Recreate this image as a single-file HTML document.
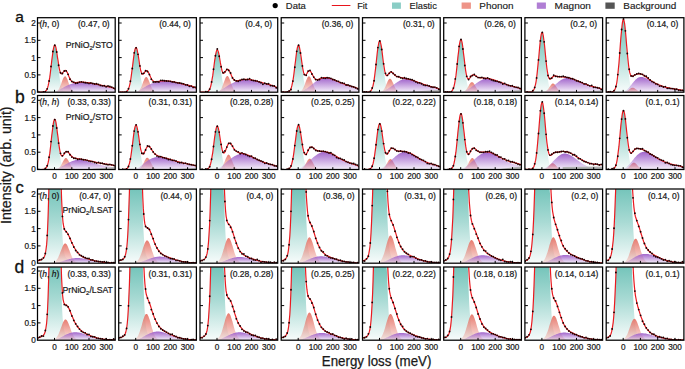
<!DOCTYPE html><html><head><meta charset="utf-8"><style>html,body{margin:0;padding:0;background:#fff;}svg{display:block;}</style></head><body>
<svg width="685" height="369" viewBox="0 0 685 369" font-family='"Liberation Sans", sans-serif'>
<defs>
<linearGradient id="gE" x1="0" y1="0" x2="0" y2="1"><stop offset="0" stop-color="#74c4ba"/><stop offset="0.45" stop-color="#74c4ba" stop-opacity="0.62"/><stop offset="1" stop-color="#74c4ba" stop-opacity="0.05"/></linearGradient>
<linearGradient id="gP" x1="0" y1="0" x2="0" y2="1"><stop offset="0" stop-color="#e77c70"/><stop offset="1" stop-color="#e77c70" stop-opacity="0.18"/></linearGradient>
<linearGradient id="gM" x1="0" y1="0" x2="0" y2="1"><stop offset="0" stop-color="#a266cc"/><stop offset="1" stop-color="#a266cc" stop-opacity="0.1"/></linearGradient>
<linearGradient id="gB" x1="0" y1="0" x2="0" y2="1"><stop offset="0" stop-color="#777"/><stop offset="1" stop-color="#777" stop-opacity="0.2"/></linearGradient>

<clipPath id="c00"><rect x="37.5" y="17.7" width="77.7" height="74.5"/></clipPath>
<clipPath id="c01"><rect x="118.7" y="17.7" width="77.7" height="74.5"/></clipPath>
<clipPath id="c02"><rect x="200" y="17.7" width="77.7" height="74.5"/></clipPath>
<clipPath id="c03"><rect x="281.2" y="17.7" width="77.7" height="74.5"/></clipPath>
<clipPath id="c04"><rect x="362.5" y="17.7" width="77.7" height="74.5"/></clipPath>
<clipPath id="c05"><rect x="443.7" y="17.7" width="77.7" height="74.5"/></clipPath>
<clipPath id="c06"><rect x="524.9" y="17.7" width="77.7" height="74.5"/></clipPath>
<clipPath id="c07"><rect x="606.2" y="17.7" width="77.7" height="74.5"/></clipPath>
<clipPath id="c10"><rect x="37.5" y="95.5" width="77.7" height="74"/></clipPath>
<clipPath id="c11"><rect x="118.7" y="95.5" width="77.7" height="74"/></clipPath>
<clipPath id="c12"><rect x="200" y="95.5" width="77.7" height="74"/></clipPath>
<clipPath id="c13"><rect x="281.2" y="95.5" width="77.7" height="74"/></clipPath>
<clipPath id="c14"><rect x="362.5" y="95.5" width="77.7" height="74"/></clipPath>
<clipPath id="c15"><rect x="443.7" y="95.5" width="77.7" height="74"/></clipPath>
<clipPath id="c16"><rect x="524.9" y="95.5" width="77.7" height="74"/></clipPath>
<clipPath id="c17"><rect x="606.2" y="95.5" width="77.7" height="74"/></clipPath>
<clipPath id="c20"><rect x="37.5" y="189" width="77.7" height="74.2"/></clipPath>
<clipPath id="c21"><rect x="118.7" y="189" width="77.7" height="74.2"/></clipPath>
<clipPath id="c22"><rect x="200" y="189" width="77.7" height="74.2"/></clipPath>
<clipPath id="c23"><rect x="281.2" y="189" width="77.7" height="74.2"/></clipPath>
<clipPath id="c24"><rect x="362.5" y="189" width="77.7" height="74.2"/></clipPath>
<clipPath id="c25"><rect x="443.7" y="189" width="77.7" height="74.2"/></clipPath>
<clipPath id="c26"><rect x="524.9" y="189" width="77.7" height="74.2"/></clipPath>
<clipPath id="c27"><rect x="606.2" y="189" width="77.7" height="74.2"/></clipPath>
<clipPath id="c30"><rect x="37.5" y="267" width="77.7" height="73.2"/></clipPath>
<clipPath id="c31"><rect x="118.7" y="267" width="77.7" height="73.2"/></clipPath>
<clipPath id="c32"><rect x="200" y="267" width="77.7" height="73.2"/></clipPath>
<clipPath id="c33"><rect x="281.2" y="267" width="77.7" height="73.2"/></clipPath>
<clipPath id="c34"><rect x="362.5" y="267" width="77.7" height="73.2"/></clipPath>
<clipPath id="c35"><rect x="443.7" y="267" width="77.7" height="73.2"/></clipPath>
<clipPath id="c36"><rect x="524.9" y="267" width="77.7" height="73.2"/></clipPath>
<clipPath id="c37"><rect x="606.2" y="267" width="77.7" height="73.2"/></clipPath>
</defs>
<style>.t{fill:#1a1a1a;stroke:#1a1a1a;stroke-width:0.22px;}</style>
<rect width="685" height="369" fill="#fff"/>
<circle cx="275.2" cy="5.6" r="2.6" fill="#000"/>
<text x="285.8" y="9.2" font-size="9.6" fill="#1a1a1a" stroke="#1a1a1a" stroke-width="0.15" textLength="20" lengthAdjust="spacingAndGlyphs">Data</text>
<line x1="331.8" y1="5.5" x2="350.4" y2="5.5" stroke="#e8141c" stroke-width="1"/>
<text x="357.2" y="9.2" font-size="9.6" fill="#1a1a1a" stroke="#1a1a1a" stroke-width="0.15" textLength="10.2" lengthAdjust="spacingAndGlyphs">Fit</text>
<rect x="392" y="2.5" width="8.9" height="6.3" fill="#8acdc5"/>
<text x="409.5" y="9.2" font-size="9.6" fill="#1a1a1a" stroke="#1a1a1a" stroke-width="0.15" textLength="27.3" lengthAdjust="spacingAndGlyphs">Elastic</text>
<rect x="461.6" y="2.5" width="9.3" height="6.3" fill="#ee9488"/>
<text x="479.3" y="9.2" font-size="9.6" fill="#1a1a1a" stroke="#1a1a1a" stroke-width="0.15" textLength="34.1" lengthAdjust="spacingAndGlyphs">Phonon</text>
<rect x="536.8" y="2.5" width="9.1" height="6.3" fill="#b07ed4"/>
<text x="554.6" y="9.2" font-size="9.6" fill="#1a1a1a" stroke="#1a1a1a" stroke-width="0.15" textLength="36.3" lengthAdjust="spacingAndGlyphs">Magnon</text>
<rect x="605.4" y="2.5" width="9.3" height="6.3" fill="#555"/>
<text x="623.3" y="9.2" font-size="9.6" fill="#1a1a1a" stroke="#1a1a1a" stroke-width="0.15" textLength="52.9" lengthAdjust="spacingAndGlyphs">Background</text>
<text x="15.3" y="21.5" font-size="15.5" fill="#111" stroke="#111" stroke-width="0.3">a</text>
<text x="15.0" y="102.9" font-size="17.5" fill="#111" stroke="#111" stroke-width="0.3">b</text>
<text x="15.6" y="192.9" font-size="16.5" fill="#111" stroke="#111" stroke-width="0.3">c</text>
<text x="14.6" y="272.9" font-size="17.5" fill="#111" stroke="#111" stroke-width="0.3">d</text>
<text x="321.8" y="365.6" font-size="13.8" fill="#1a1a1a" stroke="#1a1a1a" stroke-width="0.25" textLength="109.6" lengthAdjust="spacingAndGlyphs">Energy loss (meV)</text>
<text transform="translate(10.8,224) rotate(-90)" x="0" y="0" font-size="13.8" fill="#1a1a1a" stroke="#1a1a1a" stroke-width="0.25" textLength="117.6" lengthAdjust="spacingAndGlyphs">Intensity (arb. unit)</text>
<g clip-path="url(#c00)"><path d="M44,92.2L44,92L44.5,91.8L45,91.6L45.5,91.3L46,90.7L46.6,90L47.1,89L47.6,87.7L48.1,85.9L48.6,83.7L49.1,81L49.7,77.7L50.2,74L50.7,69.9L51.2,65.6L51.7,61.1L52.3,56.9L52.8,53L53.3,49.8L53.8,47.4L54.3,46.1L54.8,45.9L55.4,46.9L55.9,48.9L56.4,51.8L56.9,55.5L57.4,59.7L58,64.1L58.5,68.5L59,72.7L59.5,76.5L60,80L60.5,82.8L61.1,85.2L61.6,87.1L62.1,88.6L62.6,89.7L63.1,90.5L63.7,91.1L64.2,91.5L64.7,91.8L65.2,91.9L65.7,92L65.7,92.2Z" fill="url(#gE)"/><path d="M54.8,92.2L54.8,92L55.4,91.9L55.9,91.7L56.4,91.5L56.9,91.2L57.4,90.8L58,90.3L58.5,89.6L59,88.8L59.5,87.8L60,86.6L60.5,85.4L61.1,84L61.6,82.5L62.1,81.1L62.6,79.7L63.1,78.5L63.7,77.5L64.2,76.8L64.7,76.4L65.2,76.3L65.7,76.6L66.2,77.2L66.8,78.2L67.3,79.3L67.8,80.6L68.3,82.1L68.8,83.5L69.4,84.9L69.9,86.2L70.4,87.4L70.9,88.4L71.4,89.3L71.9,90L72.5,90.6L73,91.1L73.5,91.4L74,91.7L74.5,91.8L75.1,92L75.6,92L75.6,92.2Z" fill="url(#gP)"/><path d="M52.3,92.2L52.3,92L52.8,92L53.3,91.9L53.8,91.8L54.3,91.7L54.8,91.6L55.4,91.5L55.9,91.3L56.4,91.2L56.9,91L57.4,90.8L58,90.5L58.5,90.3L59,90L59.5,89.7L60,89.4L60.5,89.1L61.1,88.8L61.6,88.5L62.1,88.2L62.6,87.9L63.1,87.6L63.7,87.4L64.2,87.1L64.7,86.8L65.2,86.5L65.7,86.3L66.2,86L66.8,85.8L67.3,85.5L67.8,85.3L68.3,85.1L68.8,84.9L69.4,84.6L69.9,84.4L70.4,84.2L70.9,84.1L71.4,83.9L71.9,83.7L72.5,83.5L73,83.4L73.5,83.2L74,83.1L74.5,83L75.1,82.9L75.6,82.7L76.1,82.6L76.6,82.6L77.1,82.5L77.6,82.4L78.2,82.3L78.7,82.3L79.2,82.2L79.7,82.2L80.2,82.2L80.8,82.2L81.3,82.2L81.8,82.2L82.3,82.2L82.8,82.2L83.3,82.2L83.9,82.2L84.4,82.3L84.9,82.3L85.4,82.4L85.9,82.4L86.4,82.5L87,82.5L87.5,82.6L88,82.7L88.5,82.8L89,82.8L89.6,82.9L90.1,83L90.6,83.1L91.1,83.2L91.6,83.3L92.1,83.4L92.7,83.5L93.2,83.6L93.7,83.7L94.2,83.8L94.7,83.9L95.3,84L95.8,84.1L96.3,84.2L96.8,84.3L97.3,84.4L97.8,84.5L98.4,84.6L98.9,84.8L99.4,84.9L99.9,85L100.4,85.1L101,85.2L101.5,85.3L102,85.4L102.5,85.5L103,85.6L103.5,85.7L104.1,85.8L104.6,85.9L105.1,86L105.6,86.1L106.1,86.3L106.7,86.4L107.2,86.5L107.7,86.6L108.2,86.7L108.7,86.8L109.2,86.9L109.8,87L110.3,87.1L110.8,87.3L111.3,87.4L111.8,87.6L112.4,87.7L112.9,87.9L113.4,88.2L113.9,88.4L114.4,88.6L114.9,88.9L115.5,89.2L115.5,92.2Z" fill="url(#gM)"/><path d="M37.2,92.2 L37.7,92.2 L38.3,92.2 L38.8,92.2 L39.3,92.2 L39.8,92.2 L40.3,92.2 L40.9,92.2 L41.4,92.2 L41.9,92.2 L42.4,92.2 L42.9,92.1 L43.4,92.1 L44,92 L44.5,91.8 L45,91.6 L45.5,91.3 L46,90.7 L46.6,90 L47.1,89 L47.6,87.7 L48.1,85.9 L48.6,83.7 L49.1,81 L49.7,77.7 L50.2,74 L50.7,69.8 L51.2,65.5 L51.7,61 L52.3,56.7 L52.8,52.7 L53.3,49.4 L53.8,47 L54.3,45.5 L54.8,45.1 L55.4,45.8 L55.9,47.5 L56.4,50.1 L56.9,53.3 L57.4,56.8 L58,60.4 L58.5,63.9 L59,67.1 L59.5,69.6 L60,71.6 L60.5,73 L61.1,73.7 L61.6,73.8 L62.1,73.6 L62.6,73 L63.1,72.3 L63.7,71.6 L64.2,70.9 L64.7,70.5 L65.2,70.4 L65.7,70.5 L66.2,70.9 L66.8,71.7 L67.3,72.6 L67.8,73.7 L68.3,74.9 L68.8,76.2 L69.4,77.4 L69.9,78.5 L70.4,79.5 L70.9,80.3 L71.4,81 L71.9,81.6 L72.5,82 L73,82.3 L73.5,82.5 L74,82.6 L74.5,82.6 L75.1,82.6 L75.6,82.6 L76.1,82.6 L76.6,82.5 L77.1,82.4 L77.6,82.4 L78.2,82.3 L78.7,82.3 L79.2,82.2 L79.7,82.2 L80.2,82.2 L80.8,82.2 L81.3,82.2 L81.8,82.2 L82.3,82.2 L82.8,82.2 L83.3,82.2 L83.9,82.2 L84.4,82.3 L84.9,82.3 L85.4,82.4 L85.9,82.4 L86.4,82.5 L87,82.5 L87.5,82.6 L88,82.7 L88.5,82.8 L89,82.8 L89.6,82.9 L90.1,83 L90.6,83.1 L91.1,83.2 L91.6,83.3 L92.1,83.4 L92.7,83.5 L93.2,83.6 L93.7,83.7 L94.2,83.8 L94.7,83.9 L95.3,84 L95.8,84.1 L96.3,84.2 L96.8,84.3 L97.3,84.4 L97.8,84.5 L98.4,84.6 L98.9,84.8 L99.4,84.9 L99.9,85 L100.4,85.1 L101,85.2 L101.5,85.3 L102,85.4 L102.5,85.5 L103,85.6 L103.5,85.7 L104.1,85.8 L104.6,85.9 L105.1,86 L105.6,86.1 L106.1,86.3 L106.7,86.4 L107.2,86.5 L107.7,86.6 L108.2,86.7 L108.7,86.8 L109.2,86.9 L109.8,87 L110.3,87.1 L110.8,87.3 L111.3,87.4 L111.8,87.6 L112.4,87.7 L112.9,87.9 L113.4,88.2 L113.9,88.4 L114.4,88.6 L114.9,88.9 L115.5,89.2" fill="none" stroke="#ea1a20" stroke-width="1.2" stroke-linejoin="round"/><path d="M37.7,91.5h0M39.6,92.3h0M41.5,92.6h0M43.4,92h0M45.3,91.8h0M47.2,88.8h0M49.1,81h0M51,66.5h0M52.9,51.5h0M54.8,45.2h0M56.7,52h0M58.6,65.2h0M60.5,72.7h0M62.4,73.5h0M64.3,71h0M66.2,70.9h0M68.1,74.3h0M70,79.2h0M71.9,81.4h0M73.8,82.1h0M75.7,83.2h0M77.6,83h0M79.5,82.1h0M81.4,81.8h0M83.3,82.3h0M85.2,82.7h0M87.1,82.9h0M89,83.4h0M90.9,83h0M92.8,83.5h0M94.7,84h0M96.6,83.7h0M98.5,84.4h0M100.4,85.4h0M102.3,85.8h0M104.2,85.7h0M106.1,86.7h0M108,86h0M109.9,86.5h0M111.8,87.1h0M113.7,88.1h0M115.6,89h0" stroke="#1a0000" stroke-width="1.85" stroke-linecap="round" fill="none"/></g>
<rect x="37.5" y="17.7" width="77.7" height="74.5" fill="none" stroke="#000" stroke-width="1.25"/>
<path d="M37.5,74.9h3M37.5,57.6h3M37.5,40.3h3M37.5,23h3M54.5,92.2v-2.3M71.8,92.2v-2.3M89,92.2v-2.3M106.3,92.2v-2.3" stroke="#000" stroke-width="1"/>
<text x="109.7" y="27.4" font-size="8.5" class="t" text-anchor="end">(0.47, 0)</text>
<text x="39.5" y="27.4" font-size="8.5" class="t">(<tspan font-style="italic">h</tspan>, 0)</text>
<text x="112.9" y="47.5" font-size="8.7" class="t" text-anchor="end">PrNiO<tspan font-size="5.9" dy="2.3">2</tspan><tspan dy="-2.3">/STO</tspan></text>
<text x="35.9" y="95.1" font-size="8.2" class="t" text-anchor="end">0</text>
<text x="35.9" y="77.8" font-size="8.2" class="t" text-anchor="end">0.5</text>
<text x="35.9" y="60.5" font-size="8.2" class="t" text-anchor="end">1</text>
<text x="35.9" y="43.2" font-size="8.2" class="t" text-anchor="end">1.5</text>
<text x="35.9" y="25.9" font-size="8.2" class="t" text-anchor="end">2</text>
<g clip-path="url(#c01)"><path d="M125.2,92.2L125.2,92L125.7,91.8L126.2,91.6L126.8,91.3L127.3,90.8L127.8,90.1L128.3,89.2L128.8,87.9L129.4,86.3L129.9,84.1L130.4,81.6L130.9,78.5L131.4,75L131.9,71.1L132.5,66.9L133,62.8L133.5,58.7L134,55L134.5,52L135,49.8L135.6,48.5L136.1,48.3L136.6,49.2L137.1,51.1L137.6,53.9L138.2,57.4L138.7,61.4L139.2,65.5L139.7,69.7L140.2,73.7L140.7,77.4L141.3,80.6L141.8,83.3L142.3,85.6L142.8,87.4L143.3,88.8L143.9,89.9L144.4,90.6L144.9,91.2L145.4,91.5L145.9,91.8L146.4,91.9L147,92L147,92.2Z" fill="url(#gE)"/><path d="M136.1,92.2L136.1,92L136.6,91.9L137.1,91.7L137.6,91.5L138.2,91.2L138.7,90.8L139.2,90.3L139.7,89.7L140.2,88.9L140.7,88L141.3,86.9L141.8,85.7L142.3,84.3L142.8,83L143.3,81.6L143.9,80.3L144.4,79.1L144.9,78.1L145.4,77.4L145.9,77.1L146.4,77L147,77.3L147.5,77.9L148,78.8L148.5,79.9L149,81.1L149.6,82.5L150.1,83.9L150.6,85.2L151.1,86.5L151.6,87.6L152.1,88.6L152.7,89.4L153.2,90.1L153.7,90.7L154.2,91.1L154.7,91.4L155.3,91.7L155.8,91.9L156.3,92L156.8,92.1L156.8,92.2Z" fill="url(#gP)"/><path d="M133.5,92.2L133.5,92L134,92L134.5,91.9L135,91.8L135.6,91.7L136.1,91.6L136.6,91.4L137.1,91.3L137.6,91.1L138.2,90.9L138.7,90.6L139.2,90.4L139.7,90.1L140.2,89.8L140.7,89.5L141.3,89.2L141.8,88.9L142.3,88.6L142.8,88.3L143.3,87.9L143.9,87.6L144.4,87.3L144.9,87L145.4,86.7L145.9,86.4L146.4,86.1L147,85.8L147.5,85.5L148,85.3L148.5,85L149,84.7L149.6,84.5L150.1,84.3L150.6,84L151.1,83.8L151.6,83.6L152.1,83.4L152.7,83.2L153.2,83L153.7,82.8L154.2,82.6L154.7,82.4L155.3,82.2L155.8,82.1L156.3,81.9L156.8,81.8L157.3,81.6L157.8,81.5L158.4,81.4L158.9,81.3L159.4,81.2L159.9,81.1L160.4,81L161,81L161.5,80.9L162,80.9L162.5,80.8L163,80.8L163.5,80.8L164.1,80.8L164.6,80.8L165.1,80.8L165.6,80.8L166.1,80.8L166.7,80.9L167.2,80.9L167.7,81L168.2,81L168.7,81.1L169.2,81.1L169.8,81.2L170.3,81.3L170.8,81.3L171.3,81.4L171.8,81.5L172.4,81.6L172.9,81.7L173.4,81.8L173.9,81.9L174.4,82L174.9,82.1L175.5,82.2L176,82.4L176.5,82.5L177,82.6L177.5,82.7L178.1,82.8L178.6,82.9L179.1,83.1L179.6,83.2L180.1,83.3L180.6,83.4L181.2,83.6L181.7,83.7L182.2,83.8L182.7,83.9L183.2,84.1L183.8,84.2L184.3,84.3L184.8,84.4L185.3,84.6L185.8,84.7L186.3,84.8L186.9,84.9L187.4,85.1L187.9,85.2L188.4,85.3L188.9,85.4L189.4,85.5L190,85.7L190.5,85.8L191,85.9L191.5,86.1L192,86.3L192.6,86.4L193.1,86.6L193.6,86.8L194.1,87.1L194.6,87.3L195.1,87.6L195.7,87.9L196.2,88.2L196.7,88.6L196.7,92.2Z" fill="url(#gM)"/><path d="M118.5,92.2 L119,92.2 L119.5,92.2 L120,92.2 L120.5,92.2 L121.1,92.2 L121.6,92.2 L122.1,92.2 L122.6,92.2 L123.1,92.2 L123.7,92.2 L124.2,92.1 L124.7,92.1 L125.2,92 L125.7,91.8 L126.2,91.6 L126.8,91.3 L127.3,90.8 L127.8,90.1 L128.3,89.2 L128.8,87.9 L129.4,86.2 L129.9,84.1 L130.4,81.5 L130.9,78.5 L131.4,74.9 L131.9,71 L132.5,66.8 L133,62.6 L133.5,58.5 L134,54.8 L134.5,51.6 L135,49.3 L135.6,47.9 L136.1,47.5 L136.6,48.1 L137.1,49.7 L137.6,52.1 L138.2,55.1 L138.7,58.5 L139.2,61.9 L139.7,65.1 L140.2,68 L140.7,70.5 L141.3,72.3 L141.8,73.5 L142.3,74.1 L142.8,74.2 L143.3,73.9 L143.9,73.3 L144.4,72.6 L144.9,71.9 L145.4,71.3 L145.9,70.8 L146.4,70.6 L147,70.7 L147.5,71.1 L148,71.8 L148.5,72.6 L149,73.7 L149.6,74.8 L150.1,75.9 L150.6,77.1 L151.1,78.1 L151.6,79 L152.1,79.8 L152.7,80.4 L153.2,80.9 L153.7,81.3 L154.2,81.5 L154.7,81.7 L155.3,81.7 L155.8,81.7 L156.3,81.7 L156.8,81.6 L157.3,81.6 L157.8,81.5 L158.4,81.4 L158.9,81.3 L159.4,81.2 L159.9,81.1 L160.4,81 L161,81 L161.5,80.9 L162,80.9 L162.5,80.8 L163,80.8 L163.5,80.8 L164.1,80.8 L164.6,80.8 L165.1,80.8 L165.6,80.8 L166.1,80.8 L166.7,80.9 L167.2,80.9 L167.7,81 L168.2,81 L168.7,81.1 L169.2,81.1 L169.8,81.2 L170.3,81.3 L170.8,81.3 L171.3,81.4 L171.8,81.5 L172.4,81.6 L172.9,81.7 L173.4,81.8 L173.9,81.9 L174.4,82 L174.9,82.1 L175.5,82.2 L176,82.4 L176.5,82.5 L177,82.6 L177.5,82.7 L178.1,82.8 L178.6,82.9 L179.1,83.1 L179.6,83.2 L180.1,83.3 L180.6,83.4 L181.2,83.6 L181.7,83.7 L182.2,83.8 L182.7,83.9 L183.2,84.1 L183.8,84.2 L184.3,84.3 L184.8,84.4 L185.3,84.6 L185.8,84.7 L186.3,84.8 L186.9,84.9 L187.4,85.1 L187.9,85.2 L188.4,85.3 L188.9,85.4 L189.4,85.5 L190,85.7 L190.5,85.8 L191,85.9 L191.5,86.1 L192,86.3 L192.6,86.4 L193.1,86.6 L193.6,86.8 L194.1,87.1 L194.6,87.3 L195.1,87.6 L195.7,87.9 L196.2,88.2 L196.7,88.6" fill="none" stroke="#ea1a20" stroke-width="1.2" stroke-linejoin="round"/><path d="M119,93.3h0M120.9,92.5h0M122.8,92.5h0M124.7,92.3h0M126.6,91.7h0M128.5,88.7h0M130.4,81.2h0M132.3,68.5h0M134.2,52.8h0M136.1,47.8h0M138,54.3h0M139.9,65.9h0M141.8,73.6h0M143.7,73.3h0M145.6,70.7h0M147.5,71.5h0M149.4,74.5h0M151.3,79.2h0M153.2,82h0M155.1,82h0M157,81.7h0M158.9,82h0M160.8,80.3h0M162.7,80.4h0M164.6,80.7h0M166.5,81h0M168.4,81.1h0M170.3,81.3h0M172.2,81.9h0M174.1,82h0M176,82.6h0M177.9,82.9h0M179.8,83h0M181.7,83.4h0M183.6,83.8h0M185.5,84.8h0M187.4,85h0M189.3,86.3h0M191.2,86.1h0M193.1,87.4h0M195,87.1h0M196.9,88.8h0" stroke="#1a0000" stroke-width="1.85" stroke-linecap="round" fill="none"/></g>
<rect x="118.7" y="17.7" width="77.7" height="74.5" fill="none" stroke="#000" stroke-width="1.25"/>
<path d="M118.7,74.9h3M118.7,57.6h3M118.7,40.3h3M118.7,23h3M135.7,92.2v-2.3M153,92.2v-2.3M170.3,92.2v-2.3M187.6,92.2v-2.3" stroke="#000" stroke-width="1"/>
<text x="190.9" y="27.4" font-size="8.5" class="t" text-anchor="end">(0.44, 0)</text>
<g clip-path="url(#c02)"><path d="M206.4,92.2L206.4,92L207,91.9L207.5,91.7L208,91.4L208.5,90.9L209,90.3L209.6,89.4L210.1,88.2L210.6,86.6L211.1,84.6L211.6,82.1L212.1,79.2L212.7,75.9L213.2,72.2L213.7,68.3L214.2,64.4L214.7,60.6L215.3,57.1L215.8,54.2L216.3,52.1L216.8,50.9L217.3,50.7L217.8,51.6L218.4,53.4L218.9,56.1L219.4,59.3L219.9,63.1L220.4,67L221,71L221.5,74.7L222,78.2L222.5,81.2L223,83.8L223.5,86L224.1,87.7L224.6,89L225.1,90L225.6,90.7L226.1,91.2L226.7,91.6L227.2,91.8L227.7,92L228.2,92.1L228.2,92.2Z" fill="url(#gE)"/><path d="M216.8,92.2L216.8,92L217.3,92L217.8,91.8L218.4,91.6L218.9,91.4L219.4,91L219.9,90.6L220.4,90L221,89.3L221.5,88.4L222,87.3L222.5,86.1L223,84.8L223.5,83.3L224.1,81.8L224.6,80.4L225.1,79L225.6,77.8L226.1,76.9L226.7,76.3L227.2,76L227.7,76L228.2,76.4L228.7,77.2L229.2,78.2L229.8,79.5L230.3,80.9L230.8,82.3L231.3,83.8L231.8,85.2L232.4,86.5L232.9,87.7L233.4,88.7L233.9,89.5L234.4,90.2L234.9,90.8L235.5,91.2L236,91.5L236.5,91.7L237,91.9L237.5,92L237.5,92.2Z" fill="url(#gP)"/><path d="M214.7,92.2L214.7,92L215.3,92L215.8,91.9L216.3,91.8L216.8,91.7L217.3,91.6L217.8,91.4L218.4,91.2L218.9,91L219.4,90.8L219.9,90.6L220.4,90.3L221,90L221.5,89.7L222,89.4L222.5,89.1L223,88.7L223.5,88.4L224.1,88.1L224.6,87.7L225.1,87.4L225.6,87L226.1,86.7L226.7,86.4L227.2,86L227.7,85.7L228.2,85.4L228.7,85.1L229.2,84.8L229.8,84.5L230.3,84.2L230.8,84L231.3,83.7L231.8,83.4L232.4,83.2L232.9,82.9L233.4,82.7L233.9,82.4L234.4,82.2L234.9,82L235.5,81.8L236,81.5L236.5,81.3L237,81.1L237.5,81L238,80.8L238.6,80.6L239.1,80.4L239.6,80.3L240.1,80.2L240.6,80L241.2,79.9L241.7,79.8L242.2,79.7L242.7,79.6L243.2,79.6L243.7,79.5L244.3,79.5L244.8,79.4L245.3,79.4L245.8,79.4L246.3,79.4L246.9,79.4L247.4,79.4L247.9,79.5L248.4,79.5L248.9,79.5L249.4,79.6L250,79.7L250.5,79.7L251,79.8L251.5,79.9L252,80L252.6,80.1L253.1,80.2L253.6,80.3L254.1,80.4L254.6,80.5L255.1,80.7L255.7,80.8L256.2,80.9L256.7,81.1L257.2,81.2L257.7,81.4L258.3,81.5L258.8,81.6L259.3,81.8L259.8,81.9L260.3,82.1L260.8,82.2L261.4,82.4L261.9,82.6L262.4,82.7L262.9,82.9L263.4,83L264,83.2L264.5,83.3L265,83.5L265.5,83.6L266,83.8L266.5,83.9L267.1,84.1L267.6,84.2L268.1,84.4L268.6,84.5L269.1,84.6L269.7,84.8L270.2,84.9L270.7,85.1L271.2,85.2L271.7,85.4L272.2,85.5L272.8,85.7L273.3,85.9L273.8,86.1L274.3,86.3L274.8,86.5L275.4,86.8L275.9,87.1L276.4,87.4L276.9,87.7L277.4,88L277.9,88.4L277.9,92.2Z" fill="url(#gM)"/><path d="M199.7,92.2 L200.2,92.2 L200.7,92.2 L201.3,92.2 L201.8,92.2 L202.3,92.2 L202.8,92.2 L203.3,92.2 L203.9,92.2 L204.4,92.2 L204.9,92.2 L205.4,92.1 L205.9,92.1 L206.4,92 L207,91.9 L207.5,91.7 L208,91.4 L208.5,90.9 L209,90.2 L209.6,89.4 L210.1,88.1 L210.6,86.6 L211.1,84.6 L211.6,82.1 L212.1,79.2 L212.7,75.9 L213.2,72.2 L213.7,68.2 L214.2,64.2 L214.7,60.3 L215.3,56.8 L215.8,53.8 L216.3,51.6 L216.8,50.2 L217.3,49.8 L217.8,50.4 L218.4,51.9 L218.9,54.1 L219.4,56.8 L219.9,59.8 L220.4,62.9 L221,65.8 L221.5,68.4 L222,70.5 L222.5,72 L223,72.9 L223.5,73.3 L224.1,73.2 L224.6,72.7 L225.1,72 L225.6,71.2 L226.1,70.4 L226.7,69.8 L227.2,69.4 L227.7,69.3 L228.2,69.5 L228.7,70 L229.2,70.8 L229.8,71.8 L230.3,72.9 L230.8,74.1 L231.3,75.3 L231.8,76.4 L232.4,77.5 L232.9,78.4 L233.4,79.2 L233.9,79.8 L234.4,80.2 L234.9,80.5 L235.5,80.7 L236,80.8 L236.5,80.9 L237,80.8 L237.5,80.7 L238,80.6 L238.6,80.5 L239.1,80.4 L239.6,80.3 L240.1,80.1 L240.6,80 L241.2,79.9 L241.7,79.8 L242.2,79.7 L242.7,79.6 L243.2,79.6 L243.7,79.5 L244.3,79.5 L244.8,79.4 L245.3,79.4 L245.8,79.4 L246.3,79.4 L246.9,79.4 L247.4,79.4 L247.9,79.5 L248.4,79.5 L248.9,79.5 L249.4,79.6 L250,79.7 L250.5,79.7 L251,79.8 L251.5,79.9 L252,80 L252.6,80.1 L253.1,80.2 L253.6,80.3 L254.1,80.4 L254.6,80.5 L255.1,80.7 L255.7,80.8 L256.2,80.9 L256.7,81.1 L257.2,81.2 L257.7,81.4 L258.3,81.5 L258.8,81.6 L259.3,81.8 L259.8,81.9 L260.3,82.1 L260.8,82.2 L261.4,82.4 L261.9,82.6 L262.4,82.7 L262.9,82.9 L263.4,83 L264,83.2 L264.5,83.3 L265,83.5 L265.5,83.6 L266,83.8 L266.5,83.9 L267.1,84.1 L267.6,84.2 L268.1,84.4 L268.6,84.5 L269.1,84.6 L269.7,84.8 L270.2,84.9 L270.7,85.1 L271.2,85.2 L271.7,85.4 L272.2,85.5 L272.8,85.7 L273.3,85.9 L273.8,86.1 L274.3,86.3 L274.8,86.5 L275.4,86.8 L275.9,87.1 L276.4,87.4 L276.9,87.7 L277.4,88 L277.9,88.4" fill="none" stroke="#ea1a20" stroke-width="1.2" stroke-linejoin="round"/><path d="M200.2,92.9h0M202.1,92.6h0M204,92.6h0M205.9,91.7h0M207.8,92h0M209.7,89.1h0M211.6,81.9h0M213.5,69.2h0M215.4,55.7h0M217.3,49h0M219.2,56.2h0M221.1,66.7h0M223,72.7h0M224.9,71.8h0M226.8,69.4h0M228.7,70.4h0M230.6,73h0M232.5,77.9h0M234.4,80h0M236.3,80.9h0M238.2,81.2h0M240.1,80.4h0M242,79.4h0M243.9,79.2h0M245.8,79.8h0M247.7,79.5h0M249.6,78.6h0M251.5,80.1h0M253.4,80.6h0M255.3,80.7h0M257.2,81.1h0M259.1,81.9h0M261,82.7h0M262.9,84.2h0M264.8,83.2h0M266.7,83.9h0M268.6,83.7h0M270.5,85.6h0M272.4,85.7h0M274.3,86h0M276.2,87.7h0M278.1,87.9h0" stroke="#1a0000" stroke-width="1.85" stroke-linecap="round" fill="none"/></g>
<rect x="200" y="17.7" width="77.7" height="74.5" fill="none" stroke="#000" stroke-width="1.25"/>
<path d="M200,74.9h3M200,57.6h3M200,40.3h3M200,23h3M217,92.2v-2.3M234.2,92.2v-2.3M251.5,92.2v-2.3M268.8,92.2v-2.3" stroke="#000" stroke-width="1"/>
<text x="272.2" y="27.4" font-size="8.5" class="t" text-anchor="end">(0.4, 0)</text>
<g clip-path="url(#c03)"><path d="M287.7,92.2L287.7,92L288.2,91.8L288.7,91.6L289.2,91.3L289.8,90.7L290.3,90L290.8,89L291.3,87.7L291.8,85.9L292.3,83.7L292.9,81L293.4,77.7L293.9,74L294.4,69.9L294.9,65.6L295.5,61.1L296,56.9L296.5,53L297,49.8L297.5,47.4L298,46.1L298.6,45.9L299.1,46.9L299.6,48.9L300.1,51.8L300.6,55.5L301.2,59.7L301.7,64.1L302.2,68.5L302.7,72.7L303.2,76.5L303.7,80L304.3,82.8L304.8,85.2L305.3,87.1L305.8,88.6L306.3,89.7L306.9,90.5L307.4,91.1L307.9,91.5L308.4,91.8L308.9,91.9L309.4,92L309.4,92.2Z" fill="url(#gE)"/><path d="M298.6,92.2L298.6,92L299.1,91.9L299.6,91.8L300.1,91.6L300.6,91.3L301.2,90.9L301.7,90.4L302.2,89.8L302.7,89.1L303.2,88.1L303.7,87L304.3,85.8L304.8,84.5L305.3,83L305.8,81.6L306.3,80.2L306.9,78.9L307.4,77.8L307.9,77L308.4,76.5L308.9,76.3L309.4,76.5L310,77L310.5,77.8L311,78.9L311.5,80.2L312,81.6L312.6,83L313.1,84.5L313.6,85.8L314.1,87L314.6,88.1L315.1,89.1L315.7,89.8L316.2,90.4L316.7,90.9L317.2,91.3L317.7,91.6L318.3,91.8L318.8,91.9L319.3,92L319.3,92.2Z" fill="url(#gP)"/><path d="M297,92.2L297,92.1L297.5,92L298,91.9L298.6,91.9L299.1,91.8L299.6,91.7L300.1,91.6L300.6,91.5L301.2,91.3L301.7,91.1L302.2,90.9L302.7,90.7L303.2,90.5L303.7,90.3L304.3,90L304.8,89.7L305.3,89.4L305.8,89.1L306.3,88.8L306.9,88.4L307.4,88.1L307.9,87.7L308.4,87.3L308.9,87L309.4,86.6L310,86.2L310.5,85.8L311,85.4L311.5,84.9L312,84.5L312.6,84.1L313.1,83.7L313.6,83.3L314.1,82.8L314.6,82.4L315.1,82L315.7,81.6L316.2,81.2L316.7,80.9L317.2,80.5L317.7,80.2L318.3,79.8L318.8,79.5L319.3,79.2L319.8,79L320.3,78.7L320.8,78.5L321.4,78.3L321.9,78.2L322.4,78L322.9,77.9L323.4,77.8L324,77.7L324.5,77.7L325,77.7L325.5,77.7L326,77.7L326.5,77.7L327.1,77.8L327.6,77.9L328.1,78L328.6,78.1L329.1,78.2L329.7,78.3L330.2,78.5L330.7,78.6L331.2,78.8L331.7,79L332.2,79.2L332.8,79.4L333.3,79.6L333.8,79.8L334.3,80L334.8,80.2L335.4,80.4L335.9,80.6L336.4,80.8L336.9,81.1L337.4,81.3L337.9,81.5L338.5,81.7L339,81.9L339.5,82.2L340,82.4L340.5,82.6L341,82.8L341.6,83L342.1,83.2L342.6,83.4L343.1,83.6L343.6,83.8L344.2,84L344.7,84.2L345.2,84.4L345.7,84.6L346.2,84.8L346.7,84.9L347.3,85.1L347.8,85.3L348.3,85.4L348.8,85.6L349.3,85.7L349.9,85.9L350.4,86L350.9,86.2L351.4,86.3L351.9,86.5L352.4,86.6L353,86.8L353.5,86.9L354,87.1L354.5,87.2L355,87.4L355.6,87.6L356.1,87.8L356.6,88L357.1,88.2L357.6,88.5L358.1,88.7L358.7,89L359.2,89.3L359.2,92.2Z" fill="url(#gM)"/><path d="M280.9,92.2 L281.5,92.2 L282,92.2 L282.5,92.2 L283,92.2 L283.5,92.2 L284.1,92.2 L284.6,92.2 L285.1,92.2 L285.6,92.2 L286.1,92.2 L286.6,92.1 L287.2,92.1 L287.7,92 L288.2,91.8 L288.7,91.6 L289.2,91.3 L289.8,90.7 L290.3,90 L290.8,89 L291.3,87.7 L291.8,85.9 L292.3,83.7 L292.9,81 L293.4,77.7 L293.9,74 L294.4,69.9 L294.9,65.5 L295.5,61.1 L296,56.8 L296.5,52.9 L297,49.6 L297.5,47.2 L298,45.7 L298.6,45.4 L299.1,46.2 L299.6,48 L300.1,50.6 L300.6,53.9 L301.2,57.5 L301.7,61.3 L302.2,64.9 L302.7,68.1 L303.2,70.8 L303.7,72.9 L304.3,74.3 L304.8,75 L305.3,75.2 L305.8,74.9 L306.3,74.3 L306.9,73.5 L307.4,72.6 L307.9,71.8 L308.4,71.2 L308.9,70.8 L309.4,70.7 L310,70.9 L310.5,71.3 L311,72 L311.5,72.9 L312,73.9 L312.6,74.9 L313.1,75.9 L313.6,76.9 L314.1,77.7 L314.6,78.4 L315.1,78.9 L315.7,79.3 L316.2,79.5 L316.7,79.6 L317.2,79.6 L317.7,79.6 L318.3,79.4 L318.8,79.3 L319.3,79.1 L319.8,78.9 L320.3,78.7 L320.8,78.5 L321.4,78.3 L321.9,78.1 L322.4,78 L322.9,77.9 L323.4,77.8 L324,77.7 L324.5,77.7 L325,77.7 L325.5,77.7 L326,77.7 L326.5,77.7 L327.1,77.8 L327.6,77.9 L328.1,78 L328.6,78.1 L329.1,78.2 L329.7,78.3 L330.2,78.5 L330.7,78.6 L331.2,78.8 L331.7,79 L332.2,79.2 L332.8,79.4 L333.3,79.6 L333.8,79.8 L334.3,80 L334.8,80.2 L335.4,80.4 L335.9,80.6 L336.4,80.8 L336.9,81.1 L337.4,81.3 L337.9,81.5 L338.5,81.7 L339,81.9 L339.5,82.2 L340,82.4 L340.5,82.6 L341,82.8 L341.6,83 L342.1,83.2 L342.6,83.4 L343.1,83.6 L343.6,83.8 L344.2,84 L344.7,84.2 L345.2,84.4 L345.7,84.6 L346.2,84.8 L346.7,84.9 L347.3,85.1 L347.8,85.3 L348.3,85.4 L348.8,85.6 L349.3,85.7 L349.9,85.9 L350.4,86 L350.9,86.2 L351.4,86.3 L351.9,86.5 L352.4,86.6 L353,86.8 L353.5,86.9 L354,87.1 L354.5,87.2 L355,87.4 L355.6,87.6 L356.1,87.8 L356.6,88 L357.1,88.2 L357.6,88.5 L358.1,88.7 L358.7,89 L359.2,89.3" fill="none" stroke="#ea1a20" stroke-width="1.2" stroke-linejoin="round"/><path d="M281.5,91.7h0M283.4,92.1h0M285.3,92.3h0M287.2,91.9h0M289.1,90.9h0M291,89.5h0M292.9,81.1h0M294.8,67.2h0M296.7,51.3h0M298.6,45.2h0M300.5,53h0M302.4,65.9h0M304.3,74.6h0M306.2,75.2h0M308.1,71.1h0M310,70.3h0M311.9,74h0M313.8,77.1h0M315.7,79.5h0M317.6,80.1h0M319.5,79.5h0M321.4,77.6h0M323.3,78.1h0M325.2,78.3h0M327.1,77.7h0M329,77.8h0M330.9,78.3h0M332.8,79.5h0M334.7,79.9h0M336.6,80.9h0M338.5,81.3h0M340.4,82.6h0M342.3,82.9h0M344.2,83.3h0M346.1,85h0M348,85h0M349.9,85.7h0M351.8,86.5h0M353.7,86.9h0M355.6,87.7h0M357.5,88.7h0M359.4,90h0" stroke="#1a0000" stroke-width="1.85" stroke-linecap="round" fill="none"/></g>
<rect x="281.2" y="17.7" width="77.7" height="74.5" fill="none" stroke="#000" stroke-width="1.25"/>
<path d="M281.2,74.9h3M281.2,57.6h3M281.2,40.3h3M281.2,23h3M298.2,92.2v-2.3M315.5,92.2v-2.3M332.8,92.2v-2.3M350,92.2v-2.3" stroke="#000" stroke-width="1"/>
<text x="353.4" y="27.4" font-size="8.5" class="t" text-anchor="end">(0.36, 0)</text>
<g clip-path="url(#c04)"><path d="M368.4,92.2L368.4,92.1L368.9,92L369.4,91.8L370,91.5L370.5,91.2L371,90.6L371.5,89.8L372,88.7L372.6,87.2L373.1,85.3L373.6,82.9L374.1,79.9L374.6,76.3L375.1,72.3L375.7,67.8L376.2,63L376.7,58.1L377.2,53.4L377.7,49.2L378.3,45.7L378.8,43.1L379.3,41.6L379.8,41.4L380.3,42.5L380.8,44.7L381.4,47.9L381.9,52L382.4,56.5L382.9,61.4L383.4,66.2L384,70.8L384.5,75L385,78.8L385.5,81.9L386,84.6L386.5,86.7L387.1,88.3L387.6,89.5L388.1,90.4L388.6,91L389.1,91.4L389.6,91.7L390.2,91.9L390.7,92L390.7,92.2Z" fill="url(#gE)"/><path d="M379.8,92.2L379.8,92L380.3,91.9L380.8,91.8L381.4,91.6L381.9,91.3L382.4,91L382.9,90.5L383.4,90L384,89.3L384.5,88.4L385,87.5L385.5,86.4L386,85.2L386.5,84L387.1,82.8L387.6,81.6L388.1,80.6L388.6,79.7L389.1,79.1L389.6,78.8L390.2,78.7L390.7,79L391.2,79.5L391.7,80.3L392.2,81.3L392.8,82.4L393.3,83.6L393.8,84.8L394.3,86L394.8,87.1L395.3,88.1L395.9,89L396.4,89.8L396.9,90.4L397.4,90.9L397.9,91.2L398.5,91.5L399,91.7L399.5,91.9L400,92L400,92.2Z" fill="url(#gP)"/><path d="M378.3,92.2L378.3,92.1L378.8,92L379.3,92L379.8,91.9L380.3,91.8L380.8,91.7L381.4,91.6L381.9,91.5L382.4,91.3L382.9,91.2L383.4,91L384,90.8L384.5,90.6L385,90.4L385.5,90.1L386,89.8L386.5,89.6L387.1,89.3L387.6,89L388.1,88.6L388.6,88.3L389.1,88L389.6,87.6L390.2,87.3L390.7,86.9L391.2,86.5L391.7,86.1L392.2,85.8L392.8,85.4L393.3,85L393.8,84.6L394.3,84.2L394.8,83.9L395.3,83.5L395.9,83.1L396.4,82.8L396.9,82.4L397.4,82.1L397.9,81.7L398.5,81.4L399,81.1L399.5,80.8L400,80.6L400.5,80.3L401,80.1L401.6,79.9L402.1,79.7L402.6,79.5L403.1,79.4L403.6,79.3L404.2,79.2L404.7,79.1L405.2,79.1L405.7,79.1L406.2,79.1L406.7,79.1L407.3,79.1L407.8,79.1L408.3,79.2L408.8,79.3L409.3,79.4L409.9,79.5L410.4,79.6L410.9,79.7L411.4,79.9L411.9,80L412.4,80.2L413,80.4L413.5,80.5L414,80.7L414.5,80.9L415,81.1L415.6,81.3L416.1,81.5L416.6,81.7L417.1,81.9L417.6,82.1L418.1,82.3L418.7,82.5L419.2,82.7L419.7,82.9L420.2,83.1L420.7,83.3L421.3,83.4L421.8,83.6L422.3,83.8L422.8,84L423.3,84.2L423.8,84.4L424.4,84.6L424.9,84.7L425.4,84.9L425.9,85.1L426.4,85.3L427,85.4L427.5,85.6L428,85.7L428.5,85.9L429,86L429.5,86.2L430.1,86.3L430.6,86.5L431.1,86.6L431.6,86.7L432.1,86.9L432.7,87L433.2,87.1L433.7,87.2L434.2,87.4L434.7,87.5L435.2,87.6L435.8,87.8L436.3,87.9L436.8,88.1L437.3,88.3L437.8,88.5L438.4,88.7L438.9,88.9L439.4,89.1L439.9,89.3L440.4,89.6L440.4,92.2Z" fill="url(#gM)"/><path d="M412.3,92.2L412.3,91.4L440.2,90L440.2,92.2Z" fill="#b3b3b3"/><path d="M362.2,92.2 L362.7,92.2 L363.2,92.2 L363.7,92.2 L364.3,92.2 L364.8,92.2 L365.3,92.2 L365.8,92.2 L366.3,92.2 L366.9,92.2 L367.4,92.2 L367.9,92.1 L368.4,92.1 L368.9,92 L369.4,91.8 L370,91.5 L370.5,91.2 L371,90.6 L371.5,89.8 L372,88.7 L372.6,87.2 L373.1,85.3 L373.6,82.9 L374.1,79.9 L374.6,76.3 L375.1,72.2 L375.7,67.7 L376.2,62.9 L376.7,58 L377.2,53.3 L377.7,49.1 L378.3,45.5 L378.8,42.8 L379.3,41.3 L379.8,40.9 L380.3,41.8 L380.8,43.8 L381.4,46.7 L381.9,50.4 L382.4,54.4 L382.9,58.7 L383.4,62.7 L384,66.4 L384.5,69.6 L385,72.1 L385.5,73.9 L386,75 L386.5,75.6 L387.1,75.6 L387.6,75.2 L388.1,74.6 L388.6,73.9 L389.1,73.2 L389.6,72.6 L390.2,72.2 L390.7,71.9 L391.2,71.9 L391.7,72.1 L392.2,72.4 L392.8,72.9 L393.3,73.4 L393.8,74 L394.3,74.5 L394.8,75 L395.3,75.5 L395.9,75.9 L396.4,76.2 L396.9,76.4 L397.4,76.6 L397.9,76.8 L398.5,76.9 L399,77 L399.5,77.1 L400,77.3 L400.5,77.4 L401,77.5 L401.6,77.6 L402.1,77.7 L402.6,77.9 L403.1,78 L403.6,78.1 L404.2,78.3 L404.7,78.4 L405.2,78.5 L405.7,78.6 L406.2,78.7 L406.7,78.8 L407.3,78.9 L407.8,79 L408.3,79.1 L408.8,79.2 L409.3,79.3 L409.9,79.5 L410.4,79.6 L410.9,79.7 L411.4,79.9 L411.9,80 L412.4,80.2 L413,80.4 L413.5,80.5 L414,80.7 L414.5,80.9 L415,81.1 L415.6,81.3 L416.1,81.5 L416.6,81.7 L417.1,81.9 L417.6,82.1 L418.1,82.3 L418.7,82.5 L419.2,82.7 L419.7,82.9 L420.2,83.1 L420.7,83.3 L421.3,83.4 L421.8,83.6 L422.3,83.8 L422.8,84 L423.3,84.2 L423.8,84.4 L424.4,84.6 L424.9,84.7 L425.4,84.9 L425.9,85.1 L426.4,85.3 L427,85.4 L427.5,85.6 L428,85.7 L428.5,85.9 L429,86 L429.5,86.2 L430.1,86.3 L430.6,86.5 L431.1,86.6 L431.6,86.7 L432.1,86.9 L432.7,87 L433.2,87.1 L433.7,87.2 L434.2,87.4 L434.7,87.5 L435.2,87.6 L435.8,87.8 L436.3,87.9 L436.8,88.1 L437.3,88.3 L437.8,88.5 L438.4,88.7 L438.9,88.9 L439.4,89.1 L439.9,89.3 L440.4,89.6" fill="none" stroke="#ea1a20" stroke-width="1.2" stroke-linejoin="round"/><path d="M362.7,92h0M364.6,92h0M366.5,91.9h0M368.4,92.4h0M370.3,91.5h0M372.2,88h0M374.1,80.7h0M376,64.5h0M377.9,47.6h0M379.8,41h0M381.7,49.5h0M383.6,63.8h0M385.5,73.3h0M387.4,75.3h0M389.3,73.3h0M391.2,71.8h0M393.1,73.4h0M395,74.9h0M396.9,76.6h0M398.8,76.7h0M400.7,77.8h0M402.6,78.4h0M404.5,77.7h0M406.4,78.5h0M408.3,78.8h0M410.2,79.3h0M412.1,79.7h0M414,80.7h0M415.9,81.9h0M417.8,82.8h0M419.7,82.8h0M421.6,83.7h0M423.5,84.9h0M425.4,85.4h0M427.3,85.3h0M429.2,86h0M431.1,86.9h0M433,87.2h0M434.9,87.1h0M436.8,87.8h0M438.7,89.2h0M440.6,89.4h0" stroke="#1a0000" stroke-width="1.85" stroke-linecap="round" fill="none"/></g>
<rect x="362.5" y="17.7" width="77.7" height="74.5" fill="none" stroke="#000" stroke-width="1.25"/>
<path d="M362.5,74.9h3M362.5,57.6h3M362.5,40.3h3M362.5,23h3M379.5,92.2v-2.3M396.7,92.2v-2.3M414,92.2v-2.3M431.3,92.2v-2.3" stroke="#000" stroke-width="1"/>
<text x="434.7" y="27.4" font-size="8.5" class="t" text-anchor="end">(0.31, 0)</text>
<g clip-path="url(#c05)"><path d="M449.6,92.2L449.6,92L450.2,91.9L450.7,91.8L451.2,91.5L451.7,91.1L452.2,90.6L452.8,89.7L453.3,88.6L453.8,87.1L454.3,85.1L454.8,82.6L455.3,79.5L455.9,75.9L456.4,71.7L456.9,67.1L457.4,62.2L457.9,57.2L458.5,52.4L459,48L459.5,44.4L460,41.7L460.5,40.2L461,40L461.6,41.1L462.1,43.4L462.6,46.7L463.1,50.9L463.6,55.6L464.2,60.5L464.7,65.5L465.2,70.2L465.7,74.6L466.2,78.4L466.7,81.7L467.3,84.4L467.8,86.5L468.3,88.2L468.8,89.4L469.3,90.3L469.9,91L470.4,91.4L470.9,91.7L471.4,91.9L471.9,92L471.9,92.2Z" fill="url(#gE)"/><path d="M462.1,92.2L462.1,92L462.6,91.9L463.1,91.8L463.6,91.6L464.2,91.4L464.7,91.1L465.2,90.7L465.7,90.2L466.2,89.6L466.7,88.9L467.3,88.2L467.8,87.3L468.3,86.4L468.8,85.5L469.3,84.6L469.9,83.8L470.4,83.1L470.9,82.6L471.4,82.3L471.9,82.2L472.4,82.3L473,82.6L473.5,83.1L474,83.8L474.5,84.6L475,85.5L475.6,86.4L476.1,87.3L476.6,88.2L477.1,88.9L477.6,89.6L478.1,90.2L478.7,90.7L479.2,91.1L479.7,91.4L480.2,91.6L480.7,91.8L481.3,91.9L481.8,92L481.8,92.2Z" fill="url(#gP)"/><path d="M459.5,92.2L459.5,92L460,92L460.5,91.9L461,91.9L461.6,91.8L462.1,91.7L462.6,91.6L463.1,91.4L463.6,91.3L464.2,91.1L464.7,90.9L465.2,90.7L465.7,90.5L466.2,90.3L466.7,90L467.3,89.7L467.8,89.4L468.3,89.1L468.8,88.8L469.3,88.5L469.9,88.1L470.4,87.8L470.9,87.4L471.4,87L471.9,86.6L472.4,86.3L473,85.9L473.5,85.5L474,85.1L474.5,84.7L475,84.3L475.6,83.9L476.1,83.5L476.6,83.1L477.1,82.8L477.6,82.4L478.1,82L478.7,81.7L479.2,81.4L479.7,81L480.2,80.7L480.7,80.5L481.3,80.2L481.8,79.9L482.3,79.7L482.8,79.5L483.3,79.3L483.8,79.2L484.4,79L484.9,78.9L485.4,78.8L485.9,78.8L486.4,78.7L487,78.7L487.5,78.7L488,78.7L488.5,78.8L489,78.8L489.5,78.9L490.1,79L490.6,79L491.1,79.2L491.6,79.3L492.1,79.4L492.6,79.5L493.2,79.7L493.7,79.8L494.2,80L494.7,80.2L495.2,80.3L495.8,80.5L496.3,80.7L496.8,80.9L497.3,81.1L497.8,81.3L498.3,81.5L498.9,81.7L499.4,81.9L499.9,82.1L500.4,82.3L500.9,82.5L501.5,82.7L502,82.9L502.5,83.1L503,83.3L503.5,83.4L504,83.6L504.6,83.8L505.1,84L505.6,84.2L506.1,84.4L506.6,84.5L507.2,84.7L507.7,84.9L508.2,85L508.7,85.2L509.2,85.4L509.7,85.5L510.3,85.7L510.8,85.8L511.3,86L511.8,86.1L512.3,86.2L512.9,86.4L513.4,86.5L513.9,86.6L514.4,86.8L514.9,86.9L515.4,87L516,87.2L516.5,87.3L517,87.5L517.5,87.6L518,87.8L518.6,88L519.1,88.2L519.6,88.4L520.1,88.6L520.6,88.9L521.1,89.1L521.7,89.4L521.7,92.2Z" fill="url(#gM)"/><path d="M498.7,92.2L498.7,91.6L521.4,90L521.4,92.2Z" fill="#b3b3b3"/><path d="M443.4,92.2 L443.9,92.2 L444.5,92.2 L445,92.2 L445.5,92.2 L446,92.2 L446.5,92.2 L447.1,92.2 L447.6,92.2 L448.1,92.2 L448.6,92.2 L449.1,92.1 L449.6,92 L450.2,91.9 L450.7,91.8 L451.2,91.5 L451.7,91.1 L452.2,90.6 L452.8,89.7 L453.3,88.6 L453.8,87.1 L454.3,85.1 L454.8,82.6 L455.3,79.5 L455.9,75.9 L456.4,71.7 L456.9,67.1 L457.4,62.1 L457.9,57.1 L458.5,52.3 L459,47.9 L459.5,44.2 L460,41.5 L460.5,39.9 L461,39.6 L461.6,40.6 L462.1,42.7 L462.6,45.8 L463.1,49.7 L463.6,54.1 L464.2,58.6 L464.7,63.1 L465.2,67.2 L465.7,70.8 L466.2,73.8 L466.7,76.1 L467.3,77.7 L467.8,78.7 L468.3,79.1 L468.8,79 L469.3,78.6 L469.9,78 L470.4,77.3 L470.9,76.6 L471.4,75.9 L471.9,75.4 L472.4,75 L473,74.8 L473.5,74.8 L474,74.9 L474.5,75.1 L475,75.4 L475.6,75.8 L476.1,76.1 L476.6,76.5 L477.1,76.8 L477.6,77.1 L478.1,77.3 L478.7,77.5 L479.2,77.6 L479.7,77.7 L480.2,77.8 L480.7,77.8 L481.3,77.9 L481.8,77.9 L482.3,77.9 L482.8,78 L483.3,78 L483.8,78.1 L484.4,78.1 L484.9,78.2 L485.4,78.2 L485.9,78.3 L486.4,78.3 L487,78.4 L487.5,78.5 L488,78.5 L488.5,78.6 L489,78.7 L489.5,78.8 L490.1,78.9 L490.6,79 L491.1,79.1 L491.6,79.3 L492.1,79.4 L492.6,79.5 L493.2,79.7 L493.7,79.8 L494.2,80 L494.7,80.2 L495.2,80.3 L495.8,80.5 L496.3,80.7 L496.8,80.9 L497.3,81.1 L497.8,81.3 L498.3,81.5 L498.9,81.7 L499.4,81.9 L499.9,82.1 L500.4,82.3 L500.9,82.5 L501.5,82.7 L502,82.9 L502.5,83.1 L503,83.3 L503.5,83.4 L504,83.6 L504.6,83.8 L505.1,84 L505.6,84.2 L506.1,84.4 L506.6,84.5 L507.2,84.7 L507.7,84.9 L508.2,85 L508.7,85.2 L509.2,85.4 L509.7,85.5 L510.3,85.7 L510.8,85.8 L511.3,86 L511.8,86.1 L512.3,86.2 L512.9,86.4 L513.4,86.5 L513.9,86.6 L514.4,86.8 L514.9,86.9 L515.4,87 L516,87.2 L516.5,87.3 L517,87.5 L517.5,87.6 L518,87.8 L518.6,88 L519.1,88.2 L519.6,88.4 L520.1,88.6 L520.6,88.9 L521.1,89.1 L521.7,89.4" fill="none" stroke="#ea1a20" stroke-width="1.2" stroke-linejoin="round"/><path d="M443.9,92.1h0M445.8,92h0M447.7,91.9h0M449.6,92.1h0M451.5,91.7h0M453.4,88.1h0M455.3,78.9h0M457.2,64h0M459.1,46.4h0M461,39.5h0M462.9,49h0M464.8,65.5h0M466.7,76.3h0M468.6,79.5h0M470.5,76.5h0M472.4,75.6h0M474.3,74.5h0M476.2,76.3h0M478.1,77.6h0M480,77.6h0M481.9,77.3h0M483.8,78.2h0M485.7,78.6h0M487.6,77.8h0M489.5,78.8h0M491.4,79.8h0M493.3,80.5h0M495.2,81h0M497.1,81.3h0M499,82h0M500.9,82.5h0M502.8,84h0M504.7,83.4h0M506.6,84.6h0M508.5,85.4h0M510.4,85.8h0M512.3,85.7h0M514.2,86.8h0M516.1,87.3h0M518,87.5h0M519.9,88.4h0M521.8,89.6h0" stroke="#1a0000" stroke-width="1.85" stroke-linecap="round" fill="none"/></g>
<rect x="443.7" y="17.7" width="77.7" height="74.5" fill="none" stroke="#000" stroke-width="1.25"/>
<path d="M443.7,74.9h3M443.7,57.6h3M443.7,40.3h3M443.7,23h3M460.7,92.2v-2.3M478,92.2v-2.3M495.2,92.2v-2.3M512.5,92.2v-2.3" stroke="#000" stroke-width="1"/>
<text x="515.9" y="27.4" font-size="8.5" class="t" text-anchor="end">(0.26, 0)</text>
<g clip-path="url(#c06)"><path d="M530.9,92.2L530.9,92L531.4,91.9L531.9,91.7L532.4,91.4L533,91L533.5,90.3L534,89.4L534.5,88.1L535,86.4L535.6,84.1L536.1,81.3L536.6,77.8L537.1,73.6L537.6,68.9L538.1,63.6L538.7,58L539.2,52.3L539.7,46.8L540.2,41.9L540.7,37.7L541.2,34.7L541.8,33L542.3,32.8L542.8,34L543.3,36.6L543.8,40.4L544.4,45.1L544.9,50.5L545.4,56.1L545.9,61.8L546.4,67.2L546.9,72.1L547.5,76.5L548,80.2L548.5,83.3L549,85.7L549.5,87.6L550.1,89L550.6,90.1L551.1,90.8L551.6,91.3L552.1,91.6L552.6,91.9L553.2,92L553.2,92.2Z" fill="url(#gE)"/><path d="M543.3,92.2L543.3,92L543.8,91.9L544.4,91.8L544.9,91.7L545.4,91.4L545.9,91.1L546.4,90.8L546.9,90.3L547.5,89.8L548,89.2L548.5,88.5L549,87.7L549.5,87L550.1,86.2L550.6,85.4L551.1,84.8L551.6,84.2L552.1,83.8L552.6,83.6L553.2,83.6L553.7,83.7L554.2,84.1L554.7,84.6L555.2,85.2L555.8,85.9L556.3,86.7L556.8,87.5L557.3,88.2L557.8,89L558.3,89.6L558.9,90.2L559.4,90.6L559.9,91L560.4,91.3L560.9,91.6L561.5,91.8L562,91.9L562.5,92L562.5,92.2Z" fill="url(#gP)"/><path d="M540.7,92.2L540.7,92.1L541.2,92L541.8,92L542.3,91.9L542.8,91.8L543.3,91.7L543.8,91.6L544.4,91.5L544.9,91.3L545.4,91.2L545.9,91L546.4,90.8L546.9,90.5L547.5,90.3L548,90L548.5,89.7L549,89.4L549.5,89.1L550.1,88.7L550.6,88.4L551.1,88L551.6,87.6L552.1,87.2L552.6,86.8L553.2,86.4L553.7,86L554.2,85.5L554.7,85.1L555.2,84.6L555.8,84.2L556.3,83.8L556.8,83.3L557.3,82.9L557.8,82.5L558.3,82L558.9,81.6L559.4,81.2L559.9,80.8L560.4,80.5L560.9,80.1L561.5,79.8L562,79.5L562.5,79.3L563,79L563.5,78.8L564,78.6L564.6,78.4L565.1,78.3L565.6,78.2L566.1,78.1L566.6,78L567.2,78L567.7,78L568.2,78L568.7,78.1L569.2,78.1L569.7,78.2L570.3,78.3L570.8,78.4L571.3,78.6L571.8,78.7L572.3,78.8L572.9,79L573.4,79.2L573.9,79.4L574.4,79.6L574.9,79.8L575.4,80L576,80.2L576.5,80.4L577,80.6L577.5,80.8L578,81.1L578.6,81.3L579.1,81.5L579.6,81.7L580.1,82L580.6,82.2L581.1,82.4L581.7,82.6L582.2,82.8L582.7,83.1L583.2,83.3L583.7,83.5L584.3,83.7L584.8,83.9L585.3,84.1L585.8,84.3L586.3,84.5L586.8,84.7L587.4,84.8L587.9,85L588.4,85.2L588.9,85.4L589.4,85.5L590,85.7L590.5,85.9L591,86L591.5,86.2L592,86.3L592.5,86.4L593.1,86.6L593.6,86.7L594.1,86.9L594.6,87L595.1,87.1L595.6,87.2L596.2,87.4L596.7,87.5L597.2,87.6L597.7,87.8L598.2,87.9L598.8,88.1L599.3,88.2L599.8,88.4L600.3,88.6L600.8,88.8L601.3,89L601.9,89.2L602.4,89.4L602.9,89.7L602.9,92.2Z" fill="url(#gM)"/><path d="M579.9,92.2L579.9,91.7L602.6,90.6L602.6,92.2Z" fill="#b3b3b3"/><path d="M524.7,92.2 L525.2,92.2 L525.7,92.2 L526.2,92.2 L526.7,92.2 L527.3,92.2 L527.8,92.2 L528.3,92.2 L528.8,92.2 L529.3,92.2 L529.9,92.1 L530.4,92.1 L530.9,92 L531.4,91.9 L531.9,91.7 L532.4,91.4 L533,91 L533.5,90.3 L534,89.4 L534.5,88.1 L535,86.4 L535.6,84.1 L536.1,81.3 L536.6,77.8 L537.1,73.6 L537.6,68.8 L538.1,63.6 L538.7,58 L539.2,52.3 L539.7,46.8 L540.2,41.8 L540.7,37.6 L541.2,34.5 L541.8,32.7 L542.3,32.4 L542.8,33.5 L543.3,35.9 L543.8,39.5 L544.4,44 L544.9,49 L545.4,54.3 L545.9,59.4 L546.4,64.3 L546.9,68.5 L547.5,72.1 L548,74.9 L548.5,76.9 L549,78.3 L549.5,79 L550.1,79.2 L550.6,79.1 L551.1,78.7 L551.6,78.1 L552.1,77.5 L552.6,77 L553.2,76.5 L553.7,76.1 L554.2,75.9 L554.7,75.8 L555.2,75.8 L555.8,75.9 L556.3,76 L556.8,76.2 L557.3,76.4 L557.8,76.6 L558.3,76.7 L558.9,76.8 L559.4,76.9 L559.9,76.9 L560.4,77 L560.9,77 L561.5,77 L562,77 L562.5,77 L563,77 L563.5,77 L564,77.1 L564.6,77.1 L565.1,77.2 L565.6,77.2 L566.1,77.3 L566.6,77.4 L567.2,77.5 L567.7,77.6 L568.2,77.7 L568.7,77.8 L569.2,77.9 L569.7,78.1 L570.3,78.2 L570.8,78.3 L571.3,78.5 L571.8,78.7 L572.3,78.8 L572.9,79 L573.4,79.2 L573.9,79.4 L574.4,79.6 L574.9,79.8 L575.4,80 L576,80.2 L576.5,80.4 L577,80.6 L577.5,80.8 L578,81.1 L578.6,81.3 L579.1,81.5 L579.6,81.7 L580.1,82 L580.6,82.2 L581.1,82.4 L581.7,82.6 L582.2,82.8 L582.7,83.1 L583.2,83.3 L583.7,83.5 L584.3,83.7 L584.8,83.9 L585.3,84.1 L585.8,84.3 L586.3,84.5 L586.8,84.7 L587.4,84.8 L587.9,85 L588.4,85.2 L588.9,85.4 L589.4,85.5 L590,85.7 L590.5,85.9 L591,86 L591.5,86.2 L592,86.3 L592.5,86.4 L593.1,86.6 L593.6,86.7 L594.1,86.9 L594.6,87 L595.1,87.1 L595.6,87.2 L596.2,87.4 L596.7,87.5 L597.2,87.6 L597.7,87.8 L598.2,87.9 L598.8,88.1 L599.3,88.2 L599.8,88.4 L600.3,88.6 L600.8,88.8 L601.3,89 L601.9,89.2 L602.4,89.4 L602.9,89.7" fill="none" stroke="#ea1a20" stroke-width="1.2" stroke-linejoin="round"/><path d="M525.2,93.1h0M527.1,91.8h0M529,92.4h0M530.9,92.3h0M532.8,90.7h0M534.7,87.4h0M536.6,77.9h0M538.5,59.9h0M540.4,40.9h0M542.3,32.4h0M544.2,41.8h0M546.1,61.1h0M548,75.5h0M549.9,78.4h0M551.8,78.1h0M553.7,75.2h0M555.6,76.3h0M557.5,76.6h0M559.4,76.6h0M561.3,76.6h0M563.2,76.2h0M565.1,76.8h0M567,77.4h0M568.9,77.7h0M570.8,78.6h0M572.7,78.7h0M574.6,79.6h0M576.5,80.7h0M578.4,81.2h0M580.3,81.9h0M582.2,82.6h0M584.1,83.9h0M586,83.8h0M587.9,85.1h0M589.8,85.8h0M591.7,85.3h0M593.6,87.2h0M595.5,87.3h0M597.4,87.7h0M599.3,88.1h0M601.2,89.5h0M603.1,89.8h0" stroke="#1a0000" stroke-width="1.85" stroke-linecap="round" fill="none"/></g>
<rect x="524.9" y="17.7" width="77.7" height="74.5" fill="none" stroke="#000" stroke-width="1.25"/>
<path d="M524.9,74.9h3M524.9,57.6h3M524.9,40.3h3M524.9,23h3M541.9,92.2v-2.3M559.2,92.2v-2.3M576.5,92.2v-2.3M593.7,92.2v-2.3" stroke="#000" stroke-width="1"/>
<text x="597.1" y="27.4" font-size="8.5" class="t" text-anchor="end">(0.2, 0)</text>
<g clip-path="url(#c07)"><path d="M612.1,92.2L612.1,92L612.6,91.8L613.2,91.6L613.7,91.3L614.2,90.7L614.7,89.9L615.2,88.8L615.8,87.3L616.3,85.2L616.8,82.5L617.3,79L617.8,74.8L618.3,69.7L618.9,64L619.4,57.6L619.9,50.8L620.4,44L620.9,37.3L621.5,31.3L622,26.3L622.5,22.7L623,20.6L623.5,20.3L624,21.8L624.6,25L625.1,29.5L625.6,35.3L626.1,41.7L626.6,48.5L627.2,55.4L627.7,61.9L628.2,67.9L628.7,73.2L629.2,77.7L629.7,81.4L630.3,84.4L630.8,86.6L631.3,88.4L631.8,89.6L632.3,90.5L632.9,91.1L633.4,91.5L633.9,91.8L634.4,92L634.9,92.1L634.9,92.2Z" fill="url(#gE)"/><path d="M624,92.2L624,92L624.6,91.9L625.1,91.8L625.6,91.6L626.1,91.5L626.6,91.2L627.2,90.9L627.7,90.6L628.2,90.3L628.7,89.9L629.2,89.5L629.7,89.1L630.3,88.7L630.8,88.3L631.3,88L631.8,87.8L632.3,87.7L632.9,87.7L633.4,87.8L633.9,88L634.4,88.2L634.9,88.6L635.4,88.9L636,89.3L636.5,89.7L637,90.1L637.5,90.5L638,90.8L638.6,91.1L639.1,91.4L639.6,91.6L640.1,91.8L640.6,91.9L641.1,92L641.7,92L641.7,92.2Z" fill="url(#gP)"/><path d="M620.9,92.2L620.9,92L621.5,92L622,91.9L622.5,91.8L623,91.7L623.5,91.5L624,91.3L624.6,91.1L625.1,90.9L625.6,90.6L626.1,90.3L626.6,89.9L627.2,89.5L627.7,89L628.2,88.5L628.7,88L629.2,87.4L629.7,86.8L630.3,86.1L630.8,85.5L631.3,84.8L631.8,84.2L632.3,83.5L632.9,82.8L633.4,82.2L633.9,81.5L634.4,80.9L634.9,80.4L635.4,79.8L636,79.3L636.5,78.9L637,78.5L637.5,78.1L638,77.8L638.6,77.6L639.1,77.3L639.6,77.2L640.1,77.1L640.6,77L641.1,77L641.7,77L642.2,77L642.7,77.1L643.2,77.2L643.7,77.4L644.2,77.5L644.8,77.7L645.3,77.9L645.8,78.2L646.3,78.4L646.8,78.6L647.4,78.9L647.9,79.2L648.4,79.4L648.9,79.7L649.4,80L649.9,80.3L650.5,80.6L651,80.9L651.5,81.2L652,81.5L652.5,81.7L653.1,82L653.6,82.3L654.1,82.6L654.6,82.8L655.1,83.1L655.6,83.4L656.2,83.6L656.7,83.9L657.2,84.1L657.7,84.3L658.2,84.6L658.8,84.8L659.3,85L659.8,85.2L660.3,85.4L660.8,85.6L661.3,85.8L661.9,86L662.4,86.2L662.9,86.3L663.4,86.5L663.9,86.7L664.5,86.8L665,87L665.5,87.1L666,87.2L666.5,87.4L667,87.5L667.6,87.6L668.1,87.8L668.6,87.9L669.1,88L669.6,88.1L670.2,88.2L670.7,88.3L671.2,88.4L671.7,88.5L672.2,88.6L672.7,88.7L673.3,88.8L673.8,88.8L674.3,88.9L674.8,89L675.3,89.1L675.9,89.2L676.4,89.2L676.9,89.3L677.4,89.4L677.9,89.5L678.4,89.5L679,89.6L679.5,89.7L680,89.8L680.5,89.9L681,90L681.6,90.1L682.1,90.2L682.6,90.3L683.1,90.4L683.6,90.6L684.1,90.7L684.1,92.2Z" fill="url(#gM)"/><path d="M605.9,92.2 L606.4,92.2 L606.9,92.2 L607.5,92.2 L608,92.2 L608.5,92.2 L609,92.2 L609.5,92.2 L610.1,92.2 L610.6,92.2 L611.1,92.1 L611.6,92.1 L612.1,92 L612.6,91.8 L613.2,91.6 L613.7,91.3 L614.2,90.7 L614.7,89.9 L615.2,88.8 L615.8,87.3 L616.3,85.2 L616.8,82.5 L617.3,79 L617.8,74.8 L618.3,69.7 L618.9,63.9 L619.4,57.5 L619.9,50.8 L620.4,43.8 L620.9,37.2 L621.5,31.1 L622,26 L622.5,22.2 L623,20 L623.5,19.5 L624,20.7 L624.6,23.6 L625.1,27.8 L625.6,33 L626.1,38.9 L626.6,45.1 L627.2,51.2 L627.7,57 L628.2,62 L628.7,66.3 L629.2,69.8 L629.7,72.4 L630.3,74.2 L630.8,75.4 L631.3,76.1 L631.8,76.3 L632.3,76.3 L632.9,76.1 L633.4,75.7 L633.9,75.4 L634.4,75 L634.9,74.7 L635.4,74.5 L636,74.3 L636.5,74.1 L637,74 L637.5,73.9 L638,73.8 L638.6,73.8 L639.1,73.8 L639.6,73.8 L640.1,73.9 L640.6,74 L641.1,74.1 L641.7,74.3 L642.2,74.5 L642.7,74.7 L643.2,75 L643.7,75.3 L644.2,75.7 L644.8,76 L645.3,76.4 L645.8,76.8 L646.3,77.2 L646.8,77.6 L647.4,78 L647.9,78.4 L648.4,78.8 L648.9,79.2 L649.4,79.6 L649.9,79.9 L650.5,80.3 L651,80.6 L651.5,81 L652,81.3 L652.5,81.6 L653.1,81.9 L653.6,82.2 L654.1,82.5 L654.6,82.8 L655.1,83.1 L655.6,83.3 L656.2,83.6 L656.7,83.9 L657.2,84.1 L657.7,84.3 L658.2,84.6 L658.8,84.8 L659.3,85 L659.8,85.2 L660.3,85.4 L660.8,85.6 L661.3,85.8 L661.9,86 L662.4,86.2 L662.9,86.3 L663.4,86.5 L663.9,86.7 L664.5,86.8 L665,87 L665.5,87.1 L666,87.2 L666.5,87.4 L667,87.5 L667.6,87.6 L668.1,87.8 L668.6,87.9 L669.1,88 L669.6,88.1 L670.2,88.2 L670.7,88.3 L671.2,88.4 L671.7,88.5 L672.2,88.6 L672.7,88.7 L673.3,88.8 L673.8,88.8 L674.3,88.9 L674.8,89 L675.3,89.1 L675.9,89.2 L676.4,89.2 L676.9,89.3 L677.4,89.4 L677.9,89.5 L678.4,89.5 L679,89.6 L679.5,89.7 L680,89.8 L680.5,89.9 L681,90 L681.6,90.1 L682.1,90.2 L682.6,90.3 L683.1,90.4 L683.6,90.6 L684.1,90.7" fill="none" stroke="#ea1a20" stroke-width="1.2" stroke-linejoin="round"/><path d="M606.4,92.4h0M608.3,91.9h0M610.2,91.6h0M612.1,92.1h0M614,90.6h0M615.9,86.5h0M617.8,74.6h0M619.7,53h0M621.6,29.5h0M623.5,18.9h0M625.4,30.8h0M627.3,53.5h0M629.2,69.2h0M631.1,75.9h0M633,76.2h0M634.9,74.9h0M636.8,74h0M638.7,73.4h0M640.6,73.9h0M642.5,74.3h0M644.4,75.7h0M646.3,76.2h0M648.2,78h0M650.1,80h0M652,81.6h0M653.9,82.4h0M655.8,83.8h0M657.7,84.4h0M659.6,86.1h0M661.5,86.1h0M663.4,87h0M665.3,86.6h0M667.2,88.3h0M669.1,88.2h0M671,88.6h0M672.9,88.6h0M674.8,89.2h0M676.7,89.2h0M678.6,90.2h0M680.5,90.3h0M682.4,90.4h0M684.3,90.6h0" stroke="#1a0000" stroke-width="1.85" stroke-linecap="round" fill="none"/></g>
<rect x="606.2" y="17.7" width="77.7" height="74.5" fill="none" stroke="#000" stroke-width="1.25"/>
<path d="M606.2,74.9h3M606.2,57.6h3M606.2,40.3h3M606.2,23h3M623.2,92.2v-2.3M640.4,92.2v-2.3M657.7,92.2v-2.3M675,92.2v-2.3" stroke="#000" stroke-width="1"/>
<text x="678.4" y="27.4" font-size="8.5" class="t" text-anchor="end">(0.14, 0)</text>
<g clip-path="url(#c10)"><path d="M43.4,169.5L43.4,169.4L44,169.3L44.5,169.1L45,168.9L45.5,168.5L46,167.9L46.6,167.2L47.1,166.1L47.6,164.6L48.1,162.8L48.6,160.4L49.1,157.4L49.7,154L50.2,150L50.7,145.6L51.2,140.9L51.7,136.1L52.3,131.5L52.8,127.4L53.3,123.9L53.8,121.4L54.3,120L54.8,119.7L55.4,120.8L55.9,122.9L56.4,126.1L56.9,130.1L57.4,134.5L58,139.3L58.5,144L59,148.5L59.5,152.7L60,156.3L60.5,159.5L61.1,162L61.6,164.1L62.1,165.7L62.6,166.8L63.1,167.7L63.7,168.3L64.2,168.7L64.7,169L65.2,169.2L65.7,169.3L65.7,169.5Z" fill="url(#gE)"/><path d="M55.9,169.5L55.9,169.3L56.4,169.2L56.9,169.1L57.4,168.9L58,168.7L58.5,168.4L59,168L59.5,167.4L60,166.8L60.5,166.1L61.1,165.2L61.6,164.3L62.1,163.3L62.6,162.2L63.1,161.2L63.7,160.3L64.2,159.4L64.7,158.8L65.2,158.3L65.7,158.1L66.2,158.1L66.8,158.4L67.3,159L67.8,159.7L68.3,160.6L68.8,161.5L69.4,162.6L69.9,163.6L70.4,164.6L70.9,165.5L71.4,166.3L71.9,167L72.5,167.6L73,168.1L73.5,168.5L74,168.8L74.5,169L75.1,169.2L75.6,169.3L76.1,169.4L76.1,169.5Z" fill="url(#gP)"/><path d="M52.8,169.5L52.8,169.4L53.3,169.3L53.8,169.3L54.3,169.2L54.8,169.1L55.4,169L55.9,168.9L56.4,168.8L56.9,168.6L57.4,168.5L58,168.3L58.5,168.1L59,167.9L59.5,167.6L60,167.4L60.5,167.1L61.1,166.9L61.6,166.6L62.1,166.3L62.6,166L63.1,165.8L63.7,165.5L64.2,165.2L64.7,164.9L65.2,164.6L65.7,164.3L66.2,164L66.8,163.7L67.3,163.4L67.8,163.2L68.3,162.9L68.8,162.6L69.4,162.4L69.9,162.1L70.4,161.9L70.9,161.7L71.4,161.4L71.9,161.2L72.5,161L73,160.9L73.5,160.7L74,160.5L74.5,160.4L75.1,160.3L75.6,160.1L76.1,160.1L76.6,160L77.1,159.9L77.6,159.9L78.2,159.8L78.7,159.8L79.2,159.8L79.7,159.8L80.2,159.9L80.8,159.9L81.3,159.9L81.8,160L82.3,160.1L82.8,160.2L83.3,160.3L83.9,160.4L84.4,160.5L84.9,160.6L85.4,160.7L85.9,160.9L86.4,161L87,161.1L87.5,161.3L88,161.4L88.5,161.6L89,161.8L89.6,161.9L90.1,162.1L90.6,162.2L91.1,162.4L91.6,162.5L92.1,162.7L92.7,162.9L93.2,163L93.7,163.2L94.2,163.3L94.7,163.5L95.3,163.6L95.8,163.8L96.3,163.9L96.8,164.1L97.3,164.2L97.8,164.3L98.4,164.5L98.9,164.6L99.4,164.7L99.9,164.8L100.4,164.9L101,165.1L101.5,165.2L102,165.3L102.5,165.4L103,165.5L103.5,165.6L104.1,165.7L104.6,165.8L105.1,165.9L105.6,166L106.1,166.1L106.7,166.1L107.2,166.2L107.7,166.3L108.2,166.4L108.7,166.5L109.2,166.5L109.8,166.6L110.3,166.7L110.8,166.8L111.3,166.9L111.8,167L112.4,167.1L112.9,167.2L113.4,167.3L113.9,167.5L114.4,167.6L114.9,167.8L115.5,167.9L115.5,169.5Z" fill="url(#gM)"/><path d="M92.5,169.5L92.5,168.7L115.2,167.1L115.2,169.5Z" fill="#b3b3b3"/><path d="M37.2,169.5 L37.7,169.5 L38.3,169.5 L38.8,169.5 L39.3,169.5 L39.8,169.5 L40.3,169.5 L40.9,169.5 L41.4,169.5 L41.9,169.5 L42.4,169.5 L42.9,169.4 L43.4,169.4 L44,169.3 L44.5,169.1 L45,168.8 L45.5,168.5 L46,167.9 L46.6,167.2 L47.1,166.1 L47.6,164.6 L48.1,162.7 L48.6,160.4 L49.1,157.4 L49.7,153.9 L50.2,149.9 L50.7,145.5 L51.2,140.8 L51.7,136 L52.3,131.4 L52.8,127.2 L53.3,123.7 L53.8,121.1 L54.3,119.6 L54.8,119.3 L55.4,120.2 L55.9,122.2 L56.4,125.1 L56.9,128.8 L57.4,132.9 L58,137.2 L58.5,141.4 L59,145.3 L59.5,148.7 L60,151.5 L60.5,153.6 L61.1,155 L61.6,155.8 L62.1,156 L62.6,155.8 L63.1,155.3 L63.7,154.6 L64.2,153.8 L64.7,153.1 L65.2,152.4 L65.7,151.9 L66.2,151.5 L66.8,151.5 L67.3,151.6 L67.8,151.9 L68.3,152.3 L68.8,152.9 L69.4,153.6 L69.9,154.2 L70.4,154.9 L70.9,155.5 L71.4,156 L71.9,156.5 L72.5,156.9 L73,157.3 L73.5,157.6 L74,157.8 L74.5,158 L75.1,158.1 L75.6,158.3 L76.1,158.4 L76.6,158.5 L77.1,158.6 L77.6,158.7 L78.2,158.8 L78.7,158.8 L79.2,158.9 L79.7,159 L80.2,159.1 L80.8,159.2 L81.3,159.2 L81.8,159.3 L82.3,159.4 L82.8,159.5 L83.3,159.6 L83.9,159.7 L84.4,159.8 L84.9,159.8 L85.4,159.9 L85.9,160 L86.4,160.1 L87,160.3 L87.5,160.4 L88,160.5 L88.5,160.6 L89,160.7 L89.6,160.8 L90.1,161 L90.6,161.1 L91.1,161.2 L91.6,161.3 L92.1,161.4 L92.7,161.6 L93.2,161.7 L93.7,161.8 L94.2,161.9 L94.7,162 L95.3,162.1 L95.8,162.3 L96.3,162.4 L96.8,162.5 L97.3,162.6 L97.8,162.7 L98.4,162.8 L98.9,162.9 L99.4,163 L99.9,163.1 L100.4,163.2 L101,163.3 L101.5,163.4 L102,163.5 L102.5,163.6 L103,163.7 L103.5,163.7 L104.1,163.8 L104.6,163.9 L105.1,164 L105.6,164.1 L106.1,164.1 L106.7,164.2 L107.2,164.3 L107.7,164.4 L108.2,164.4 L108.7,164.5 L109.2,164.6 L109.8,164.7 L110.3,164.7 L110.8,164.8 L111.3,164.9 L111.8,165 L112.4,165.1 L112.9,165.2 L113.4,165.3 L113.9,165.5 L114.4,165.6 L114.9,165.7 L115.5,165.9" fill="none" stroke="#ea1a20" stroke-width="1.2" stroke-linejoin="round"/><path d="M37.7,169.1h0M39.6,169.6h0M41.5,169.9h0M43.4,169.8h0M45.3,168.4h0M47.2,165.7h0M49.1,157.2h0M51,141.6h0M52.9,126h0M54.8,119.6h0M56.7,128h0M58.6,143.1h0M60.5,153.3h0M62.4,155.8h0M64.3,153.2h0M66.2,151.7h0M68.1,151.7h0M70,154.7h0M71.9,157.1h0M73.8,158.2h0M75.7,158.4h0M77.6,159.4h0M79.5,159.1h0M81.4,159.2h0M83.3,159.7h0M85.2,159.8h0M87.1,160.3h0M89,161.1h0M90.9,161.4h0M92.8,161.6h0M94.7,162.5h0M96.6,163.1h0M98.5,162.3h0M100.4,163.2h0M102.3,163.2h0M104.2,163.9h0M106.1,164.4h0M108,164.7h0M109.9,164.4h0M111.8,164.8h0M113.7,165.3h0M115.6,166.5h0" stroke="#1a0000" stroke-width="1.85" stroke-linecap="round" fill="none"/></g>
<rect x="37.5" y="95.5" width="77.7" height="74" fill="none" stroke="#000" stroke-width="1.25"/>
<path d="M37.5,152.2h3M37.5,134.9h3M37.5,117.6h3M37.5,100.3h3M54.5,169.5v-2.3M71.8,169.5v-2.3M89,169.5v-2.3M106.3,169.5v-2.3" stroke="#000" stroke-width="1"/>
<text x="110.9" y="105.2" font-size="8.5" class="t" text-anchor="end">(0.33, 0.33)</text>
<text x="39.5" y="105.2" font-size="8.5" class="t">(<tspan font-style="italic">h</tspan>, <tspan font-style="italic">h</tspan>)</text>
<text x="112.9" y="120.2" font-size="8.7" class="t" text-anchor="end">PrNiO<tspan font-size="5.9" dy="2.3">2</tspan><tspan dy="-2.3">/STO</tspan></text>
<text x="35.9" y="172.4" font-size="8.2" class="t" text-anchor="end">0</text>
<text x="35.9" y="155.1" font-size="8.2" class="t" text-anchor="end">0.5</text>
<text x="35.9" y="137.8" font-size="8.2" class="t" text-anchor="end">1</text>
<text x="35.9" y="120.5" font-size="8.2" class="t" text-anchor="end">1.5</text>
<text x="35.9" y="103.2" font-size="8.2" class="t" text-anchor="end">2</text>
<text x="54.5" y="178.8" font-size="8.2" class="t" text-anchor="middle">0</text>
<text x="71.8" y="178.8" font-size="8.2" class="t" text-anchor="middle">100</text>
<text x="89" y="178.8" font-size="8.2" class="t" text-anchor="middle">200</text>
<text x="106.3" y="178.8" font-size="8.2" class="t" text-anchor="middle">300</text>
<g clip-path="url(#c11)"><path d="M125.2,169.5L125.2,169.3L125.7,169.1L126.2,168.9L126.8,168.6L127.3,168.1L127.8,167.5L128.3,166.5L128.8,165.3L129.4,163.6L129.9,161.5L130.4,158.9L130.9,155.9L131.4,152.4L131.9,148.5L132.5,144.4L133,140.3L133.5,136.3L134,132.6L134.5,129.6L135,127.4L135.6,126.1L136.1,126L136.6,126.9L137.1,128.8L137.6,131.5L138.2,135L138.7,138.9L139.2,143.1L139.7,147.2L140.2,151.2L140.7,154.8L141.3,158L141.8,160.7L142.3,163L142.8,164.7L143.3,166.1L143.9,167.2L144.4,167.9L144.9,168.5L145.4,168.8L145.9,169.1L146.4,169.2L147,169.4L147,169.5Z" fill="url(#gE)"/><path d="M137.1,169.5L137.1,169.3L137.6,169.3L138.2,169.1L138.7,169L139.2,168.8L139.7,168.5L140.2,168.1L140.7,167.6L141.3,167L141.8,166.2L142.3,165.4L142.8,164.4L143.3,163.4L143.9,162.4L144.4,161.3L144.9,160.3L145.4,159.4L145.9,158.6L146.4,158.1L147,157.8L147.5,157.8L148,158L148.5,158.4L149,159.1L149.6,160L150.1,161L150.6,162L151.1,163.1L151.6,164.1L152.1,165.1L152.7,166L153.2,166.7L153.7,167.4L154.2,167.9L154.7,168.3L155.3,168.7L155.8,168.9L156.3,169.1L156.8,169.2L157.3,169.3L157.3,169.5Z" fill="url(#gP)"/><path d="M133,169.5L133,169.3L133.5,169.3L134,169.2L134.5,169.1L135,169L135.6,168.9L136.1,168.7L136.6,168.6L137.1,168.3L137.6,168.1L138.2,167.8L138.7,167.5L139.2,167.2L139.7,166.9L140.2,166.5L140.7,166.1L141.3,165.7L141.8,165.3L142.3,164.9L142.8,164.4L143.3,164L143.9,163.6L144.4,163.1L144.9,162.7L145.4,162.3L145.9,161.9L146.4,161.5L147,161.2L147.5,160.8L148,160.4L148.5,160.1L149,159.8L149.6,159.5L150.1,159.2L150.6,159L151.1,158.7L151.6,158.5L152.1,158.3L152.7,158.1L153.2,157.9L153.7,157.7L154.2,157.6L154.7,157.4L155.3,157.3L155.8,157.2L156.3,157.2L156.8,157.1L157.3,157.1L157.8,157L158.4,157L158.9,157.1L159.4,157.1L159.9,157.1L160.4,157.2L161,157.2L161.5,157.3L162,157.4L162.5,157.5L163,157.6L163.5,157.7L164.1,157.9L164.6,158L165.1,158.1L165.6,158.3L166.1,158.4L166.7,158.6L167.2,158.8L167.7,158.9L168.2,159.1L168.7,159.3L169.2,159.5L169.8,159.6L170.3,159.8L170.8,160L171.3,160.2L171.8,160.4L172.4,160.6L172.9,160.7L173.4,160.9L173.9,161.1L174.4,161.3L174.9,161.4L175.5,161.6L176,161.8L176.5,162L177,162.1L177.5,162.3L178.1,162.5L178.6,162.6L179.1,162.8L179.6,162.9L180.1,163.1L180.6,163.2L181.2,163.3L181.7,163.5L182.2,163.6L182.7,163.8L183.2,163.9L183.8,164L184.3,164.1L184.8,164.3L185.3,164.4L185.8,164.5L186.3,164.6L186.9,164.7L187.4,164.8L187.9,164.9L188.4,165L188.9,165.1L189.4,165.2L190,165.3L190.5,165.4L191,165.5L191.5,165.6L192,165.8L192.6,165.9L193.1,166L193.6,166.2L194.1,166.3L194.6,166.5L195.1,166.7L195.7,166.9L196.2,167.1L196.7,167.3L196.7,169.5Z" fill="url(#gM)"/><path d="M178.9,169.5L178.9,169L196.4,167.7L196.4,169.5Z" fill="#b3b3b3"/><path d="M118.5,169.5 L119,169.5 L119.5,169.5 L120,169.5 L120.5,169.5 L121.1,169.5 L121.6,169.5 L122.1,169.5 L122.6,169.5 L123.1,169.5 L123.7,169.5 L124.2,169.4 L124.7,169.4 L125.2,169.3 L125.7,169.1 L126.2,168.9 L126.8,168.6 L127.3,168.1 L127.8,167.5 L128.3,166.5 L128.8,165.2 L129.4,163.6 L129.9,161.5 L130.4,158.9 L130.9,155.9 L131.4,152.3 L131.9,148.5 L132.5,144.3 L133,140.1 L133.5,136 L134,132.3 L134.5,129.2 L135,126.9 L135.6,125.5 L136.1,125.1 L136.6,125.8 L137.1,127.4 L137.6,129.9 L138.2,133 L138.7,136.4 L139.2,140 L139.7,143.4 L140.2,146.6 L140.7,149.3 L141.3,151.4 L141.8,152.9 L142.3,153.8 L142.8,154.1 L143.3,153.9 L143.9,153.3 L144.4,152.4 L144.9,151.3 L145.4,150.2 L145.9,149 L146.4,148 L147,147.2 L147.5,146.6 L148,146.3 L148.5,146.2 L149,146.4 L149.6,146.7 L150.1,147.3 L150.6,148 L151.1,148.8 L151.6,149.6 L152.1,150.4 L152.7,151.2 L153.2,151.9 L153.7,152.6 L154.2,153.2 L154.7,153.7 L155.3,154.2 L155.8,154.6 L156.3,154.9 L156.8,155.2 L157.3,155.5 L157.8,155.8 L158.4,156 L158.9,156.2 L159.4,156.3 L159.9,156.5 L160.4,156.7 L161,156.8 L161.5,156.9 L162,157.1 L162.5,157.2 L163,157.3 L163.5,157.5 L164.1,157.6 L164.6,157.7 L165.1,157.9 L165.6,158 L166.1,158.2 L166.7,158.3 L167.2,158.5 L167.7,158.6 L168.2,158.8 L168.7,158.9 L169.2,159.1 L169.8,159.3 L170.3,159.4 L170.8,159.6 L171.3,159.8 L171.8,159.9 L172.4,160.1 L172.9,160.2 L173.4,160.4 L173.9,160.6 L174.4,160.7 L174.9,160.9 L175.5,161 L176,161.2 L176.5,161.3 L177,161.5 L177.5,161.6 L178.1,161.8 L178.6,161.9 L179.1,162.1 L179.6,162.2 L180.1,162.3 L180.6,162.4 L181.2,162.6 L181.7,162.7 L182.2,162.8 L182.7,162.9 L183.2,163.1 L183.8,163.2 L184.3,163.3 L184.8,163.4 L185.3,163.5 L185.8,163.6 L186.3,163.7 L186.9,163.8 L187.4,163.9 L187.9,164 L188.4,164.1 L188.9,164.2 L189.4,164.3 L190,164.4 L190.5,164.5 L191,164.6 L191.5,164.7 L192,164.8 L192.6,164.9 L193.1,165 L193.6,165.2 L194.1,165.3 L194.6,165.5 L195.1,165.7 L195.7,165.9 L196.2,166.1 L196.7,166.3" fill="none" stroke="#ea1a20" stroke-width="1.2" stroke-linejoin="round"/><path d="M119,169.4h0M120.9,170.5h0M122.8,169.1h0M124.7,169.6h0M126.6,169h0M128.5,166.5h0M130.4,159h0M132.3,145.7h0M134.2,131.1h0M136.1,124.8h0M138,131.8h0M139.9,144.4h0M141.8,153.2h0M143.7,153.5h0M145.6,150h0M147.5,145.9h0M149.4,146.5h0M151.3,149h0M153.2,151.9h0M155.1,154.1h0M157,156.1h0M158.9,156.7h0M160.8,156.6h0M162.7,157.6h0M164.6,157.9h0M166.5,158.5h0M168.4,159.5h0M170.3,159.5h0M172.2,160.3h0M174.1,160.3h0M176,161h0M177.9,162.3h0M179.8,162.7h0M181.7,162.5h0M183.6,163.3h0M185.5,163.1h0M187.4,163.8h0M189.3,164.4h0M191.2,164.7h0M193.1,165.1h0M195,165.3h0M196.9,166.5h0" stroke="#1a0000" stroke-width="1.85" stroke-linecap="round" fill="none"/></g>
<rect x="118.7" y="95.5" width="77.7" height="74" fill="none" stroke="#000" stroke-width="1.25"/>
<path d="M118.7,152.2h3M118.7,134.9h3M118.7,117.6h3M118.7,100.3h3M135.7,169.5v-2.3M153,169.5v-2.3M170.3,169.5v-2.3M187.6,169.5v-2.3" stroke="#000" stroke-width="1"/>
<text x="192.1" y="105.2" font-size="8.5" class="t" text-anchor="end">(0.31, 0.31)</text>
<text x="135.7" y="178.8" font-size="8.2" class="t" text-anchor="middle">0</text>
<text x="153" y="178.8" font-size="8.2" class="t" text-anchor="middle">100</text>
<text x="170.3" y="178.8" font-size="8.2" class="t" text-anchor="middle">200</text>
<text x="187.6" y="178.8" font-size="8.2" class="t" text-anchor="middle">300</text>
<g clip-path="url(#c12)"><path d="M206.4,169.5L206.4,169.3L207,169.2L207.5,168.9L208,168.6L208.5,168.2L209,167.5L209.6,166.6L210.1,165.4L210.6,163.7L211.1,161.7L211.6,159.2L212.1,156.2L212.7,152.8L213.2,149L213.7,145L214.2,141L214.7,137.1L215.3,133.5L215.8,130.6L216.3,128.4L216.8,127.2L217.3,127L217.8,127.9L218.4,129.7L218.9,132.4L219.4,135.8L219.9,139.6L220.4,143.7L221,147.7L221.5,151.6L222,155.1L222.5,158.3L223,160.9L223.5,163.1L224.1,164.9L224.6,166.2L225.1,167.2L225.6,168L226.1,168.5L226.7,168.9L227.2,169.1L227.7,169.3L228.2,169.4L228.2,169.5Z" fill="url(#gE)"/><path d="M218.4,169.5L218.4,169.3L218.9,169.2L219.4,169.1L219.9,168.8L220.4,168.6L221,168.2L221.5,167.7L222,167.1L222.5,166.3L223,165.4L223.5,164.3L224.1,163.1L224.6,161.8L225.1,160.5L225.6,159.1L226.1,157.9L226.7,156.7L227.2,155.8L227.7,155.1L228.2,154.7L228.7,154.6L229.2,154.9L229.8,155.5L230.3,156.4L230.8,157.5L231.3,158.7L231.8,160L232.4,161.4L232.9,162.7L233.4,163.9L233.9,165L234.4,166L234.9,166.8L235.5,167.5L236,168L236.5,168.4L237,168.8L237.5,169L238,169.2L238.6,169.3L239.1,169.4L239.1,169.5Z" fill="url(#gP)"/><path d="M214.2,169.5L214.2,169.3L214.7,169.3L215.3,169.2L215.8,169.1L216.3,169L216.8,168.9L217.3,168.7L217.8,168.6L218.4,168.3L218.9,168.1L219.4,167.8L219.9,167.5L220.4,167.2L221,166.9L221.5,166.5L222,166.1L222.5,165.7L223,165.2L223.5,164.8L224.1,164.3L224.6,163.9L225.1,163.4L225.6,162.9L226.1,162.5L226.7,162L227.2,161.6L227.7,161.1L228.2,160.7L228.7,160.3L229.2,159.9L229.8,159.5L230.3,159.1L230.8,158.7L231.3,158.3L231.8,157.9L232.4,157.6L232.9,157.2L233.4,156.9L233.9,156.6L234.4,156.3L234.9,156L235.5,155.7L236,155.5L236.5,155.2L237,155L237.5,154.8L238,154.6L238.6,154.5L239.1,154.3L239.6,154.2L240.1,154.1L240.6,154L241.2,154L241.7,153.9L242.2,153.9L242.7,153.9L243.2,154L243.7,154L244.3,154.1L244.8,154.2L245.3,154.3L245.8,154.4L246.3,154.5L246.9,154.7L247.4,154.9L247.9,155.1L248.4,155.3L248.9,155.5L249.4,155.7L250,155.9L250.5,156.1L251,156.4L251.5,156.6L252,156.9L252.6,157.1L253.1,157.4L253.6,157.7L254.1,157.9L254.6,158.2L255.1,158.4L255.7,158.7L256.2,159L256.7,159.2L257.2,159.5L257.7,159.7L258.3,160L258.8,160.2L259.3,160.4L259.8,160.7L260.3,160.9L260.8,161.1L261.4,161.3L261.9,161.6L262.4,161.8L262.9,162L263.4,162.2L264,162.3L264.5,162.5L265,162.7L265.5,162.9L266,163.1L266.5,163.2L267.1,163.4L267.6,163.5L268.1,163.7L268.6,163.8L269.1,164L269.7,164.1L270.2,164.3L270.7,164.4L271.2,164.5L271.7,164.7L272.2,164.8L272.8,165L273.3,165.1L273.8,165.3L274.3,165.4L274.8,165.6L275.4,165.8L275.9,166L276.4,166.2L276.9,166.4L277.4,166.7L277.9,166.9L277.9,169.5Z" fill="url(#gM)"/><path d="M199.7,169.5 L200.2,169.5 L200.7,169.5 L201.3,169.5 L201.8,169.5 L202.3,169.5 L202.8,169.5 L203.3,169.5 L203.9,169.5 L204.4,169.5 L204.9,169.5 L205.4,169.4 L205.9,169.4 L206.4,169.3 L207,169.2 L207.5,168.9 L208,168.6 L208.5,168.2 L209,167.5 L209.6,166.6 L210.1,165.3 L210.6,163.7 L211.1,161.7 L211.6,159.2 L212.1,156.2 L212.7,152.8 L213.2,149 L213.7,144.9 L214.2,140.8 L214.7,136.8 L215.3,133.2 L215.8,130.2 L216.3,127.9 L216.8,126.5 L217.3,126.2 L217.8,126.8 L218.4,128.4 L218.9,130.8 L219.4,133.7 L219.9,137 L220.4,140.4 L221,143.7 L221.5,146.7 L222,149.2 L222.5,151.1 L223,152.3 L223.5,152.9 L224.1,153 L224.6,152.5 L225.1,151.6 L225.6,150.4 L226.1,149 L226.7,147.6 L227.2,146.2 L227.7,145 L228.2,144.1 L228.7,143.4 L229.2,143 L229.8,143 L230.3,143.2 L230.8,143.7 L231.3,144.4 L231.8,145.2 L232.4,146.1 L232.9,147 L233.4,147.9 L233.9,148.7 L234.4,149.4 L234.9,150.1 L235.5,150.6 L236,151.1 L236.5,151.5 L237,151.8 L237.5,152.1 L238,152.4 L238.6,152.6 L239.1,152.7 L239.6,152.9 L240.1,153 L240.6,153.2 L241.2,153.3 L241.7,153.4 L242.2,153.5 L242.7,153.6 L243.2,153.7 L243.7,153.8 L244.3,153.9 L244.8,154.1 L245.3,154.2 L245.8,154.4 L246.3,154.5 L246.9,154.7 L247.4,154.9 L247.9,155 L248.4,155.3 L248.9,155.5 L249.4,155.7 L250,155.9 L250.5,156.1 L251,156.4 L251.5,156.6 L252,156.9 L252.6,157.1 L253.1,157.4 L253.6,157.7 L254.1,157.9 L254.6,158.2 L255.1,158.4 L255.7,158.7 L256.2,159 L256.7,159.2 L257.2,159.5 L257.7,159.7 L258.3,160 L258.8,160.2 L259.3,160.4 L259.8,160.7 L260.3,160.9 L260.8,161.1 L261.4,161.3 L261.9,161.6 L262.4,161.8 L262.9,162 L263.4,162.2 L264,162.3 L264.5,162.5 L265,162.7 L265.5,162.9 L266,163.1 L266.5,163.2 L267.1,163.4 L267.6,163.5 L268.1,163.7 L268.6,163.8 L269.1,164 L269.7,164.1 L270.2,164.3 L270.7,164.4 L271.2,164.5 L271.7,164.7 L272.2,164.8 L272.8,165 L273.3,165.1 L273.8,165.3 L274.3,165.4 L274.8,165.6 L275.4,165.8 L275.9,166 L276.4,166.2 L276.9,166.4 L277.4,166.7 L277.9,166.9" fill="none" stroke="#ea1a20" stroke-width="1.2" stroke-linejoin="round"/><path d="M200.2,169.6h0M202.1,169.2h0M204,170h0M205.9,168.8h0M207.8,169.2h0M209.7,166.7h0M211.6,159.2h0M213.5,146.5h0M215.4,131.8h0M217.3,126.2h0M219.2,132.1h0M221.1,144.4h0M223,152.2h0M224.9,150.9h0M226.8,147.1h0M228.7,143.3h0M230.6,143.5h0M232.5,146.1h0M234.4,149.8h0M236.3,151.1h0M238.2,151.8h0M240.1,153.7h0M242,152.8h0M243.9,153.8h0M245.8,154.5h0M247.7,155.6h0M249.6,156.4h0M251.5,156.1h0M253.4,157.8h0M255.3,158.2h0M257.2,159.5h0M259.1,160.2h0M261,160.9h0M262.9,161.7h0M264.8,163.3h0M266.7,163h0M268.6,163.9h0M270.5,164.4h0M272.4,164.6h0M274.3,165.7h0M276.2,166h0M278.1,167.3h0" stroke="#1a0000" stroke-width="1.85" stroke-linecap="round" fill="none"/></g>
<rect x="200" y="95.5" width="77.7" height="74" fill="none" stroke="#000" stroke-width="1.25"/>
<path d="M200,152.2h3M200,134.9h3M200,117.6h3M200,100.3h3M217,169.5v-2.3M234.2,169.5v-2.3M251.5,169.5v-2.3M268.8,169.5v-2.3" stroke="#000" stroke-width="1"/>
<text x="273.4" y="105.2" font-size="8.5" class="t" text-anchor="end">(0.28, 0.28)</text>
<text x="217" y="178.8" font-size="8.2" class="t" text-anchor="middle">0</text>
<text x="234.2" y="178.8" font-size="8.2" class="t" text-anchor="middle">100</text>
<text x="251.5" y="178.8" font-size="8.2" class="t" text-anchor="middle">200</text>
<text x="268.8" y="178.8" font-size="8.2" class="t" text-anchor="middle">300</text>
<g clip-path="url(#c13)"><path d="M287.7,169.5L287.7,169.3L288.2,169.1L288.7,168.9L289.2,168.6L289.8,168.1L290.3,167.5L290.8,166.5L291.3,165.3L291.8,163.6L292.3,161.5L292.9,158.9L293.4,155.9L293.9,152.4L294.4,148.5L294.9,144.4L295.5,140.3L296,136.3L296.5,132.6L297,129.6L297.5,127.4L298,126.1L298.6,126L299.1,126.9L299.6,128.8L300.1,131.5L300.6,135L301.2,138.9L301.7,143.1L302.2,147.2L302.7,151.2L303.2,154.8L303.7,158L304.3,160.7L304.8,163L305.3,164.7L305.8,166.1L306.3,167.2L306.9,167.9L307.4,168.5L307.9,168.8L308.4,169.1L308.9,169.2L309.4,169.4L309.4,169.5Z" fill="url(#gE)"/><path d="M299.6,169.5L299.6,169.3L300.1,169.3L300.6,169.1L301.2,169L301.7,168.7L302.2,168.4L302.7,168L303.2,167.6L303.7,167L304.3,166.3L304.8,165.5L305.3,164.6L305.8,163.6L306.3,162.7L306.9,161.7L307.4,160.8L307.9,160L308.4,159.4L308.9,159L309.4,158.8L310,158.8L310.5,159.1L311,159.6L311.5,160.3L312,161.1L312.6,162L313.1,163L313.6,164L314.1,164.9L314.6,165.8L315.1,166.5L315.7,167.2L316.2,167.7L316.7,168.2L317.2,168.5L317.7,168.8L318.3,169L318.8,169.2L319.3,169.3L319.3,169.5Z" fill="url(#gP)"/><path d="M295.5,169.5L295.5,169.4L296,169.3L296.5,169.2L297,169.2L297.5,169.1L298,168.9L298.6,168.8L299.1,168.6L299.6,168.4L300.1,168.2L300.6,167.9L301.2,167.7L301.7,167.4L302.2,167L302.7,166.6L303.2,166.3L303.7,165.8L304.3,165.4L304.8,165L305.3,164.5L305.8,164L306.3,163.6L306.9,163.1L307.4,162.6L307.9,162.1L308.4,161.7L308.9,161.2L309.4,160.7L310,160.2L310.5,159.8L311,159.3L311.5,158.9L312,158.4L312.6,158L313.1,157.5L313.6,157.1L314.1,156.7L314.6,156.3L315.1,155.9L315.7,155.5L316.2,155.2L316.7,154.8L317.2,154.5L317.7,154.1L318.3,153.8L318.8,153.5L319.3,153.3L319.8,153L320.3,152.8L320.8,152.6L321.4,152.4L321.9,152.3L322.4,152.1L322.9,152L323.4,151.9L324,151.9L324.5,151.9L325,151.9L325.5,151.9L326,151.9L326.5,152L327.1,152.1L327.6,152.2L328.1,152.3L328.6,152.5L329.1,152.7L329.7,152.9L330.2,153.1L330.7,153.3L331.2,153.5L331.7,153.8L332.2,154.1L332.8,154.3L333.3,154.6L333.8,154.9L334.3,155.2L334.8,155.5L335.4,155.8L335.9,156.1L336.4,156.4L336.9,156.7L337.4,157L337.9,157.3L338.5,157.6L339,157.9L339.5,158.2L340,158.5L340.5,158.8L341,159.1L341.6,159.4L342.1,159.6L342.6,159.9L343.1,160.1L343.6,160.4L344.2,160.6L344.7,160.9L345.2,161.1L345.7,161.3L346.2,161.6L346.7,161.8L347.3,162L347.8,162.2L348.3,162.4L348.8,162.6L349.3,162.7L349.9,162.9L350.4,163.1L350.9,163.3L351.4,163.4L351.9,163.6L352.4,163.8L353,163.9L353.5,164.1L354,164.3L354.5,164.4L355,164.6L355.6,164.8L356.1,165L356.6,165.3L357.1,165.5L357.6,165.7L358.1,166L358.7,166.3L359.2,166.6L359.2,169.5Z" fill="url(#gM)"/><path d="M280.9,169.5 L281.5,169.5 L282,169.5 L282.5,169.5 L283,169.5 L283.5,169.5 L284.1,169.5 L284.6,169.5 L285.1,169.5 L285.6,169.5 L286.1,169.5 L286.6,169.4 L287.2,169.4 L287.7,169.3 L288.2,169.1 L288.7,168.9 L289.2,168.6 L289.8,168.1 L290.3,167.5 L290.8,166.5 L291.3,165.2 L291.8,163.6 L292.3,161.5 L292.9,158.9 L293.4,155.9 L293.9,152.4 L294.4,148.5 L294.9,144.3 L295.5,140.1 L296,136.1 L296.5,132.4 L297,129.2 L297.5,126.9 L298,125.5 L298.6,125.2 L299.1,125.9 L299.6,127.5 L300.1,130 L300.6,133.1 L301.2,136.5 L301.7,140.1 L302.2,143.6 L302.7,146.8 L303.2,149.5 L303.7,151.7 L304.3,153.2 L304.8,154.1 L305.3,154.5 L305.8,154.4 L306.3,153.9 L306.9,153.1 L307.4,152.1 L307.9,151 L308.4,149.9 L308.9,149 L309.4,148.2 L310,147.5 L310.5,147.1 L311,147 L311.5,147 L312,147.1 L312.6,147.4 L313.1,147.8 L313.6,148.2 L314.1,148.7 L314.6,149.1 L315.1,149.5 L315.7,149.8 L316.2,150.1 L316.7,150.4 L317.2,150.6 L317.7,150.8 L318.3,150.9 L318.8,151 L319.3,151.1 L319.8,151.2 L320.3,151.3 L320.8,151.3 L321.4,151.4 L321.9,151.4 L322.4,151.4 L322.9,151.5 L323.4,151.5 L324,151.6 L324.5,151.6 L325,151.7 L325.5,151.7 L326,151.8 L326.5,151.9 L327.1,152 L327.6,152.2 L328.1,152.3 L328.6,152.5 L329.1,152.7 L329.7,152.9 L330.2,153.1 L330.7,153.3 L331.2,153.5 L331.7,153.8 L332.2,154.1 L332.8,154.3 L333.3,154.6 L333.8,154.9 L334.3,155.2 L334.8,155.5 L335.4,155.8 L335.9,156.1 L336.4,156.4 L336.9,156.7 L337.4,157 L337.9,157.3 L338.5,157.6 L339,157.9 L339.5,158.2 L340,158.5 L340.5,158.8 L341,159.1 L341.6,159.4 L342.1,159.6 L342.6,159.9 L343.1,160.1 L343.6,160.4 L344.2,160.6 L344.7,160.9 L345.2,161.1 L345.7,161.3 L346.2,161.6 L346.7,161.8 L347.3,162 L347.8,162.2 L348.3,162.4 L348.8,162.6 L349.3,162.7 L349.9,162.9 L350.4,163.1 L350.9,163.3 L351.4,163.4 L351.9,163.6 L352.4,163.8 L353,163.9 L353.5,164.1 L354,164.3 L354.5,164.4 L355,164.6 L355.6,164.8 L356.1,165 L356.6,165.3 L357.1,165.5 L357.6,165.7 L358.1,166 L358.7,166.3 L359.2,166.6" fill="none" stroke="#ea1a20" stroke-width="1.2" stroke-linejoin="round"/><path d="M281.5,169h0M283.4,169.7h0M285.3,170.1h0M287.2,169.2h0M289.1,168.4h0M291,165.9h0M292.9,158.9h0M294.8,145.6h0M296.7,131h0M298.6,124.7h0M300.5,132.1h0M302.4,144.5h0M304.3,152.6h0M306.2,154.4h0M308.1,150.2h0M310,147.5h0M311.9,147.2h0M313.8,148.5h0M315.7,150.4h0M317.6,150.9h0M319.5,151h0M321.4,151.3h0M323.3,151.1h0M325.2,151.6h0M327.1,152.3h0M329,153h0M330.9,152.7h0M332.8,154.5h0M334.7,155.3h0M336.6,157.5h0M338.5,158.3h0M340.4,158.4h0M342.3,159.3h0M344.2,160h0M346.1,161.6h0M348,162.2h0M349.9,163.1h0M351.8,163.5h0M353.7,163.5h0M355.6,164.5h0M357.5,165.1h0M359.4,166.7h0" stroke="#1a0000" stroke-width="1.85" stroke-linecap="round" fill="none"/></g>
<rect x="281.2" y="95.5" width="77.7" height="74" fill="none" stroke="#000" stroke-width="1.25"/>
<path d="M281.2,152.2h3M281.2,134.9h3M281.2,117.6h3M281.2,100.3h3M298.2,169.5v-2.3M315.5,169.5v-2.3M332.8,169.5v-2.3M350,169.5v-2.3" stroke="#000" stroke-width="1"/>
<text x="354.6" y="105.2" font-size="8.5" class="t" text-anchor="end">(0.25, 0.25)</text>
<text x="298.2" y="178.8" font-size="8.2" class="t" text-anchor="middle">0</text>
<text x="315.5" y="178.8" font-size="8.2" class="t" text-anchor="middle">100</text>
<text x="332.8" y="178.8" font-size="8.2" class="t" text-anchor="middle">200</text>
<text x="350" y="178.8" font-size="8.2" class="t" text-anchor="middle">300</text>
<g clip-path="url(#c14)"><path d="M368.9,169.5L368.9,169.3L369.4,169.1L370,168.9L370.5,168.6L371,168.1L371.5,167.4L372,166.4L372.6,165.1L373.1,163.4L373.6,161.2L374.1,158.5L374.6,155.4L375.1,151.7L375.7,147.7L376.2,143.5L376.7,139.1L377.2,134.9L377.7,131.2L378.3,128L378.8,125.7L379.3,124.4L379.8,124.2L380.3,125.2L380.8,127.1L381.4,130L381.9,133.6L382.4,137.7L382.9,142L383.4,146.3L384,150.4L384.5,154.2L385,157.5L385.5,160.4L386,162.7L386.5,164.6L387.1,166L387.6,167.1L388.1,167.9L388.6,168.4L389.1,168.8L389.6,169.1L390.2,169.2L390.7,169.3L390.7,169.5Z" fill="url(#gE)"/><path d="M380.8,169.5L380.8,169.3L381.4,169.2L381.9,169L382.4,168.8L382.9,168.6L383.4,168.2L384,167.8L384.5,167.3L385,166.6L385.5,165.9L386,165L386.5,164.1L387.1,163.2L387.6,162.3L388.1,161.4L388.6,160.6L389.1,159.9L389.6,159.4L390.2,159.2L390.7,159.1L391.2,159.3L391.7,159.7L392.2,160.3L392.8,161.1L393.3,162L393.8,162.9L394.3,163.8L394.8,164.7L395.3,165.6L395.9,166.4L396.4,167.1L396.9,167.6L397.4,168.1L397.9,168.5L398.5,168.8L399,169L399.5,169.1L400,169.3L400.5,169.3L400.5,169.5Z" fill="url(#gP)"/><path d="M377.2,169.5L377.2,169.3L377.7,169.3L378.3,169.2L378.8,169.1L379.3,169L379.8,168.9L380.3,168.7L380.8,168.5L381.4,168.3L381.9,168.1L382.4,167.8L382.9,167.5L383.4,167.2L384,166.8L384.5,166.4L385,166L385.5,165.6L386,165.2L386.5,164.7L387.1,164.2L387.6,163.8L388.1,163.3L388.6,162.8L389.1,162.3L389.6,161.8L390.2,161.3L390.7,160.8L391.2,160.3L391.7,159.8L392.2,159.3L392.8,158.8L393.3,158.3L393.8,157.9L394.3,157.4L394.8,157L395.3,156.5L395.9,156.1L396.4,155.7L396.9,155.3L397.4,154.9L397.9,154.5L398.5,154.1L399,153.8L399.5,153.5L400,153.2L400.5,153L401,152.7L401.6,152.5L402.1,152.3L402.6,152.2L403.1,152.1L403.6,152L404.2,151.9L404.7,151.9L405.2,151.9L405.7,151.9L406.2,151.9L406.7,152L407.3,152.1L407.8,152.2L408.3,152.4L408.8,152.6L409.3,152.8L409.9,153L410.4,153.2L410.9,153.5L411.4,153.8L411.9,154L412.4,154.3L413,154.6L413.5,154.9L414,155.3L414.5,155.6L415,155.9L415.6,156.2L416.1,156.6L416.6,156.9L417.1,157.2L417.6,157.5L418.1,157.9L418.7,158.2L419.2,158.5L419.7,158.8L420.2,159.1L420.7,159.4L421.3,159.7L421.8,160L422.3,160.2L422.8,160.5L423.3,160.8L423.8,161L424.4,161.3L424.9,161.5L425.4,161.7L425.9,162L426.4,162.2L427,162.4L427.5,162.6L428,162.8L428.5,163L429,163.2L429.5,163.3L430.1,163.5L430.6,163.7L431.1,163.8L431.6,164L432.1,164.1L432.7,164.3L433.2,164.4L433.7,164.6L434.2,164.7L434.7,164.9L435.2,165L435.8,165.2L436.3,165.3L436.8,165.5L437.3,165.7L437.8,165.9L438.4,166.1L438.9,166.3L439.4,166.5L439.9,166.8L440.4,167L440.4,169.5Z" fill="url(#gM)"/><path d="M362.2,169.5 L362.7,169.5 L363.2,169.5 L363.7,169.5 L364.3,169.5 L364.8,169.5 L365.3,169.5 L365.8,169.5 L366.3,169.5 L366.9,169.5 L367.4,169.5 L367.9,169.4 L368.4,169.4 L368.9,169.3 L369.4,169.1 L370,168.9 L370.5,168.6 L371,168.1 L371.5,167.4 L372,166.4 L372.6,165.1 L373.1,163.4 L373.6,161.2 L374.1,158.5 L374.6,155.3 L375.1,151.7 L375.7,147.6 L376.2,143.4 L376.7,139 L377.2,134.8 L377.7,130.9 L378.3,127.7 L378.8,125.3 L379.3,123.9 L379.8,123.5 L380.3,124.2 L380.8,126 L381.4,128.5 L381.9,131.7 L382.4,135.3 L382.9,139 L383.4,142.7 L384,146 L384.5,148.8 L385,151.1 L385.5,152.7 L386,153.7 L386.5,154.1 L387.1,154.1 L387.6,153.7 L388.1,153 L388.6,152.1 L389.1,151.2 L389.6,150.3 L390.2,149.5 L390.7,148.9 L391.2,148.5 L391.7,148.2 L392.2,148.2 L392.8,148.3 L393.3,148.5 L393.8,148.8 L394.3,149.1 L394.8,149.5 L395.3,149.9 L395.9,150.2 L396.4,150.5 L396.9,150.7 L397.4,150.9 L397.9,151 L398.5,151.1 L399,151.2 L399.5,151.2 L400,151.2 L400.5,151.3 L401,151.3 L401.6,151.3 L402.1,151.3 L402.6,151.3 L403.1,151.4 L403.6,151.4 L404.2,151.5 L404.7,151.5 L405.2,151.6 L405.7,151.7 L406.2,151.8 L406.7,151.9 L407.3,152 L407.8,152.2 L408.3,152.4 L408.8,152.5 L409.3,152.8 L409.9,153 L410.4,153.2 L410.9,153.5 L411.4,153.8 L411.9,154 L412.4,154.3 L413,154.6 L413.5,154.9 L414,155.3 L414.5,155.6 L415,155.9 L415.6,156.2 L416.1,156.6 L416.6,156.9 L417.1,157.2 L417.6,157.5 L418.1,157.9 L418.7,158.2 L419.2,158.5 L419.7,158.8 L420.2,159.1 L420.7,159.4 L421.3,159.7 L421.8,160 L422.3,160.2 L422.8,160.5 L423.3,160.8 L423.8,161 L424.4,161.3 L424.9,161.5 L425.4,161.7 L425.9,162 L426.4,162.2 L427,162.4 L427.5,162.6 L428,162.8 L428.5,163 L429,163.2 L429.5,163.3 L430.1,163.5 L430.6,163.7 L431.1,163.8 L431.6,164 L432.1,164.1 L432.7,164.3 L433.2,164.4 L433.7,164.6 L434.2,164.7 L434.7,164.9 L435.2,165 L435.8,165.2 L436.3,165.3 L436.8,165.5 L437.3,165.7 L437.8,165.9 L438.4,166.1 L438.9,166.3 L439.4,166.5 L439.9,166.8 L440.4,167" fill="none" stroke="#ea1a20" stroke-width="1.2" stroke-linejoin="round"/><path d="M362.7,170.1h0M364.6,169h0M366.5,169.7h0M368.4,169.6h0M370.3,168.8h0M372.2,166.2h0M374.1,158.2h0M376,144.7h0M377.9,129.6h0M379.8,123.9h0M381.7,131.1h0M383.6,143.6h0M385.5,152.7h0M387.4,153.5h0M389.3,150.7h0M391.2,148.1h0M393.1,148.3h0M395,149.5h0M396.9,151h0M398.8,151.3h0M400.7,150.9h0M402.6,151.6h0M404.5,151.5h0M406.4,151.9h0M408.3,153h0M410.2,153.1h0M412.1,154.6h0M414,155.6h0M415.9,156.7h0M417.8,157.4h0M419.7,158.9h0M421.6,159.6h0M423.5,160.3h0M425.4,161.6h0M427.3,163.4h0M429.2,163.8h0M431.1,163.4h0M433,164.5h0M434.9,164.6h0M436.8,165.6h0M438.7,166.2h0M440.6,166.7h0" stroke="#1a0000" stroke-width="1.85" stroke-linecap="round" fill="none"/></g>
<rect x="362.5" y="95.5" width="77.7" height="74" fill="none" stroke="#000" stroke-width="1.25"/>
<path d="M362.5,152.2h3M362.5,134.9h3M362.5,117.6h3M362.5,100.3h3M379.5,169.5v-2.3M396.7,169.5v-2.3M414,169.5v-2.3M431.3,169.5v-2.3" stroke="#000" stroke-width="1"/>
<text x="435.9" y="105.2" font-size="8.5" class="t" text-anchor="end">(0.22, 0.22)</text>
<text x="379.5" y="178.8" font-size="8.2" class="t" text-anchor="middle">0</text>
<text x="396.7" y="178.8" font-size="8.2" class="t" text-anchor="middle">100</text>
<text x="414" y="178.8" font-size="8.2" class="t" text-anchor="middle">200</text>
<text x="431.3" y="178.8" font-size="8.2" class="t" text-anchor="middle">300</text>
<g clip-path="url(#c15)"><path d="M449.6,169.5L449.6,169.3L450.2,169.2L450.7,169.1L451.2,168.8L451.7,168.4L452.2,167.8L452.8,166.9L453.3,165.7L453.8,164.1L454.3,162L454.8,159.4L455.3,156.1L455.9,152.2L456.4,147.8L456.9,142.9L457.4,137.7L457.9,132.4L458.5,127.3L459,122.7L459.5,118.8L460,116L460.5,114.4L461,114.2L461.6,115.4L462.1,117.8L462.6,121.3L463.1,125.7L463.6,130.7L464.2,135.9L464.7,141.2L465.2,146.2L465.7,150.8L466.2,154.9L466.7,158.3L467.3,161.2L467.8,163.5L468.3,165.2L468.8,166.5L469.3,167.5L469.9,168.2L470.4,168.7L470.9,169L471.4,169.2L471.9,169.3L471.9,169.5Z" fill="url(#gE)"/><path d="M462.1,169.5L462.1,169.4L462.6,169.3L463.1,169.2L463.6,169L464.2,168.8L464.7,168.5L465.2,168.1L465.7,167.6L466.2,167L466.7,166.3L467.3,165.5L467.8,164.6L468.3,163.6L468.8,162.6L469.3,161.5L469.9,160.6L470.4,159.7L470.9,159L471.4,158.4L471.9,158.1L472.4,158.1L473,158.3L473.5,158.8L474,159.4L474.5,160.3L475,161.2L475.6,162.2L476.1,163.3L476.6,164.3L477.1,165.2L477.6,166.1L478.1,166.8L478.7,167.4L479.2,168L479.7,168.4L480.2,168.7L480.7,168.9L481.3,169.1L481.8,169.2L482.3,169.3L482.3,169.5Z" fill="url(#gP)"/><path d="M458.5,169.5L458.5,169.4L459,169.3L459.5,169.2L460,169.2L460.5,169.1L461,168.9L461.6,168.8L462.1,168.6L462.6,168.5L463.1,168.3L463.6,168L464.2,167.8L464.7,167.5L465.2,167.1L465.7,166.8L466.2,166.5L466.7,166.1L467.3,165.7L467.8,165.3L468.3,164.8L468.8,164.4L469.3,163.9L469.9,163.5L470.4,163L470.9,162.6L471.4,162.1L471.9,161.6L472.4,161.2L473,160.7L473.5,160.2L474,159.7L474.5,159.3L475,158.8L475.6,158.4L476.1,157.9L476.6,157.5L477.1,157L477.6,156.6L478.1,156.2L478.7,155.8L479.2,155.4L479.7,155L480.2,154.7L480.7,154.3L481.3,154L481.8,153.7L482.3,153.4L482.8,153.2L483.3,153L483.8,152.8L484.4,152.6L484.9,152.5L485.4,152.4L485.9,152.3L486.4,152.2L487,152.2L487.5,152.2L488,152.2L488.5,152.3L489,152.4L489.5,152.5L490.1,152.6L490.6,152.8L491.1,153L491.6,153.2L492.1,153.4L492.6,153.7L493.2,153.9L493.7,154.2L494.2,154.5L494.7,154.8L495.2,155.1L495.8,155.4L496.3,155.7L496.8,156L497.3,156.3L497.8,156.7L498.3,157L498.9,157.3L499.4,157.6L499.9,158L500.4,158.3L500.9,158.6L501.5,158.9L502,159.2L502.5,159.5L503,159.8L503.5,160.1L504,160.3L504.6,160.6L505.1,160.9L505.6,161.1L506.1,161.4L506.6,161.6L507.2,161.8L507.7,162.1L508.2,162.3L508.7,162.5L509.2,162.7L509.7,162.9L510.3,163.1L510.8,163.2L511.3,163.4L511.8,163.6L512.3,163.8L512.9,163.9L513.4,164.1L513.9,164.2L514.4,164.4L514.9,164.5L515.4,164.7L516,164.8L516.5,165L517,165.1L517.5,165.3L518,165.5L518.6,165.7L519.1,165.9L519.6,166.1L520.1,166.3L520.6,166.5L521.1,166.7L521.7,167L521.7,169.5Z" fill="url(#gM)"/><path d="M500.4,169.5L500.4,169L521.4,166.5L521.4,169.5Z" fill="#b3b3b3"/><path d="M443.4,169.5 L443.9,169.5 L444.5,169.5 L445,169.5 L445.5,169.5 L446,169.5 L446.5,169.5 L447.1,169.5 L447.6,169.5 L448.1,169.5 L448.6,169.4 L449.1,169.4 L449.6,169.3 L450.2,169.2 L450.7,169.1 L451.2,168.8 L451.7,168.4 L452.2,167.8 L452.8,166.9 L453.3,165.7 L453.8,164.1 L454.3,162 L454.8,159.3 L455.3,156.1 L455.9,152.2 L456.4,147.8 L456.9,142.8 L457.4,137.6 L457.9,132.3 L458.5,127.1 L459,122.5 L459.5,118.6 L460,115.7 L460.5,114 L461,113.6 L461.6,114.6 L462.1,116.8 L462.6,120 L463.1,124.1 L463.6,128.7 L464.2,133.4 L464.7,138.1 L465.2,142.4 L465.7,146.2 L466.2,149.3 L466.7,151.6 L467.3,153.2 L467.8,154.1 L468.3,154.4 L468.8,154.2 L469.3,153.6 L469.9,152.7 L470.4,151.7 L470.9,150.7 L471.4,149.8 L471.9,149 L472.4,148.5 L473,148.1 L473.5,148 L474,148 L474.5,148.3 L475,148.6 L475.6,149.1 L476.1,149.6 L476.6,150.1 L477.1,150.6 L477.6,151.1 L478.1,151.4 L478.7,151.7 L479.2,151.9 L479.7,152.1 L480.2,152.2 L480.7,152.2 L481.3,152.2 L481.8,152.2 L482.3,152.2 L482.8,152.1 L483.3,152.1 L483.8,152 L484.4,152 L484.9,151.9 L485.4,151.9 L485.9,151.9 L486.4,151.9 L487,151.9 L487.5,151.9 L488,152 L488.5,152 L489,152.1 L489.5,152.2 L490.1,152.4 L490.6,152.5 L491.1,152.7 L491.6,152.9 L492.1,153.1 L492.6,153.3 L493.2,153.6 L493.7,153.8 L494.2,154.1 L494.7,154.3 L495.2,154.6 L495.8,154.9 L496.3,155.2 L496.8,155.5 L497.3,155.8 L497.8,156.1 L498.3,156.4 L498.9,156.6 L499.4,156.9 L499.9,157.2 L500.4,157.5 L500.9,157.8 L501.5,158 L502,158.3 L502.5,158.6 L503,158.8 L503.5,159 L504,159.3 L504.6,159.5 L505.1,159.7 L505.6,159.9 L506.1,160.2 L506.6,160.4 L507.2,160.5 L507.7,160.7 L508.2,160.9 L508.7,161.1 L509.2,161.3 L509.7,161.4 L510.3,161.6 L510.8,161.7 L511.3,161.9 L511.8,162 L512.3,162.2 L512.9,162.3 L513.4,162.4 L513.9,162.6 L514.4,162.7 L514.9,162.8 L515.4,162.9 L516,163.1 L516.5,163.2 L517,163.3 L517.5,163.5 L518,163.6 L518.6,163.8 L519.1,164 L519.6,164.2 L520.1,164.4 L520.6,164.6 L521.1,164.8 L521.7,165.1" fill="none" stroke="#ea1a20" stroke-width="1.2" stroke-linejoin="round"/><path d="M443.9,169.4h0M445.8,169.9h0M447.7,169.6h0M449.6,168.9h0M451.5,168.4h0M453.4,165.7h0M455.3,156.5h0M457.2,139.8h0M459.1,121.5h0M461,113.9h0M462.9,122.8h0M464.8,139.6h0M466.7,151.7h0M468.6,154.2h0M470.5,151.2h0M472.4,148.8h0M474.3,148.2h0M476.2,150.3h0M478.1,151.1h0M480,152.2h0M481.9,152.3h0M483.8,152.3h0M485.7,151.7h0M487.6,151.7h0M489.5,151.2h0M491.4,152.3h0M493.3,153.5h0M495.2,154.7h0M497.1,155h0M499,157h0M500.9,157.1h0M502.8,158.8h0M504.7,158.8h0M506.6,160.5h0M508.5,160.4h0M510.4,161.7h0M512.3,161.7h0M514.2,162.3h0M516.1,163.3h0M518,164.2h0M519.9,164.7h0M521.8,165.3h0" stroke="#1a0000" stroke-width="1.85" stroke-linecap="round" fill="none"/></g>
<rect x="443.7" y="95.5" width="77.7" height="74" fill="none" stroke="#000" stroke-width="1.25"/>
<path d="M443.7,152.2h3M443.7,134.9h3M443.7,117.6h3M443.7,100.3h3M460.7,169.5v-2.3M478,169.5v-2.3M495.2,169.5v-2.3M512.5,169.5v-2.3" stroke="#000" stroke-width="1"/>
<text x="517.1" y="105.2" font-size="8.5" class="t" text-anchor="end">(0.18, 0.18)</text>
<text x="460.7" y="178.8" font-size="8.2" class="t" text-anchor="middle">0</text>
<text x="478" y="178.8" font-size="8.2" class="t" text-anchor="middle">100</text>
<text x="495.2" y="178.8" font-size="8.2" class="t" text-anchor="middle">200</text>
<text x="512.5" y="178.8" font-size="8.2" class="t" text-anchor="middle">300</text>
<g clip-path="url(#c16)"><path d="M530.9,169.5L530.9,169.3L531.4,169.2L531.9,169L532.4,168.6L533,168.1L533.5,167.4L534,166.4L534.5,165L535,163L535.6,160.5L536.1,157.3L536.6,153.4L537.1,148.8L537.6,143.5L538.1,137.6L538.7,131.3L539.2,125L539.7,118.9L540.2,113.3L540.7,108.7L541.2,105.3L541.8,103.4L542.3,103.2L542.8,104.5L543.3,107.4L543.8,111.7L544.4,116.9L544.9,122.9L545.4,129.2L545.9,135.5L546.4,141.5L546.9,147.1L547.5,151.9L548,156.1L548.5,159.5L549,162.3L549.5,164.4L550.1,166L550.6,167.1L551.1,167.9L551.6,168.5L552.1,168.9L552.6,169.1L553.2,169.3L553.2,169.5Z" fill="url(#gE)"/><path d="M543.3,169.5L543.3,169.3L543.8,169.3L544.4,169.2L544.9,169L545.4,168.8L545.9,168.6L546.4,168.3L546.9,167.9L547.5,167.5L548,167L548.5,166.5L549,165.9L549.5,165.3L550.1,164.8L550.6,164.3L551.1,163.9L551.6,163.5L552.1,163.3L552.6,163.3L553.2,163.3L553.7,163.5L554.2,163.9L554.7,164.3L555.2,164.8L555.8,165.3L556.3,165.9L556.8,166.5L557.3,167L557.8,167.5L558.3,167.9L558.9,168.3L559.4,168.6L559.9,168.8L560.4,169L560.9,169.2L561.5,169.3L562,169.3L562,169.5Z" fill="url(#gP)"/><path d="M540.2,169.5L540.2,169.3L540.7,169.3L541.2,169.2L541.8,169.1L542.3,169L542.8,168.9L543.3,168.8L543.8,168.6L544.4,168.4L544.9,168.2L545.4,167.9L545.9,167.6L546.4,167.3L546.9,167L547.5,166.6L548,166.2L548.5,165.8L549,165.4L549.5,164.9L550.1,164.4L550.6,163.9L551.1,163.4L551.6,162.9L552.1,162.4L552.6,161.8L553.2,161.3L553.7,160.8L554.2,160.2L554.7,159.7L555.2,159.2L555.8,158.7L556.3,158.2L556.8,157.7L557.3,157.2L557.8,156.7L558.3,156.3L558.9,155.9L559.4,155.5L559.9,155.2L560.4,154.9L560.9,154.6L561.5,154.3L562,154.1L562.5,153.9L563,153.8L563.5,153.7L564,153.6L564.6,153.6L565.1,153.6L565.6,153.6L566.1,153.7L566.6,153.8L567.2,153.9L567.7,154L568.2,154.2L568.7,154.4L569.2,154.6L569.7,154.9L570.3,155.2L570.8,155.4L571.3,155.7L571.8,156.1L572.3,156.4L572.9,156.7L573.4,157.1L573.9,157.5L574.4,157.8L574.9,158.2L575.4,158.6L576,159L576.5,159.4L577,159.8L577.5,160.2L578,160.5L578.6,160.9L579.1,161.3L579.6,161.7L580.1,162.1L580.6,162.4L581.1,162.8L581.7,163.2L582.2,163.5L582.7,163.8L583.2,164.2L583.7,164.5L584.3,164.8L584.8,165.1L585.3,165.3L585.8,165.6L586.3,165.9L586.8,166.1L587.4,166.4L587.9,166.6L588.4,166.8L588.9,167L589.4,167.2L590,167.4L590.5,167.5L591,167.7L591.5,167.8L592,168L592.5,168.1L593.1,168.2L593.6,168.3L594.1,168.4L594.6,168.5L595.1,168.6L595.6,168.7L596.2,168.8L596.7,168.8L597.2,168.9L597.7,169L598.2,169L598.8,169.1L599.3,169.1L599.8,169.2L600.3,169.2L600.8,169.2L601.3,169.3L601.9,169.3L602.4,169.3L602.9,169.3L602.9,169.5Z" fill="url(#gM)"/><path d="M562.7,169.5L562.7,166.9L602.6,166.5L602.6,169.5Z" fill="#b3b3b3"/><path d="M524.7,169.5 L525.2,169.5 L525.7,169.4 L526.2,169.4 L526.7,169.4 L527.3,169.4 L527.8,169.4 L528.3,169.4 L528.8,169.4 L529.3,169.4 L529.9,169.4 L530.4,169.3 L530.9,169.2 L531.4,169.1 L531.9,168.9 L532.4,168.5 L533,168 L533.5,167.3 L534,166.3 L534.5,164.8 L535,162.9 L535.6,160.4 L536.1,157.2 L536.6,153.3 L537.1,148.6 L537.6,143.3 L538.1,137.4 L538.7,131.1 L539.2,124.7 L539.7,118.5 L540.2,112.9 L540.7,108.3 L541.2,104.8 L541.8,102.8 L542.3,102.4 L542.8,103.6 L543.3,106.3 L543.8,110.2 L544.4,115.2 L544.9,120.8 L545.4,126.6 L545.9,132.4 L546.4,137.8 L546.9,142.5 L547.5,146.6 L548,149.8 L548.5,152.3 L549,153.9 L549.5,154.9 L550.1,155.4 L550.6,155.5 L551.1,155.3 L551.6,154.9 L552.1,154.4 L552.6,153.9 L553.2,153.5 L553.7,153.1 L554.2,152.8 L554.7,152.5 L555.2,152.4 L555.8,152.3 L556.3,152.2 L556.8,152.2 L557.3,152.1 L557.8,152.1 L558.3,152 L558.9,152 L559.4,151.9 L559.9,151.8 L560.4,151.7 L560.9,151.6 L561.5,151.6 L562,151.5 L562.5,151.5 L563,151.4 L563.5,151.4 L564,151.4 L564.6,151.5 L565.1,151.5 L565.6,151.6 L566.1,151.7 L566.6,151.8 L567.2,151.9 L567.7,152.1 L568.2,152.2 L568.7,152.4 L569.2,152.6 L569.7,152.8 L570.3,153 L570.8,153.3 L571.3,153.5 L571.8,153.8 L572.3,154 L572.9,154.3 L573.4,154.6 L573.9,154.9 L574.4,155.2 L574.9,155.6 L575.4,155.9 L576,156.2 L576.5,156.6 L577,156.9 L577.5,157.2 L578,157.6 L578.6,157.9 L579.1,158.2 L579.6,158.5 L580.1,158.9 L580.6,159.2 L581.1,159.5 L581.7,159.8 L582.2,160.1 L582.7,160.4 L583.2,160.6 L583.7,160.9 L584.3,161.2 L584.8,161.4 L585.3,161.6 L585.8,161.9 L586.3,162.1 L586.8,162.3 L587.4,162.5 L587.9,162.7 L588.4,162.8 L588.9,163 L589.4,163.2 L590,163.3 L590.5,163.4 L591,163.6 L591.5,163.7 L592,163.8 L592.5,163.9 L593.1,164 L593.6,164.1 L594.1,164.1 L594.6,164.2 L595.1,164.3 L595.6,164.3 L596.2,164.4 L596.7,164.4 L597.2,164.5 L597.7,164.5 L598.2,164.6 L598.8,164.6 L599.3,164.6 L599.8,164.7 L600.3,164.7 L600.8,164.7 L601.3,164.7 L601.9,164.7 L602.4,164.7 L602.9,164.8" fill="none" stroke="#ea1a20" stroke-width="1.2" stroke-linejoin="round"/><path d="M525.2,169.4h0M527.1,169.8h0M529,169.1h0M530.9,169.7h0M532.8,168.3h0M534.7,163.8h0M536.6,152.9h0M538.5,133.5h0M540.4,110.7h0M542.3,101.9h0M544.2,113.2h0M546.1,134.3h0M548,149.9h0M549.9,155.1h0M551.8,154.2h0M553.7,152.9h0M555.6,152.2h0M557.5,152.2h0M559.4,151.9h0M561.3,151.5h0M563.2,151.3h0M565.1,152h0M567,151.7h0M568.9,152.5h0M570.8,153.1h0M572.7,154.7h0M574.6,154.7h0M576.5,156.2h0M578.4,158.5h0M580.3,158.8h0M582.2,160.3h0M584.1,161.4h0M586,161.9h0M587.9,162.6h0M589.8,163.7h0M591.7,163.6h0M593.6,164.5h0M595.5,163.8h0M597.4,164.2h0M599.3,165h0M601.2,164.4h0M603.1,165.2h0" stroke="#1a0000" stroke-width="1.85" stroke-linecap="round" fill="none"/></g>
<rect x="524.9" y="95.5" width="77.7" height="74" fill="none" stroke="#000" stroke-width="1.25"/>
<path d="M524.9,152.2h3M524.9,134.9h3M524.9,117.6h3M524.9,100.3h3M541.9,169.5v-2.3M559.2,169.5v-2.3M576.5,169.5v-2.3M593.7,169.5v-2.3" stroke="#000" stroke-width="1"/>
<text x="598.3" y="105.2" font-size="8.5" class="t" text-anchor="end">(0.14, 0.14)</text>
<text x="541.9" y="178.8" font-size="8.2" class="t" text-anchor="middle">0</text>
<text x="559.2" y="178.8" font-size="8.2" class="t" text-anchor="middle">100</text>
<text x="576.5" y="178.8" font-size="8.2" class="t" text-anchor="middle">200</text>
<text x="593.7" y="178.8" font-size="8.2" class="t" text-anchor="middle">300</text>
<g clip-path="url(#c17)"><path d="M612.1,169.5L612.1,169.3L612.6,169.2L613.2,169L613.7,168.7L614.2,168.3L614.7,167.7L615.2,166.8L615.8,165.5L616.3,163.8L616.8,161.6L617.3,158.8L617.8,155.4L618.3,151.4L618.9,146.7L619.4,141.6L619.9,136.1L620.4,130.5L620.9,125.2L621.5,120.3L622,116.3L622.5,113.4L623,111.7L623.5,111.5L624,112.6L624.6,115.2L625.1,118.9L625.6,123.5L626.1,128.7L626.6,134.2L627.2,139.8L627.7,145L628.2,149.9L628.7,154.1L629.2,157.8L629.7,160.8L630.3,163.2L630.8,165L631.3,166.4L631.8,167.4L632.3,168.1L632.9,168.6L633.4,168.9L633.9,169.2L634.4,169.3L634.4,169.5Z" fill="url(#gE)"/><path d="M624.6,169.5L624.6,169.3L625.1,169.2L625.6,169.1L626.1,168.9L626.6,168.7L627.2,168.5L627.7,168.1L628.2,167.7L628.7,167.3L629.2,166.7L629.7,166.1L630.3,165.5L630.8,164.9L631.3,164.3L631.8,163.7L632.3,163.2L632.9,162.9L633.4,162.7L633.9,162.6L634.4,162.7L634.9,162.9L635.4,163.2L636,163.7L636.5,164.3L637,164.9L637.5,165.5L638,166.1L638.6,166.7L639.1,167.3L639.6,167.7L640.1,168.1L640.6,168.5L641.1,168.7L641.7,168.9L642.2,169.1L642.7,169.2L643.2,169.3L643.2,169.5Z" fill="url(#gP)"/><path d="M620.4,169.5L620.4,169.3L620.9,169.3L621.5,169.2L622,169.1L622.5,169L623,168.9L623.5,168.7L624,168.5L624.6,168.3L625.1,168L625.6,167.7L626.1,167.4L626.6,167L627.2,166.5L627.7,166.1L628.2,165.6L628.7,165L629.2,164.5L629.7,163.9L630.3,163.3L630.8,162.6L631.3,162L631.8,161.4L632.3,160.7L632.9,160.1L633.4,159.4L633.9,158.8L634.4,158.1L634.9,157.5L635.4,156.9L636,156.4L636.5,155.8L637,155.3L637.5,154.8L638,154.4L638.6,154L639.1,153.6L639.6,153.2L640.1,152.9L640.6,152.6L641.1,152.4L641.7,152.2L642.2,152.1L642.7,152L643.2,151.9L643.7,151.9L644.2,151.9L644.8,151.9L645.3,152L645.8,152.1L646.3,152.2L646.8,152.3L647.4,152.5L647.9,152.7L648.4,152.9L648.9,153.2L649.4,153.4L649.9,153.7L650.5,154L651,154.3L651.5,154.6L652,154.9L652.5,155.2L653.1,155.5L653.6,155.8L654.1,156.1L654.6,156.5L655.1,156.8L655.6,157.1L656.2,157.4L656.7,157.7L657.2,158.1L657.7,158.4L658.2,158.7L658.8,159L659.3,159.3L659.8,159.5L660.3,159.8L660.8,160.1L661.3,160.4L661.9,160.6L662.4,160.9L662.9,161.1L663.4,161.3L663.9,161.6L664.5,161.8L665,162L665.5,162.2L666,162.4L666.5,162.6L667,162.8L667.6,163L668.1,163.2L668.6,163.3L669.1,163.5L669.6,163.7L670.2,163.8L670.7,164L671.2,164.1L671.7,164.3L672.2,164.4L672.7,164.5L673.3,164.6L673.8,164.8L674.3,164.9L674.8,165L675.3,165.1L675.9,165.2L676.4,165.3L676.9,165.4L677.4,165.5L677.9,165.7L678.4,165.8L679,165.9L679.5,166L680,166.1L680.5,166.2L681,166.4L681.6,166.5L682.1,166.7L682.6,166.9L683.1,167L683.6,167.2L684.1,167.4L684.1,169.5Z" fill="url(#gM)"/><path d="M605.9,169.5 L606.4,169.5 L606.9,169.5 L607.5,169.5 L608,169.5 L608.5,169.5 L609,169.5 L609.5,169.5 L610.1,169.5 L610.6,169.5 L611.1,169.4 L611.6,169.4 L612.1,169.3 L612.6,169.2 L613.2,169 L613.7,168.7 L614.2,168.3 L614.7,167.7 L615.2,166.8 L615.8,165.5 L616.3,163.8 L616.8,161.6 L617.3,158.8 L617.8,155.4 L618.3,151.3 L618.9,146.7 L619.4,141.5 L619.9,136 L620.4,130.4 L620.9,125 L621.5,120.1 L622,115.9 L622.5,112.8 L623,111 L623.5,110.6 L624,111.5 L624.6,113.8 L625.1,117.1 L625.6,121.3 L626.1,126 L626.6,130.9 L627.2,135.7 L627.7,140.2 L628.2,144.1 L628.7,147.3 L629.2,149.8 L629.7,151.6 L630.3,152.7 L630.8,153.2 L631.3,153.2 L631.8,152.9 L632.3,152.4 L632.9,151.7 L633.4,151 L633.9,150.4 L634.4,149.8 L634.9,149.3 L635.4,148.9 L636,148.6 L636.5,148.5 L637,148.4 L637.5,148.4 L638,148.4 L638.6,148.5 L639.1,148.6 L639.6,148.7 L640.1,148.8 L640.6,148.9 L641.1,149.1 L641.7,149.2 L642.2,149.4 L642.7,149.6 L643.2,149.8 L643.7,150 L644.2,150.2 L644.8,150.5 L645.3,150.8 L645.8,151.1 L646.3,151.4 L646.8,151.7 L647.4,152 L647.9,152.3 L648.4,152.6 L648.9,152.9 L649.4,153.2 L649.9,153.5 L650.5,153.9 L651,154.2 L651.5,154.5 L652,154.8 L652.5,155.1 L653.1,155.5 L653.6,155.8 L654.1,156.1 L654.6,156.5 L655.1,156.8 L655.6,157.1 L656.2,157.4 L656.7,157.7 L657.2,158.1 L657.7,158.4 L658.2,158.7 L658.8,159 L659.3,159.3 L659.8,159.5 L660.3,159.8 L660.8,160.1 L661.3,160.4 L661.9,160.6 L662.4,160.9 L662.9,161.1 L663.4,161.3 L663.9,161.6 L664.5,161.8 L665,162 L665.5,162.2 L666,162.4 L666.5,162.6 L667,162.8 L667.6,163 L668.1,163.2 L668.6,163.3 L669.1,163.5 L669.6,163.7 L670.2,163.8 L670.7,164 L671.2,164.1 L671.7,164.3 L672.2,164.4 L672.7,164.5 L673.3,164.6 L673.8,164.8 L674.3,164.9 L674.8,165 L675.3,165.1 L675.9,165.2 L676.4,165.3 L676.9,165.4 L677.4,165.5 L677.9,165.7 L678.4,165.8 L679,165.9 L679.5,166 L680,166.1 L680.5,166.2 L681,166.4 L681.6,166.5 L682.1,166.7 L682.6,166.9 L683.1,167 L683.6,167.2 L684.1,167.4" fill="none" stroke="#ea1a20" stroke-width="1.2" stroke-linejoin="round"/><path d="M606.4,169.7h0M608.3,169.1h0M610.2,170.1h0M612.1,168.6h0M614,168.1h0M615.9,165.2h0M617.8,156.2h0M619.7,138.3h0M621.6,119.1h0M623.5,110.7h0M625.4,118.9h0M627.3,137.7h0M629.2,149.9h0M631.1,153.1h0M633,151.3h0M634.9,149.1h0M636.8,148.5h0M638.7,148.6h0M640.6,148.9h0M642.5,148.7h0M644.4,150.6h0M646.3,151.5h0M648.2,152.2h0M650.1,154h0M652,154.7h0M653.9,156h0M655.8,157.2h0M657.7,157.8h0M659.6,159.3h0M661.5,160.1h0M663.4,160.6h0M665.3,162.7h0M667.2,162.5h0M669.1,163.5h0M671,164.6h0M672.9,165h0M674.8,165.3h0M676.7,165.3h0M678.6,165.6h0M680.5,165.8h0M682.4,167.2h0M684.3,167.6h0" stroke="#1a0000" stroke-width="1.85" stroke-linecap="round" fill="none"/></g>
<rect x="606.2" y="95.5" width="77.7" height="74" fill="none" stroke="#000" stroke-width="1.25"/>
<path d="M606.2,152.2h3M606.2,134.9h3M606.2,117.6h3M606.2,100.3h3M623.2,169.5v-2.3M640.4,169.5v-2.3M657.7,169.5v-2.3M675,169.5v-2.3" stroke="#000" stroke-width="1"/>
<text x="679.6" y="105.2" font-size="8.5" class="t" text-anchor="end">(0.1, 0.1)</text>
<text x="623.2" y="178.8" font-size="8.2" class="t" text-anchor="middle">0</text>
<text x="640.4" y="178.8" font-size="8.2" class="t" text-anchor="middle">100</text>
<text x="657.7" y="178.8" font-size="8.2" class="t" text-anchor="middle">200</text>
<text x="675" y="178.8" font-size="8.2" class="t" text-anchor="middle">300</text>
<g clip-path="url(#c20)"><path d="M37.2,263.2L37.2,261L37.7,260.9L38.3,260.7L38.8,260.6L39.3,260.4L39.8,260.3L40.3,260.1L40.9,259.8L41.4,259.6L41.9,259.3L42.4,259L42.9,258.6L43.4,258.1L44,257.3L44.5,256.3L45,254.9L45.5,252.7L46,249.5L46.6,244.9L47.1,238.2L47.6,228.9L48.1,216.1L48.6,199.2L49.1,188.3L49.7,188.3L50.2,188.3L50.7,188.3L51.2,188.3L51.7,188.3L52.3,188.3L52.8,188.3L53.3,188.3L53.8,188.3L54.3,188.3L54.8,188.3L55.4,188.3L55.9,188.3L56.4,188.3L56.9,188.3L57.4,188.3L58,188.3L58.5,188.3L59,188.3L59.5,188.3L60,188.3L60.5,188.3L61.1,199.2L61.6,216.1L62.1,228.9L62.6,238.2L63.1,244.9L63.7,249.5L64.2,252.7L64.7,254.9L65.2,256.3L65.7,257.3L66.2,258.1L66.8,258.6L67.3,259L67.8,259.3L68.3,259.6L68.8,259.8L69.4,260.1L69.9,260.3L70.4,260.4L70.9,260.6L71.4,260.7L71.9,260.9L72.5,261L73,261.1L73.5,261.2L74,261.3L74.5,261.4L75.1,261.5L75.6,261.6L76.1,261.6L76.6,261.7L77.1,261.8L77.6,261.8L78.2,261.9L78.7,262L79.2,262L79.7,262L80.2,262.1L80.8,262.1L81.3,262.2L81.8,262.2L82.3,262.2L82.8,262.3L83.3,262.3L83.9,262.3L84.4,262.4L84.9,262.4L85.4,262.4L85.9,262.5L86.4,262.5L87,262.5L87.5,262.5L88,262.5L88.5,262.6L89,262.6L89.6,262.6L90.1,262.6L90.6,262.6L91.1,262.6L91.6,262.7L92.1,262.7L92.7,262.7L93.2,262.7L93.7,262.7L94.2,262.7L94.7,262.7L95.3,262.8L95.8,262.8L96.3,262.8L96.8,262.8L97.3,262.8L97.8,262.8L98.4,262.8L98.9,262.8L99.4,262.8L99.9,262.8L100.4,262.8L101,262.9L101.5,262.9L102,262.9L102.5,262.9L103,262.9L103.5,262.9L104.1,262.9L104.6,262.9L105.1,262.9L105.6,262.9L106.1,262.9L106.7,262.9L107.2,262.9L107.7,262.9L108.2,262.9L108.7,262.9L109.2,263L109.8,263L110.3,263L110.8,263L111.3,263L111.8,263L112.4,263L112.9,263L113.4,263L113.9,263L114.4,263L114.9,263L115.5,263L115.5,263.2Z" fill="url(#gE)"/><path d="M51.2,263.2L51.2,263L51.7,263L52.3,262.9L52.8,262.8L53.3,262.6L53.8,262.4L54.3,262.2L54.8,261.8L55.4,261.4L55.9,260.9L56.4,260.3L56.9,259.6L57.4,258.8L58,257.9L58.5,256.8L59,255.6L59.5,254.4L60,253.1L60.5,251.7L61.1,250.3L61.6,249L62.1,247.7L62.6,246.5L63.1,245.5L63.7,244.6L64.2,244L64.7,243.6L65.2,243.5L65.7,243.6L66.2,244L66.8,244.6L67.3,245.5L67.8,246.5L68.3,247.7L68.8,249L69.4,250.3L69.9,251.7L70.4,253.1L70.9,254.4L71.4,255.6L71.9,256.8L72.5,257.9L73,258.8L73.5,259.6L74,260.3L74.5,260.9L75.1,261.4L75.6,261.8L76.1,262.2L76.6,262.4L77.1,262.6L77.6,262.8L78.2,262.9L78.7,263L79.2,263L79.2,263.2Z" fill="url(#gP)"/><path d="M53.8,263.2L53.8,263.1L54.3,263L54.8,263L55.4,262.9L55.9,262.9L56.4,262.8L56.9,262.7L57.4,262.6L58,262.5L58.5,262.4L59,262.2L59.5,262.1L60,262L60.5,261.8L61.1,261.7L61.6,261.5L62.1,261.3L62.6,261.2L63.1,261L63.7,260.8L64.2,260.7L64.7,260.5L65.2,260.3L65.7,260.2L66.2,260L66.8,259.8L67.3,259.7L67.8,259.5L68.3,259.4L68.8,259.3L69.4,259.1L69.9,259L70.4,258.9L70.9,258.7L71.4,258.6L71.9,258.5L72.5,258.4L73,258.4L73.5,258.3L74,258.2L74.5,258.2L75.1,258.1L75.6,258.1L76.1,258L76.6,258L77.1,258L77.6,258L78.2,258L78.7,258L79.2,258.1L79.7,258.1L80.2,258.2L80.8,258.2L81.3,258.3L81.8,258.3L82.3,258.4L82.8,258.5L83.3,258.6L83.9,258.7L84.4,258.8L84.9,258.9L85.4,259L85.9,259.1L86.4,259.2L87,259.3L87.5,259.5L88,259.6L88.5,259.7L89,259.8L89.6,260L90.1,260.1L90.6,260.2L91.1,260.3L91.6,260.5L92.1,260.6L92.7,260.7L93.2,260.8L93.7,261L94.2,261.1L94.7,261.2L95.3,261.3L95.8,261.4L96.3,261.5L96.8,261.6L97.3,261.7L97.8,261.8L98.4,261.9L98.9,262L99.4,262.1L99.9,262.1L100.4,262.2L101,262.3L101.5,262.3L102,262.4L102.5,262.5L103,262.5L103.5,262.6L104.1,262.6L104.6,262.7L105.1,262.7L105.6,262.8L106.1,262.8L106.7,262.8L107.2,262.9L107.7,262.9L108.2,262.9L108.7,262.9L109.2,263L109.8,263L110.3,263L110.8,263L111.3,263.1L111.3,263.2Z" fill="url(#gM)"/><path d="M37.2,261 L37.7,260.9 L38.3,260.7 L38.8,260.6 L39.3,260.4 L39.8,260.3 L40.3,260.1 L40.9,259.8 L41.4,259.6 L41.9,259.3 L42.4,259 L42.9,258.6 L43.4,258.1 L44,257.3 L44.5,256.3 L45,254.9 L45.5,252.7 L46,249.5 L46.6,244.9 L47.1,238.2 L47.6,228.9 L48.1,216.1 L48.6,199.2 L49.1,177.4 L49.7,171 L50.2,171 L50.7,171 L51.2,171 L51.7,171 L52.3,171 L52.8,171 L53.3,171 L53.8,171 L54.3,171 L54.8,171 L55.4,171 L55.9,171 L56.4,171 L56.9,171 L57.4,171 L58,171 L58.5,171 L59,171 L59.5,171 L60,171 L60.5,171 L61.1,184 L61.6,199.2 L62.1,210.3 L62.6,218 L63.1,223.2 L63.7,226.5 L64.2,228.6 L64.7,229.8 L65.2,230.6 L65.7,231.2 L66.2,231.7 L66.8,232.3 L67.3,233 L67.8,233.8 L68.3,234.7 L68.8,235.8 L69.4,236.9 L69.9,238.1 L70.4,239.3 L70.9,240.5 L71.4,241.7 L71.9,242.9 L72.5,244 L73,245.1 L73.5,246.2 L74,247.1 L74.5,248.1 L75.1,249 L75.6,249.8 L76.1,250.5 L76.6,251.3 L77.1,252 L77.6,252.6 L78.2,253.2 L78.7,253.7 L79.2,254.2 L79.7,254.7 L80.2,255.1 L80.8,255.6 L81.3,255.9 L81.8,256.3 L82.3,256.6 L82.8,256.9 L83.3,257.1 L83.9,257.4 L84.4,257.6 L84.9,257.8 L85.4,258 L85.9,258.2 L86.4,258.4 L87,258.5 L87.5,258.7 L88,258.9 L88.5,259 L89,259.2 L89.6,259.3 L90.1,259.5 L90.6,259.6 L91.1,259.8 L91.6,259.9 L92.1,260.1 L92.7,260.2 L93.2,260.3 L93.7,260.5 L94.2,260.6 L94.7,260.7 L95.3,260.8 L95.8,261 L96.3,261.1 L96.8,261.2 L97.3,261.3 L97.8,261.4 L98.4,261.5 L98.9,261.6 L99.4,261.7 L99.9,261.8 L100.4,261.9 L101,261.9 L101.5,262 L102,262.1 L102.5,262.1 L103,262.2 L103.5,262.3 L104.1,262.3 L104.6,262.4 L105.1,262.4 L105.6,262.5 L106.1,262.5 L106.7,262.6 L107.2,262.6 L107.7,262.6 L108.2,262.7 L108.7,262.7 L109.2,262.7 L109.8,262.8 L110.3,262.8 L110.8,262.8 L111.3,262.8 L111.8,262.8 L112.4,262.9 L112.9,262.9 L113.4,262.9 L113.9,262.9 L114.4,262.9 L114.9,262.9 L115.5,262.9" fill="none" stroke="#ea1a20" stroke-width="1.2" stroke-linejoin="round"/><path d="M37.7,260.3h0M39.6,259.8h0M41.5,259.5h0M43.4,257.8h0M45.3,253.5h0M47.2,235.4h0M62.4,216.4h0M64.3,229h0M66.2,231.7h0M68.1,234.3h0M70,238.4h0M71.9,242.8h0M73.8,247h0M75.7,250.5h0M77.6,252.4h0M79.5,254.8h0M81.4,255.7h0M83.3,256.8h0M85.2,257.7h0M87.1,258.4h0M89,258.5h0M90.9,259.9h0M92.8,259.9h0M94.7,261.1h0M96.6,261.1h0M98.5,261.5h0M100.4,261.6h0M102.3,261.9h0M104.2,261.6h0M106.1,262.8h0M108,262.4h0M109.9,263.1h0M111.8,262.6h0M113.7,262.7h0M115.6,262.5h0" stroke="#1a0000" stroke-width="1.85" stroke-linecap="round" fill="none"/></g>
<rect x="37.5" y="189" width="77.7" height="74.2" fill="none" stroke="#000" stroke-width="1.25"/>
<path d="M37.5,245.9h3M37.5,228.6h3M37.5,211.3h3M37.5,194h3M54.5,263.2v-2.3M71.8,263.2v-2.3M89,263.2v-2.3M106.3,263.2v-2.3" stroke="#000" stroke-width="1"/>
<text x="110.9" y="198.7" font-size="8.5" class="t" text-anchor="end">(0.47, 0)</text>
<text x="39.5" y="198.7" font-size="8.5" class="t">(<tspan font-style="italic">h</tspan>, 0)</text>
<text x="112.9" y="212.7" font-size="8.7" class="t" text-anchor="end">PrNiO<tspan font-size="5.9" dy="2.3">2</tspan><tspan dy="-2.3">/LSAT</tspan></text>
<text x="35.9" y="266.1" font-size="8.2" class="t" text-anchor="end">0</text>
<text x="35.9" y="248.8" font-size="8.2" class="t" text-anchor="end">0.5</text>
<text x="35.9" y="231.5" font-size="8.2" class="t" text-anchor="end">1</text>
<text x="35.9" y="214.2" font-size="8.2" class="t" text-anchor="end">1.5</text>
<text x="35.9" y="196.9" font-size="8.2" class="t" text-anchor="end">2</text>
<g clip-path="url(#c21)"><path d="M118.5,263.2L118.5,260.9L119,260.8L119.5,260.6L120,260.5L120.5,260.3L121.1,260.1L121.6,259.9L122.1,259.7L122.6,259.4L123.1,259L123.7,258.5L124.2,257.9L124.7,257L125.2,255.7L125.7,253.8L126.2,251.1L126.8,247.2L127.3,241.8L127.8,234.1L128.3,223.8L128.8,210.1L129.4,192.4L129.9,188.3L130.4,188.3L130.9,188.3L131.4,188.3L131.9,188.3L132.5,188.3L133,188.3L133.5,188.3L134,188.3L134.5,188.3L135,188.3L135.6,188.3L136.1,188.3L136.6,188.3L137.1,188.3L137.6,188.3L138.2,188.3L138.7,188.3L139.2,188.3L139.7,188.3L140.2,188.3L140.7,188.3L141.3,188.3L141.8,188.3L142.3,198.8L142.8,215.1L143.3,227.6L143.9,237L144.4,243.8L144.9,248.7L145.4,252.1L145.9,254.5L146.4,256.1L147,257.3L147.5,258.1L148,258.7L148.5,259.1L149,259.5L149.6,259.7L150.1,260L150.6,260.2L151.1,260.4L151.6,260.5L152.1,260.7L152.7,260.8L153.2,261L153.7,261.1L154.2,261.2L154.7,261.3L155.3,261.4L155.8,261.5L156.3,261.5L156.8,261.6L157.3,261.7L157.8,261.8L158.4,261.8L158.9,261.9L159.4,261.9L159.9,262L160.4,262L161,262.1L161.5,262.1L162,262.2L162.5,262.2L163,262.2L163.5,262.3L164.1,262.3L164.6,262.3L165.1,262.4L165.6,262.4L166.1,262.4L166.7,262.4L167.2,262.5L167.7,262.5L168.2,262.5L168.7,262.5L169.2,262.6L169.8,262.6L170.3,262.6L170.8,262.6L171.3,262.6L171.8,262.6L172.4,262.7L172.9,262.7L173.4,262.7L173.9,262.7L174.4,262.7L174.9,262.7L175.5,262.7L176,262.7L176.5,262.8L177,262.8L177.5,262.8L178.1,262.8L178.6,262.8L179.1,262.8L179.6,262.8L180.1,262.8L180.6,262.8L181.2,262.8L181.7,262.9L182.2,262.9L182.7,262.9L183.2,262.9L183.8,262.9L184.3,262.9L184.8,262.9L185.3,262.9L185.8,262.9L186.3,262.9L186.9,262.9L187.4,262.9L187.9,262.9L188.4,262.9L188.9,262.9L189.4,262.9L190,262.9L190.5,263L191,263L191.5,263L192,263L192.6,263L193.1,263L193.6,263L194.1,263L194.6,263L195.1,263L195.7,263L196.2,263L196.7,263L196.7,263.2Z" fill="url(#gE)"/><path d="M133,263.2L133,263L133.5,263L134,262.9L134.5,262.8L135,262.6L135.6,262.4L136.1,262.1L136.6,261.7L137.1,261.3L137.6,260.8L138.2,260.1L138.7,259.3L139.2,258.4L139.7,257.4L140.2,256.2L140.7,254.9L141.3,253.5L141.8,252L142.3,250.4L142.8,248.8L143.3,247.2L143.9,245.7L144.4,244.3L144.9,243L145.4,242L145.9,241.2L146.4,240.6L147,240.4L147.5,240.4L148,240.8L148.5,241.4L149,242.3L149.6,243.4L150.1,244.8L150.6,246.2L151.1,247.8L151.6,249.3L152.1,250.9L152.7,252.5L153.2,254L153.7,255.4L154.2,256.6L154.7,257.7L155.3,258.7L155.8,259.6L156.3,260.3L156.8,261L157.3,261.5L157.8,261.9L158.4,262.2L158.9,262.5L159.4,262.7L159.9,262.8L160.4,262.9L161,263L161.5,263.1L161.5,263.2Z" fill="url(#gP)"/><path d="M135,263.2L135,263.1L135.6,263L136.1,263L136.6,262.9L137.1,262.8L137.6,262.8L138.2,262.7L138.7,262.6L139.2,262.4L139.7,262.3L140.2,262.2L140.7,262L141.3,261.9L141.8,261.7L142.3,261.5L142.8,261.3L143.3,261.2L143.9,261L144.4,260.8L144.9,260.6L145.4,260.4L145.9,260.2L146.4,260L147,259.8L147.5,259.6L148,259.4L148.5,259.2L149,259L149.6,258.8L150.1,258.6L150.6,258.4L151.1,258.2L151.6,258.1L152.1,257.9L152.7,257.7L153.2,257.6L153.7,257.5L154.2,257.3L154.7,257.2L155.3,257.1L155.8,257L156.3,256.9L156.8,256.8L157.3,256.8L157.8,256.7L158.4,256.7L158.9,256.6L159.4,256.6L159.9,256.6L160.4,256.6L161,256.7L161.5,256.7L162,256.7L162.5,256.8L163,256.9L163.5,256.9L164.1,257L164.6,257.1L165.1,257.2L165.6,257.3L166.1,257.4L166.7,257.6L167.2,257.7L167.7,257.8L168.2,258L168.7,258.1L169.2,258.3L169.8,258.4L170.3,258.6L170.8,258.7L171.3,258.9L171.8,259L172.4,259.2L172.9,259.4L173.4,259.5L173.9,259.7L174.4,259.8L174.9,260L175.5,260.2L176,260.3L176.5,260.5L177,260.6L177.5,260.7L178.1,260.9L178.6,261L179.1,261.1L179.6,261.3L180.1,261.4L180.6,261.5L181.2,261.6L181.7,261.7L182.2,261.8L182.7,261.9L183.2,262L183.8,262.1L184.3,262.2L184.8,262.2L185.3,262.3L185.8,262.4L186.3,262.5L186.9,262.5L187.4,262.6L187.9,262.6L188.4,262.7L188.9,262.7L189.4,262.8L190,262.8L190.5,262.8L191,262.9L191.5,262.9L192,262.9L192.6,263L193.1,263L193.6,263L194.1,263L194.6,263L194.6,263.2Z" fill="url(#gM)"/><path d="M118.5,260.9 L119,260.8 L119.5,260.6 L120,260.5 L120.5,260.3 L121.1,260.1 L121.6,259.9 L122.1,259.7 L122.6,259.4 L123.1,259 L123.7,258.5 L124.2,257.9 L124.7,257 L125.2,255.7 L125.7,253.8 L126.2,251.1 L126.8,247.2 L127.3,241.8 L127.8,234.1 L128.3,223.8 L128.8,210.1 L129.4,192.4 L129.9,171 L130.4,171 L130.9,171 L131.4,171 L131.9,171 L132.5,171 L133,171 L133.5,171 L134,171 L134.5,171 L135,171 L135.6,171 L136.1,171 L136.6,171 L137.1,171 L137.6,171 L138.2,171 L138.7,171 L139.2,171 L139.7,171 L140.2,171 L140.7,171 L141.3,171 L141.8,171 L142.3,183.5 L142.8,197.8 L143.3,208.4 L143.9,215.8 L144.4,220.7 L144.9,223.9 L145.4,225.7 L145.9,226.7 L146.4,227.2 L147,227.5 L147.5,227.8 L148,228.1 L148.5,228.5 L149,229.2 L149.6,230 L150.1,231 L150.6,232.2 L151.1,233.5 L151.6,234.9 L152.1,236.3 L152.7,237.8 L153.2,239.2 L153.7,240.6 L154.2,242 L154.7,243.3 L155.3,244.5 L155.8,245.7 L156.3,246.7 L156.8,247.7 L157.3,248.6 L157.8,249.5 L158.4,250.2 L158.9,250.9 L159.4,251.6 L159.9,252.2 L160.4,252.7 L161,253.2 L161.5,253.6 L162,254.1 L162.5,254.4 L163,254.8 L163.5,255.1 L164.1,255.4 L164.6,255.7 L165.1,255.9 L165.6,256.1 L166.1,256.4 L166.7,256.6 L167.2,256.8 L167.7,257 L168.2,257.2 L168.7,257.4 L169.2,257.6 L169.8,257.7 L170.3,257.9 L170.8,258.1 L171.3,258.3 L171.8,258.5 L172.4,258.7 L172.9,258.8 L173.4,259 L173.9,259.2 L174.4,259.4 L174.9,259.5 L175.5,259.7 L176,259.9 L176.5,260 L177,260.2 L177.5,260.3 L178.1,260.5 L178.6,260.6 L179.1,260.7 L179.6,260.9 L180.1,261 L180.6,261.1 L181.2,261.2 L181.7,261.4 L182.2,261.5 L182.7,261.6 L183.2,261.7 L183.8,261.8 L184.3,261.9 L184.8,261.9 L185.3,262 L185.8,262.1 L186.3,262.2 L186.9,262.2 L187.4,262.3 L187.9,262.4 L188.4,262.4 L188.9,262.5 L189.4,262.5 L190,262.6 L190.5,262.6 L191,262.6 L191.5,262.7 L192,262.7 L192.6,262.7 L193.1,262.8 L193.6,262.8 L194.1,262.8 L194.6,262.8 L195.1,262.9 L195.7,262.9 L196.2,262.9 L196.7,262.9" fill="none" stroke="#ea1a20" stroke-width="1.2" stroke-linejoin="round"/><path d="M119,260.1h0M120.9,260h0M122.8,259.4h0M124.7,256.8h0M126.6,248.7h0M128.5,219.6h0M143.7,214h0M145.6,226.5h0M147.5,228h0M149.4,229.4h0M151.3,234.2h0M153.2,238.6h0M155.1,244.1h0M157,247.9h0M158.9,251.2h0M160.8,253.4h0M162.7,254.6h0M164.6,255.8h0M166.5,256.6h0M168.4,257.6h0M170.3,258.6h0M172.2,258.7h0M174.1,259h0M176,260.4h0M177.9,260.3h0M179.8,260.8h0M181.7,261.7h0M183.6,261.9h0M185.5,262h0M187.4,262h0M189.3,262.9h0M191.2,262.9h0M193.1,262.6h0M195,263h0M196.9,262.9h0" stroke="#1a0000" stroke-width="1.85" stroke-linecap="round" fill="none"/></g>
<rect x="118.7" y="189" width="77.7" height="74.2" fill="none" stroke="#000" stroke-width="1.25"/>
<path d="M118.7,245.9h3M118.7,228.6h3M118.7,211.3h3M118.7,194h3M135.7,263.2v-2.3M153,263.2v-2.3M170.3,263.2v-2.3M187.6,263.2v-2.3" stroke="#000" stroke-width="1"/>
<text x="192.1" y="198.7" font-size="8.5" class="t" text-anchor="end">(0.44, 0)</text>
<g clip-path="url(#c22)"><path d="M199.7,263.2L199.7,261L200.2,260.9L200.7,260.7L201.3,260.6L201.8,260.4L202.3,260.2L202.8,260L203.3,259.8L203.9,259.5L204.4,259.1L204.9,258.6L205.4,258L205.9,257L206.4,255.7L207,253.9L207.5,251.2L208,247.4L208.5,242.1L209,234.8L209.6,224.9L210.1,212L210.6,195.4L211.1,188.3L211.6,188.3L212.1,188.3L212.7,188.3L213.2,188.3L213.7,188.3L214.2,188.3L214.7,188.3L215.3,188.3L215.8,188.3L216.3,188.3L216.8,188.3L217.3,188.3L217.8,188.3L218.4,188.3L218.9,188.3L219.4,188.3L219.9,188.3L220.4,188.3L221,188.3L221.5,188.3L222,188.3L222.5,188.3L223,188.3L223.5,188.3L224.1,197.9L224.6,213.9L225.1,226.4L225.6,235.9L226.1,242.9L226.7,248L227.2,251.6L227.7,254.1L228.2,255.9L228.7,257.2L229.2,258.1L229.8,258.7L230.3,259.2L230.8,259.5L231.3,259.8L231.8,260L232.4,260.3L232.9,260.4L233.4,260.6L233.9,260.7L234.4,260.9L234.9,261L235.5,261.1L236,261.2L236.5,261.3L237,261.4L237.5,261.5L238,261.6L238.6,261.7L239.1,261.7L239.6,261.8L240.1,261.8L240.6,261.9L241.2,262L241.7,262L242.2,262.1L242.7,262.1L243.2,262.1L243.7,262.2L244.3,262.2L244.8,262.3L245.3,262.3L245.8,262.3L246.3,262.3L246.9,262.4L247.4,262.4L247.9,262.4L248.4,262.5L248.9,262.5L249.4,262.5L250,262.5L250.5,262.5L251,262.6L251.5,262.6L252,262.6L252.6,262.6L253.1,262.6L253.6,262.6L254.1,262.7L254.6,262.7L255.1,262.7L255.7,262.7L256.2,262.7L256.7,262.7L257.2,262.7L257.7,262.8L258.3,262.8L258.8,262.8L259.3,262.8L259.8,262.8L260.3,262.8L260.8,262.8L261.4,262.8L261.9,262.8L262.4,262.8L262.9,262.8L263.4,262.9L264,262.9L264.5,262.9L265,262.9L265.5,262.9L266,262.9L266.5,262.9L267.1,262.9L267.6,262.9L268.1,262.9L268.6,262.9L269.1,262.9L269.7,262.9L270.2,262.9L270.7,262.9L271.2,262.9L271.7,263L272.2,263L272.8,263L273.3,263L273.8,263L274.3,263L274.8,263L275.4,263L275.9,263L276.4,263L276.9,263L277.4,263L277.9,263L277.9,263.2Z" fill="url(#gE)"/><path d="M214.2,263.2L214.2,263L214.7,263L215.3,262.9L215.8,262.8L216.3,262.6L216.8,262.4L217.3,262.1L217.8,261.7L218.4,261.3L218.9,260.7L219.4,260L219.9,259.2L220.4,258.3L221,257.2L221.5,255.9L222,254.5L222.5,253L223,251.4L223.5,249.6L224.1,247.9L224.6,246.1L225.1,244.4L225.6,242.8L226.1,241.4L226.7,240.1L227.2,239.1L227.7,238.4L228.2,238L228.7,238L229.2,238.2L229.8,238.8L230.3,239.7L230.8,240.9L231.3,242.3L231.8,243.9L232.4,245.5L232.9,247.3L233.4,249.1L233.9,250.8L234.4,252.5L234.9,254L235.5,255.5L236,256.8L236.5,257.9L237,258.9L237.5,259.8L238,260.5L238.6,261.1L239.1,261.6L239.6,262L240.1,262.3L240.6,262.5L241.2,262.7L241.7,262.8L242.2,263L242.7,263L242.7,263.2Z" fill="url(#gP)"/><path d="M216.3,263.2L216.3,263L216.8,263L217.3,262.9L217.8,262.9L218.4,262.8L218.9,262.7L219.4,262.6L219.9,262.5L220.4,262.3L221,262.2L221.5,262L222,261.9L222.5,261.7L223,261.5L223.5,261.3L224.1,261.1L224.6,260.9L225.1,260.7L225.6,260.5L226.1,260.3L226.7,260.1L227.2,259.9L227.7,259.7L228.2,259.5L228.7,259.3L229.2,259.1L229.8,258.9L230.3,258.8L230.8,258.6L231.3,258.4L231.8,258.2L232.4,258.1L232.9,257.9L233.4,257.8L233.9,257.7L234.4,257.6L234.9,257.5L235.5,257.4L236,257.3L236.5,257.2L237,257.1L237.5,257.1L238,257L238.6,257L239.1,257L239.6,257L240.1,257L240.6,257L241.2,257L241.7,257.1L242.2,257.1L242.7,257.2L243.2,257.2L243.7,257.3L244.3,257.4L244.8,257.5L245.3,257.6L245.8,257.7L246.3,257.8L246.9,257.9L247.4,258.1L247.9,258.2L248.4,258.3L248.9,258.5L249.4,258.6L250,258.8L250.5,258.9L251,259.1L251.5,259.2L252,259.4L252.6,259.5L253.1,259.7L253.6,259.8L254.1,260L254.6,260.1L255.1,260.3L255.7,260.4L256.2,260.5L256.7,260.7L257.2,260.8L257.7,261L258.3,261.1L258.8,261.2L259.3,261.3L259.8,261.4L260.3,261.5L260.8,261.7L261.4,261.8L261.9,261.9L262.4,261.9L262.9,262L263.4,262.1L264,262.2L264.5,262.3L265,262.3L265.5,262.4L266,262.5L266.5,262.5L267.1,262.6L267.6,262.6L268.1,262.7L268.6,262.7L269.1,262.8L269.7,262.8L270.2,262.8L270.7,262.9L271.2,262.9L271.7,262.9L272.2,263L272.8,263L273.3,263L273.8,263L274.3,263L274.3,263.2Z" fill="url(#gM)"/><path d="M199.7,261 L200.2,260.9 L200.7,260.7 L201.3,260.6 L201.8,260.4 L202.3,260.2 L202.8,260 L203.3,259.8 L203.9,259.5 L204.4,259.1 L204.9,258.6 L205.4,258 L205.9,257 L206.4,255.7 L207,253.9 L207.5,251.2 L208,247.4 L208.5,242.1 L209,234.8 L209.6,224.9 L210.1,212 L210.6,195.4 L211.1,174.7 L211.6,171 L212.1,171 L212.7,171 L213.2,171 L213.7,171 L214.2,171 L214.7,171 L215.3,171 L215.8,171 L216.3,171 L216.8,171 L217.3,171 L217.8,171 L218.4,171 L218.9,171 L219.4,171 L219.9,171 L220.4,171 L221,171 L221.5,171 L222,171 L222.5,171 L223,171 L223.5,171 L224.1,179.5 L224.6,193.4 L225.1,203.7 L225.6,211.1 L226.1,216.1 L226.7,219.4 L227.2,221.5 L227.7,222.8 L228.2,223.6 L228.7,224.1 L229.2,224.7 L229.8,225.3 L230.3,226.1 L230.8,227.1 L231.3,228.2 L231.8,229.5 L232.4,231 L232.9,232.6 L233.4,234.2 L233.9,235.9 L234.4,237.6 L234.9,239.2 L235.5,240.8 L236,242.3 L236.5,243.7 L237,245.1 L237.5,246.3 L238,247.4 L238.6,248.5 L239.1,249.4 L239.6,250.3 L240.1,251.1 L240.6,251.8 L241.2,252.4 L241.7,253 L242.2,253.6 L242.7,254.1 L243.2,254.5 L243.7,254.9 L244.3,255.3 L244.8,255.6 L245.3,255.9 L245.8,256.2 L246.3,256.5 L246.9,256.7 L247.4,257 L247.9,257.2 L248.4,257.4 L248.9,257.6 L249.4,257.8 L250,258 L250.5,258.2 L251,258.4 L251.5,258.6 L252,258.7 L252.6,258.9 L253.1,259.1 L253.6,259.3 L254.1,259.4 L254.6,259.6 L255.1,259.8 L255.7,259.9 L256.2,260.1 L256.7,260.2 L257.2,260.4 L257.7,260.5 L258.3,260.6 L258.8,260.8 L259.3,260.9 L259.8,261 L260.3,261.2 L260.8,261.3 L261.4,261.4 L261.9,261.5 L262.4,261.6 L262.9,261.7 L263.4,261.8 L264,261.9 L264.5,261.9 L265,262 L265.5,262.1 L266,262.2 L266.5,262.2 L267.1,262.3 L267.6,262.3 L268.1,262.4 L268.6,262.4 L269.1,262.5 L269.7,262.5 L270.2,262.6 L270.7,262.6 L271.2,262.7 L271.7,262.7 L272.2,262.7 L272.8,262.7 L273.3,262.8 L273.8,262.8 L274.3,262.8 L274.8,262.8 L275.4,262.9 L275.9,262.9 L276.4,262.9 L276.9,262.9 L277.4,262.9 L277.9,262.9" fill="none" stroke="#ea1a20" stroke-width="1.2" stroke-linejoin="round"/><path d="M200.2,260.9h0M202.1,260.5h0M204,259.6h0M205.9,257.1h0M207.8,248.9h0M209.7,220.6h0M224.9,201.5h0M226.8,220.4h0M228.7,224.3h0M230.6,227.2h0M232.5,231.8h0M234.4,237.7h0M236.3,243.2h0M238.2,248.1h0M240.1,251.6h0M242,253.8h0M243.9,254h0M245.8,256.1h0M247.7,256.8h0M249.6,258.3h0M251.5,258.5h0M253.4,259.7h0M255.3,260.1h0M257.2,259.5h0M259.1,260.6h0M261,262.2h0M262.9,261.6h0M264.8,261.9h0M266.7,262.1h0M268.6,263h0M270.5,262.2h0M272.4,262.9h0M274.3,262.1h0M276.2,262.6h0M278.1,262.5h0" stroke="#1a0000" stroke-width="1.85" stroke-linecap="round" fill="none"/></g>
<rect x="200" y="189" width="77.7" height="74.2" fill="none" stroke="#000" stroke-width="1.25"/>
<path d="M200,245.9h3M200,228.6h3M200,211.3h3M200,194h3M217,263.2v-2.3M234.2,263.2v-2.3M251.5,263.2v-2.3M268.8,263.2v-2.3" stroke="#000" stroke-width="1"/>
<text x="273.4" y="198.7" font-size="8.5" class="t" text-anchor="end">(0.4, 0)</text>
<g clip-path="url(#c23)"><path d="M280.9,263.2L280.9,261L281.5,260.8L282,260.7L282.5,260.6L283,260.4L283.5,260.2L284.1,259.9L284.6,259.6L285.1,259.3L285.6,258.8L286.1,258.1L286.6,257.2L287.2,256L287.7,254.2L288.2,251.6L288.7,248L289.2,243.1L289.8,236.4L290.3,227.5L290.8,215.8L291.3,200.9L291.8,188.3L292.3,188.3L292.9,188.3L293.4,188.3L293.9,188.3L294.4,188.3L294.9,188.3L295.5,188.3L296,188.3L296.5,188.3L297,188.3L297.5,188.3L298,188.3L298.6,188.3L299.1,188.3L299.6,188.3L300.1,188.3L300.6,188.3L301.2,188.3L301.7,188.3L302.2,188.3L302.7,188.3L303.2,188.3L303.7,188.3L304.3,188.3L304.8,188.3L305.3,189L305.8,206.3L306.3,220L306.9,230.7L307.4,238.9L307.9,244.9L308.4,249.4L308.9,252.6L309.4,254.8L310,256.4L310.5,257.6L311,258.4L311.5,259L312,259.4L312.6,259.8L313.1,260L313.6,260.2L314.1,260.4L314.6,260.6L315.1,260.8L315.7,260.9L316.2,261L316.7,261.1L317.2,261.2L317.7,261.3L318.3,261.4L318.8,261.5L319.3,261.6L319.8,261.7L320.3,261.7L320.8,261.8L321.4,261.9L321.9,261.9L322.4,262L322.9,262L323.4,262.1L324,262.1L324.5,262.1L325,262.2L325.5,262.2L326,262.3L326.5,262.3L327.1,262.3L327.6,262.3L328.1,262.4L328.6,262.4L329.1,262.4L329.7,262.5L330.2,262.5L330.7,262.5L331.2,262.5L331.7,262.5L332.2,262.6L332.8,262.6L333.3,262.6L333.8,262.6L334.3,262.6L334.8,262.6L335.4,262.7L335.9,262.7L336.4,262.7L336.9,262.7L337.4,262.7L337.9,262.7L338.5,262.7L339,262.8L339.5,262.8L340,262.8L340.5,262.8L341,262.8L341.6,262.8L342.1,262.8L342.6,262.8L343.1,262.8L343.6,262.8L344.2,262.8L344.7,262.9L345.2,262.9L345.7,262.9L346.2,262.9L346.7,262.9L347.3,262.9L347.8,262.9L348.3,262.9L348.8,262.9L349.3,262.9L349.9,262.9L350.4,262.9L350.9,262.9L351.4,262.9L351.9,262.9L352.4,262.9L353,263L353.5,263L354,263L354.5,263L355,263L355.6,263L356.1,263L356.6,263L357.1,263L357.6,263L358.1,263L358.7,263L359.2,263L359.2,263.2Z" fill="url(#gE)"/><path d="M294.9,263.2L294.9,263.1L295.5,263L296,262.9L296.5,262.8L297,262.6L297.5,262.4L298,262.2L298.6,261.8L299.1,261.4L299.6,260.9L300.1,260.2L300.6,259.4L301.2,258.5L301.7,257.4L302.2,256.2L302.7,254.8L303.2,253.2L303.7,251.6L304.3,249.9L304.8,248.1L305.3,246.3L305.8,244.5L306.3,242.8L306.9,241.2L307.4,239.9L307.9,238.8L308.4,237.9L308.9,237.4L309.4,237.2L310,237.4L310.5,237.9L311,238.8L311.5,239.9L312,241.2L312.6,242.8L313.1,244.5L313.6,246.3L314.1,248.1L314.6,249.9L315.1,251.6L315.7,253.2L316.2,254.8L316.7,256.2L317.2,257.4L317.7,258.5L318.3,259.4L318.8,260.2L319.3,260.9L319.8,261.4L320.3,261.8L320.8,262.2L321.4,262.4L321.9,262.6L322.4,262.8L322.9,262.9L323.4,263L324,263.1L324,263.2Z" fill="url(#gP)"/><path d="M297,263.2L297,263.1L297.5,263L298,263L298.6,262.9L299.1,262.8L299.6,262.7L300.1,262.6L300.6,262.5L301.2,262.4L301.7,262.3L302.2,262.1L302.7,261.9L303.2,261.8L303.7,261.6L304.3,261.4L304.8,261.2L305.3,260.9L305.8,260.7L306.3,260.5L306.9,260.3L307.4,260.1L307.9,259.8L308.4,259.6L308.9,259.4L309.4,259.2L310,258.9L310.5,258.7L311,258.5L311.5,258.3L312,258.1L312.6,257.9L313.1,257.8L313.6,257.6L314.1,257.4L314.6,257.3L315.1,257.1L315.7,257L316.2,256.9L316.7,256.7L317.2,256.6L317.7,256.5L318.3,256.5L318.8,256.4L319.3,256.4L319.8,256.3L320.3,256.3L320.8,256.3L321.4,256.3L321.9,256.3L322.4,256.3L322.9,256.4L323.4,256.4L324,256.5L324.5,256.5L325,256.6L325.5,256.7L326,256.8L326.5,256.9L327.1,257L327.6,257.2L328.1,257.3L328.6,257.4L329.1,257.6L329.7,257.7L330.2,257.9L330.7,258.1L331.2,258.2L331.7,258.4L332.2,258.5L332.8,258.7L333.3,258.9L333.8,259.1L334.3,259.2L334.8,259.4L335.4,259.6L335.9,259.7L336.4,259.9L336.9,260L337.4,260.2L337.9,260.4L338.5,260.5L339,260.7L339.5,260.8L340,260.9L340.5,261.1L341,261.2L341.6,261.3L342.1,261.4L342.6,261.6L343.1,261.7L343.6,261.8L344.2,261.9L344.7,262L345.2,262.1L345.7,262.1L346.2,262.2L346.7,262.3L347.3,262.4L347.8,262.4L348.3,262.5L348.8,262.6L349.3,262.6L349.9,262.7L350.4,262.7L350.9,262.8L351.4,262.8L351.9,262.8L352.4,262.9L353,262.9L353.5,262.9L354,263L354.5,263L355,263L355.6,263L356.1,263L356.6,263.1L356.6,263.2Z" fill="url(#gM)"/><path d="M280.9,261 L281.5,260.8 L282,260.7 L282.5,260.6 L283,260.4 L283.5,260.2 L284.1,259.9 L284.6,259.6 L285.1,259.3 L285.6,258.8 L286.1,258.1 L286.6,257.2 L287.2,256 L287.7,254.2 L288.2,251.6 L288.7,248 L289.2,243.1 L289.8,236.4 L290.3,227.5 L290.8,215.8 L291.3,200.9 L291.8,182.4 L292.3,171 L292.9,171 L293.4,171 L293.9,171 L294.4,171 L294.9,171 L295.5,171 L296,171 L296.5,171 L297,171 L297.5,171 L298,171 L298.6,171 L299.1,171 L299.6,171 L300.1,171 L300.6,171 L301.2,171 L301.7,171 L302.2,171 L302.7,171 L303.2,171 L303.7,171 L304.3,171 L304.8,171 L305.3,171 L305.8,183.9 L306.3,195.5 L306.9,204.1 L307.4,210.4 L307.9,214.8 L308.4,217.8 L308.9,219.9 L309.4,221.3 L310,222.5 L310.5,223.5 L311,224.5 L311.5,225.6 L312,226.8 L312.6,228.2 L313.1,229.6 L313.6,231.2 L314.1,232.8 L314.6,234.5 L315.1,236.2 L315.7,237.8 L316.2,239.4 L316.7,240.9 L317.2,242.3 L317.7,243.7 L318.3,244.9 L318.8,246 L319.3,247.1 L319.8,248.1 L320.3,249 L320.8,249.8 L321.4,250.5 L321.9,251.2 L322.4,251.8 L322.9,252.4 L323.4,252.9 L324,253.4 L324.5,253.8 L325,254.3 L325.5,254.6 L326,255 L326.5,255.3 L327.1,255.6 L327.6,255.9 L328.1,256.1 L328.6,256.4 L329.1,256.6 L329.7,256.8 L330.2,257 L330.7,257.3 L331.2,257.5 L331.7,257.7 L332.2,257.9 L332.8,258.1 L333.3,258.3 L333.8,258.5 L334.3,258.6 L334.8,258.8 L335.4,259 L335.9,259.2 L336.4,259.4 L336.9,259.5 L337.4,259.7 L337.9,259.9 L338.5,260.1 L339,260.2 L339.5,260.4 L340,260.5 L340.5,260.7 L341,260.8 L341.6,260.9 L342.1,261.1 L342.6,261.2 L343.1,261.3 L343.6,261.4 L344.2,261.5 L344.7,261.6 L345.2,261.7 L345.7,261.8 L346.2,261.9 L346.7,262 L347.3,262.1 L347.8,262.1 L348.3,262.2 L348.8,262.3 L349.3,262.3 L349.9,262.4 L350.4,262.4 L350.9,262.5 L351.4,262.5 L351.9,262.6 L352.4,262.6 L353,262.6 L353.5,262.7 L354,262.7 L354.5,262.7 L355,262.8 L355.6,262.8 L356.1,262.8 L356.6,262.8 L357.1,262.9 L357.6,262.9 L358.1,262.9 L358.7,262.9 L359.2,262.9" fill="none" stroke="#ea1a20" stroke-width="1.2" stroke-linejoin="round"/><path d="M281.5,260.8h0M283.4,260.7h0M285.3,259.4h0M287.2,255.7h0M289.1,244.7h0M291,211.3h0M306.2,191.9h0M308.1,215.7h0M310,222.5h0M311.9,226h0M313.8,231.5h0M315.7,238.3h0M317.6,243.1h0M319.5,247.4h0M321.4,250.7h0M323.3,251.9h0M325.2,255.1h0M327.1,255.8h0M329,257.3h0M330.9,257.9h0M332.8,258.2h0M334.7,258.9h0M336.6,259.2h0M338.5,260.4h0M340.4,260.2h0M342.3,261.2h0M344.2,261.3h0M346.1,261.9h0M348,261.9h0M349.9,262.7h0M351.8,262.5h0M353.7,262.5h0M355.6,263.2h0M357.5,262.6h0M359.4,262.9h0" stroke="#1a0000" stroke-width="1.85" stroke-linecap="round" fill="none"/></g>
<rect x="281.2" y="189" width="77.7" height="74.2" fill="none" stroke="#000" stroke-width="1.25"/>
<path d="M281.2,245.9h3M281.2,228.6h3M281.2,211.3h3M281.2,194h3M298.2,263.2v-2.3M315.5,263.2v-2.3M332.8,263.2v-2.3M350,263.2v-2.3" stroke="#000" stroke-width="1"/>
<text x="354.6" y="198.7" font-size="8.5" class="t" text-anchor="end">(0.36, 0)</text>
<g clip-path="url(#c24)"><path d="M362.2,263.2L362.2,260.9L362.7,260.8L363.2,260.7L363.7,260.5L364.3,260.3L364.8,260.1L365.3,259.9L365.8,259.5L366.3,259.1L366.9,258.6L367.4,257.8L367.9,256.8L368.4,255.3L368.9,253.2L369.4,250.3L370,246.3L370.5,240.7L371,233.2L371.5,223.4L372,210.6L372.6,194.5L373.1,188.3L373.6,188.3L374.1,188.3L374.6,188.3L375.1,188.3L375.7,188.3L376.2,188.3L376.7,188.3L377.2,188.3L377.7,188.3L378.3,188.3L378.8,188.3L379.3,188.3L379.8,188.3L380.3,188.3L380.8,188.3L381.4,188.3L381.9,188.3L382.4,188.3L382.9,188.3L383.4,188.3L384,188.3L384.5,188.3L385,188.3L385.5,188.3L386,188.3L386.5,192.1L387.1,208.7L387.6,221.8L388.1,232.1L388.6,239.8L389.1,245.6L389.6,249.8L390.2,252.9L390.7,255.1L391.2,256.6L391.7,257.7L392.2,258.5L392.8,259.1L393.3,259.5L393.8,259.8L394.3,260.1L394.8,260.3L395.3,260.5L395.9,260.6L396.4,260.8L396.9,260.9L397.4,261L397.9,261.2L398.5,261.3L399,261.4L399.5,261.4L400,261.5L400.5,261.6L401,261.7L401.6,261.7L402.1,261.8L402.6,261.9L403.1,261.9L403.6,262L404.2,262L404.7,262.1L405.2,262.1L405.7,262.2L406.2,262.2L406.7,262.2L407.3,262.3L407.8,262.3L408.3,262.3L408.8,262.4L409.3,262.4L409.9,262.4L410.4,262.4L410.9,262.5L411.4,262.5L411.9,262.5L412.4,262.5L413,262.5L413.5,262.6L414,262.6L414.5,262.6L415,262.6L415.6,262.6L416.1,262.7L416.6,262.7L417.1,262.7L417.6,262.7L418.1,262.7L418.7,262.7L419.2,262.7L419.7,262.7L420.2,262.8L420.7,262.8L421.3,262.8L421.8,262.8L422.3,262.8L422.8,262.8L423.3,262.8L423.8,262.8L424.4,262.8L424.9,262.8L425.4,262.9L425.9,262.9L426.4,262.9L427,262.9L427.5,262.9L428,262.9L428.5,262.9L429,262.9L429.5,262.9L430.1,262.9L430.6,262.9L431.1,262.9L431.6,262.9L432.1,262.9L432.7,262.9L433.2,262.9L433.7,262.9L434.2,263L434.7,263L435.2,263L435.8,263L436.3,263L436.8,263L437.3,263L437.8,263L438.4,263L438.9,263L439.4,263L439.9,263L440.4,263L440.4,263.2Z" fill="url(#gE)"/><path d="M376.2,263.2L376.2,263L376.7,263L377.2,262.9L377.7,262.7L378.3,262.5L378.8,262.3L379.3,262L379.8,261.6L380.3,261.1L380.8,260.5L381.4,259.7L381.9,258.8L382.4,257.8L382.9,256.6L383.4,255.2L384,253.7L384.5,252L385,250.2L385.5,248.3L386,246.4L386.5,244.5L387.1,242.6L387.6,240.8L388.1,239.3L388.6,237.9L389.1,236.8L389.6,236L390.2,235.6L390.7,235.5L391.2,235.8L391.7,236.5L392.2,237.5L392.8,238.8L393.3,240.3L393.8,242L394.3,243.8L394.8,245.8L395.3,247.7L395.9,249.6L396.4,251.4L396.9,253.1L397.4,254.7L397.9,256.1L398.5,257.4L399,258.5L399.5,259.5L400,260.2L400.5,260.9L401,261.4L401.6,261.9L402.1,262.2L402.6,262.5L403.1,262.7L403.6,262.8L404.2,262.9L404.7,263L404.7,263.2Z" fill="url(#gP)"/><path d="M378.3,263.2L378.3,263L378.8,263L379.3,262.9L379.8,262.9L380.3,262.8L380.8,262.7L381.4,262.6L381.9,262.5L382.4,262.3L382.9,262.2L383.4,262L384,261.8L384.5,261.6L385,261.4L385.5,261.2L386,261L386.5,260.8L387.1,260.5L387.6,260.3L388.1,260L388.6,259.8L389.1,259.5L389.6,259.3L390.2,259L390.7,258.8L391.2,258.5L391.7,258.3L392.2,258L392.8,257.8L393.3,257.6L393.8,257.4L394.3,257.1L394.8,256.9L395.3,256.7L395.9,256.5L396.4,256.4L396.9,256.2L397.4,256L397.9,255.9L398.5,255.8L399,255.7L399.5,255.6L400,255.5L400.5,255.4L401,255.3L401.6,255.3L402.1,255.3L402.6,255.2L403.1,255.2L403.6,255.3L404.2,255.3L404.7,255.3L405.2,255.4L405.7,255.5L406.2,255.5L406.7,255.6L407.3,255.7L407.8,255.9L408.3,256L408.8,256.1L409.3,256.3L409.9,256.4L410.4,256.6L410.9,256.7L411.4,256.9L411.9,257.1L412.4,257.3L413,257.5L413.5,257.7L414,257.8L414.5,258L415,258.2L415.6,258.4L416.1,258.6L416.6,258.8L417.1,259L417.6,259.2L418.1,259.4L418.7,259.6L419.2,259.8L419.7,259.9L420.2,260.1L420.7,260.3L421.3,260.4L421.8,260.6L422.3,260.8L422.8,260.9L423.3,261L423.8,261.2L424.4,261.3L424.9,261.4L425.4,261.6L425.9,261.7L426.4,261.8L427,261.9L427.5,262L428,262.1L428.5,262.2L429,262.2L429.5,262.3L430.1,262.4L430.6,262.5L431.1,262.5L431.6,262.6L432.1,262.6L432.7,262.7L433.2,262.7L433.7,262.8L434.2,262.8L434.7,262.9L435.2,262.9L435.8,262.9L436.3,262.9L436.8,263L437.3,263L437.8,263L438.4,263L438.9,263.1L438.9,263.2Z" fill="url(#gM)"/><path d="M362.2,260.9 L362.7,260.8 L363.2,260.7 L363.7,260.5 L364.3,260.3 L364.8,260.1 L365.3,259.9 L365.8,259.5 L366.3,259.1 L366.9,258.6 L367.4,257.8 L367.9,256.8 L368.4,255.3 L368.9,253.2 L369.4,250.3 L370,246.3 L370.5,240.7 L371,233.2 L371.5,223.4 L372,210.6 L372.6,194.5 L373.1,174.7 L373.6,171 L374.1,171 L374.6,171 L375.1,171 L375.7,171 L376.2,171 L376.7,171 L377.2,171 L377.7,171 L378.3,171 L378.8,171 L379.3,171 L379.8,171 L380.3,171 L380.8,171 L381.4,171 L381.9,171 L382.4,171 L382.9,171 L383.4,171 L384,171 L384.5,171 L385,171 L385.5,171 L386,171 L386.5,171 L387.1,184.2 L387.6,195.1 L388.1,203.2 L388.6,209.1 L389.1,213.2 L389.6,216 L390.2,218 L390.7,219.5 L391.2,220.7 L391.7,221.8 L392.2,222.9 L392.8,224.1 L393.3,225.4 L393.8,226.9 L394.3,228.5 L394.8,230.1 L395.3,231.8 L395.9,233.6 L396.4,235.3 L396.9,237 L397.4,238.6 L397.9,240.1 L398.5,241.5 L399,242.8 L399.5,244 L400,245.2 L400.5,246.2 L401,247.2 L401.6,248 L402.1,248.8 L402.6,249.5 L403.1,250.2 L403.6,250.8 L404.2,251.4 L404.7,251.9 L405.2,252.3 L405.7,252.8 L406.2,253.2 L406.7,253.6 L407.3,253.9 L407.8,254.2 L408.3,254.5 L408.8,254.8 L409.3,255.1 L409.9,255.3 L410.4,255.6 L410.9,255.8 L411.4,256.1 L411.9,256.3 L412.4,256.5 L413,256.8 L413.5,257 L414,257.2 L414.5,257.4 L415,257.6 L415.6,257.9 L416.1,258.1 L416.6,258.3 L417.1,258.5 L417.6,258.7 L418.1,258.9 L418.7,259.1 L419.2,259.3 L419.7,259.5 L420.2,259.7 L420.7,259.8 L421.3,260 L421.8,260.2 L422.3,260.3 L422.8,260.5 L423.3,260.7 L423.8,260.8 L424.4,260.9 L424.9,261.1 L425.4,261.2 L425.9,261.3 L426.4,261.4 L427,261.6 L427.5,261.7 L428,261.8 L428.5,261.9 L429,261.9 L429.5,262 L430.1,262.1 L430.6,262.2 L431.1,262.2 L431.6,262.3 L432.1,262.4 L432.7,262.4 L433.2,262.5 L433.7,262.5 L434.2,262.6 L434.7,262.6 L435.2,262.6 L435.8,262.7 L436.3,262.7 L436.8,262.7 L437.3,262.8 L437.8,262.8 L438.4,262.8 L438.9,262.8 L439.4,262.9 L439.9,262.9 L440.4,262.9" fill="none" stroke="#ea1a20" stroke-width="1.2" stroke-linejoin="round"/><path d="M362.7,260.9h0M364.6,261h0M366.5,258.8h0M368.4,256.2h0M370.3,243h0M372.2,205.6h0M387.4,191.3h0M389.3,214.4h0M391.2,220.6h0M393.1,224.9h0M395,231.2h0M396.9,237.3h0M398.8,242.6h0M400.7,246.5h0M402.6,249.2h0M404.5,251.7h0M406.4,253.2h0M408.3,254.4h0M410.2,256.8h0M412.1,256.6h0M414,256.6h0M415.9,258.1h0M417.8,259.4h0M419.7,259.8h0M421.6,259.9h0M423.5,260.8h0M425.4,260.8h0M427.3,261.7h0M429.2,262.1h0M431.1,261.9h0M433,262.3h0M434.9,262.3h0M436.8,262.4h0M438.7,262.5h0M440.6,262.8h0" stroke="#1a0000" stroke-width="1.85" stroke-linecap="round" fill="none"/></g>
<rect x="362.5" y="189" width="77.7" height="74.2" fill="none" stroke="#000" stroke-width="1.25"/>
<path d="M362.5,245.9h3M362.5,228.6h3M362.5,211.3h3M362.5,194h3M379.5,263.2v-2.3M396.7,263.2v-2.3M414,263.2v-2.3M431.3,263.2v-2.3" stroke="#000" stroke-width="1"/>
<text x="435.9" y="198.7" font-size="8.5" class="t" text-anchor="end">(0.31, 0)</text>
<g clip-path="url(#c25)"><path d="M443.4,263.2L443.4,260.9L443.9,260.8L444.5,260.7L445,260.5L445.5,260.3L446,260.1L446.5,259.8L447.1,259.4L447.6,258.9L448.1,258.3L448.6,257.3L449.1,256.1L449.6,254.3L450.2,251.8L450.7,248.3L451.2,243.6L451.7,237.3L452.2,228.9L452.8,218L453.3,204.2L453.8,188.3L454.3,188.3L454.8,188.3L455.3,188.3L455.9,188.3L456.4,188.3L456.9,188.3L457.4,188.3L457.9,188.3L458.5,188.3L459,188.3L459.5,188.3L460,188.3L460.5,188.3L461,188.3L461.6,188.3L462.1,188.3L462.6,188.3L463.1,188.3L463.6,188.3L464.2,188.3L464.7,188.3L465.2,188.3L465.7,188.3L466.2,188.3L466.7,188.3L467.3,188.3L467.8,188.3L468.3,202.1L468.8,216.3L469.3,227.6L469.9,236.3L470.4,242.9L470.9,247.8L471.4,251.4L471.9,254L472.4,255.9L473,257.2L473.5,258.1L474,258.8L474.5,259.3L475,259.7L475.6,260L476.1,260.3L476.6,260.5L477.1,260.6L477.6,260.8L478.1,260.9L478.7,261L479.2,261.2L479.7,261.3L480.2,261.4L480.7,261.4L481.3,261.5L481.8,261.6L482.3,261.7L482.8,261.7L483.3,261.8L483.8,261.9L484.4,261.9L484.9,262L485.4,262L485.9,262.1L486.4,262.1L487,262.2L487.5,262.2L488,262.2L488.5,262.3L489,262.3L489.5,262.3L490.1,262.4L490.6,262.4L491.1,262.4L491.6,262.4L492.1,262.5L492.6,262.5L493.2,262.5L493.7,262.5L494.2,262.5L494.7,262.6L495.2,262.6L495.8,262.6L496.3,262.6L496.8,262.6L497.3,262.7L497.8,262.7L498.3,262.7L498.9,262.7L499.4,262.7L499.9,262.7L500.4,262.7L500.9,262.7L501.5,262.8L502,262.8L502.5,262.8L503,262.8L503.5,262.8L504,262.8L504.6,262.8L505.1,262.8L505.6,262.8L506.1,262.8L506.6,262.9L507.2,262.9L507.7,262.9L508.2,262.9L508.7,262.9L509.2,262.9L509.7,262.9L510.3,262.9L510.8,262.9L511.3,262.9L511.8,262.9L512.3,262.9L512.9,262.9L513.4,262.9L513.9,262.9L514.4,262.9L514.9,262.9L515.4,263L516,263L516.5,263L517,263L517.5,263L518,263L518.6,263L519.1,263L519.6,263L520.1,263L520.6,263L521.1,263L521.7,263L521.7,263.2Z" fill="url(#gE)"/><path d="M457.4,263.2L457.4,263L457.9,263L458.5,262.9L459,262.7L459.5,262.6L460,262.4L460.5,262.1L461,261.7L461.6,261.3L462.1,260.7L462.6,260.1L463.1,259.3L463.6,258.4L464.2,257.3L464.7,256.1L465.2,254.8L465.7,253.3L466.2,251.8L466.7,250.2L467.3,248.6L467.8,247L468.3,245.5L468.8,244L469.3,242.7L469.9,241.7L470.4,240.8L470.9,240.3L471.4,240L471.9,240.1L472.4,240.4L473,241.1L473.5,242L474,243.1L474.5,244.5L475,246L475.6,247.5L476.1,249.1L476.6,250.8L477.1,252.3L477.6,253.8L478.1,255.2L478.7,256.5L479.2,257.7L479.7,258.7L480.2,259.6L480.7,260.3L481.3,260.9L481.8,261.4L482.3,261.8L482.8,262.2L483.3,262.4L483.8,262.6L484.4,262.8L484.9,262.9L485.4,263L485.9,263.1L485.9,263.2Z" fill="url(#gP)"/><path d="M459,263.2L459,263.1L459.5,263L460,263L460.5,262.9L461,262.8L461.6,262.7L462.1,262.6L462.6,262.5L463.1,262.3L463.6,262.2L464.2,262L464.7,261.8L465.2,261.6L465.7,261.4L466.2,261.1L466.7,260.9L467.3,260.6L467.8,260.3L468.3,260.1L468.8,259.8L469.3,259.5L469.9,259.3L470.4,259L470.9,258.7L471.4,258.5L471.9,258.2L472.4,258L473,257.7L473.5,257.5L474,257.2L474.5,257L475,256.8L475.6,256.6L476.1,256.4L476.6,256.3L477.1,256.1L477.6,256L478.1,255.8L478.7,255.7L479.2,255.6L479.7,255.5L480.2,255.4L480.7,255.3L481.3,255.3L481.8,255.3L482.3,255.2L482.8,255.2L483.3,255.3L483.8,255.3L484.4,255.3L484.9,255.4L485.4,255.4L485.9,255.5L486.4,255.6L487,255.7L487.5,255.8L488,255.9L488.5,256.1L489,256.2L489.5,256.4L490.1,256.5L490.6,256.7L491.1,256.9L491.6,257L492.1,257.2L492.6,257.4L493.2,257.6L493.7,257.8L494.2,258L494.7,258.2L495.2,258.4L495.8,258.6L496.3,258.8L496.8,258.9L497.3,259.1L497.8,259.3L498.3,259.5L498.9,259.7L499.4,259.9L499.9,260L500.4,260.2L500.9,260.4L501.5,260.5L502,260.7L502.5,260.9L503,261L503.5,261.1L504,261.3L504.6,261.4L505.1,261.5L505.6,261.6L506.1,261.7L506.6,261.9L507.2,262L507.7,262L508.2,262.1L508.7,262.2L509.2,262.3L509.7,262.4L510.3,262.4L510.8,262.5L511.3,262.6L511.8,262.6L512.3,262.7L512.9,262.7L513.4,262.8L513.9,262.8L514.4,262.8L514.9,262.9L515.4,262.9L516,262.9L516.5,263L517,263L517.5,263L518,263L518.6,263L518.6,263.2Z" fill="url(#gM)"/><path d="M443.4,260.9 L443.9,260.8 L444.5,260.7 L445,260.5 L445.5,260.3 L446,260.1 L446.5,259.8 L447.1,259.4 L447.6,258.9 L448.1,258.3 L448.6,257.3 L449.1,256.1 L449.6,254.3 L450.2,251.8 L450.7,248.3 L451.2,243.6 L451.7,237.3 L452.2,228.9 L452.8,218 L453.3,204.2 L453.8,187.1 L454.3,171 L454.8,171 L455.3,171 L455.9,171 L456.4,171 L456.9,171 L457.4,171 L457.9,171 L458.5,171 L459,171 L459.5,171 L460,171 L460.5,171 L461,171 L461.6,171 L462.1,171 L462.6,171 L463.1,171 L463.6,171 L464.2,171 L464.7,171 L465.2,171 L465.7,171 L466.2,171 L466.7,171 L467.3,171 L467.8,171 L468.3,180.1 L468.8,192.3 L469.3,201.7 L469.9,208.8 L470.4,213.9 L470.9,217.7 L471.4,220.4 L471.9,222.4 L472.4,223.9 L473,225.3 L473.5,226.5 L474,227.7 L474.5,228.9 L475,230.2 L475.6,231.6 L476.1,233 L476.6,234.4 L477.1,235.8 L477.6,237.3 L478.1,238.7 L478.7,240 L479.2,241.3 L479.7,242.5 L480.2,243.6 L480.7,244.7 L481.3,245.7 L481.8,246.6 L482.3,247.5 L482.8,248.3 L483.3,249 L483.8,249.7 L484.4,250.4 L484.9,251 L485.4,251.6 L485.9,252.1 L486.4,252.6 L487,253.1 L487.5,253.5 L488,253.9 L488.5,254.2 L489,254.6 L489.5,254.9 L490.1,255.2 L490.6,255.5 L491.1,255.8 L491.6,256.1 L492.1,256.3 L492.6,256.6 L493.2,256.8 L493.7,257 L494.2,257.3 L494.7,257.5 L495.2,257.7 L495.8,257.9 L496.3,258.2 L496.8,258.4 L497.3,258.6 L497.8,258.8 L498.3,259 L498.9,259.2 L499.4,259.4 L499.9,259.6 L500.4,259.8 L500.9,259.9 L501.5,260.1 L502,260.3 L502.5,260.4 L503,260.6 L503.5,260.7 L504,260.9 L504.6,261 L505.1,261.1 L505.6,261.3 L506.1,261.4 L506.6,261.5 L507.2,261.6 L507.7,261.7 L508.2,261.8 L508.7,261.9 L509.2,262 L509.7,262.1 L510.3,262.1 L510.8,262.2 L511.3,262.3 L511.8,262.3 L512.3,262.4 L512.9,262.4 L513.4,262.5 L513.9,262.5 L514.4,262.6 L514.9,262.6 L515.4,262.7 L516,262.7 L516.5,262.7 L517,262.8 L517.5,262.8 L518,262.8 L518.6,262.8 L519.1,262.8 L519.6,262.9 L520.1,262.9 L520.6,262.9 L521.1,262.9 L521.7,262.9" fill="none" stroke="#ea1a20" stroke-width="1.2" stroke-linejoin="round"/><path d="M443.9,260.7h0M445.8,260h0M447.7,258.5h0M449.6,254.1h0M451.5,239.4h0M453.4,199.4h0M468.6,189.2h0M470.5,215.5h0M472.4,223.9h0M474.3,228.7h0M476.2,234.1h0M478.1,238.1h0M480,243.4h0M481.9,246.8h0M483.8,250.3h0M485.7,251.1h0M487.6,253.3h0M489.5,254.6h0M491.4,256h0M493.3,256.7h0M495.2,257.9h0M497.1,258.8h0M499,259.7h0M500.9,260.3h0M502.8,259.3h0M504.7,261.5h0M506.6,261.9h0M508.5,262.1h0M510.4,261.7h0M512.3,261.6h0M514.2,262.8h0M516.1,262.9h0M518,262.7h0M519.9,262.9h0M521.8,263.6h0" stroke="#1a0000" stroke-width="1.85" stroke-linecap="round" fill="none"/></g>
<rect x="443.7" y="189" width="77.7" height="74.2" fill="none" stroke="#000" stroke-width="1.25"/>
<path d="M443.7,245.9h3M443.7,228.6h3M443.7,211.3h3M443.7,194h3M460.7,263.2v-2.3M478,263.2v-2.3M495.2,263.2v-2.3M512.5,263.2v-2.3" stroke="#000" stroke-width="1"/>
<text x="517.1" y="198.7" font-size="8.5" class="t" text-anchor="end">(0.26, 0)</text>
<g clip-path="url(#c26)"><path d="M524.7,263.2L524.7,261L525.2,260.8L525.7,260.7L526.2,260.5L526.7,260.2L527.3,260L527.8,259.6L528.3,259.1L528.8,258.4L529.3,257.4L529.9,256.2L530.4,254.4L530.9,252L531.4,248.7L531.9,244.3L532.4,238.5L533,231L533.5,221.4L534,209.4L534.5,194.6L535,188.3L535.6,188.3L536.1,188.3L536.6,188.3L537.1,188.3L537.6,188.3L538.1,188.3L538.7,188.3L539.2,188.3L539.7,188.3L540.2,188.3L540.7,188.3L541.2,188.3L541.8,188.3L542.3,188.3L542.8,188.3L543.3,188.3L543.8,188.3L544.4,188.3L544.9,188.3L545.4,188.3L545.9,188.3L546.4,188.3L546.9,188.3L547.5,188.3L548,188.3L548.5,188.3L549,188.3L549.5,188.3L550.1,194.6L550.6,209.4L551.1,221.4L551.6,231L552.1,238.5L552.6,244.3L553.2,248.7L553.7,252L554.2,254.4L554.7,256.2L555.2,257.4L555.8,258.4L556.3,259.1L556.8,259.6L557.3,260L557.8,260.2L558.3,260.5L558.9,260.7L559.4,260.8L559.9,261L560.4,261.1L560.9,261.2L561.5,261.3L562,261.4L562.5,261.5L563,261.6L563.5,261.6L564,261.7L564.6,261.8L565.1,261.8L565.6,261.9L566.1,262L566.6,262L567.2,262L567.7,262.1L568.2,262.1L568.7,262.2L569.2,262.2L569.7,262.2L570.3,262.3L570.8,262.3L571.3,262.3L571.8,262.4L572.3,262.4L572.9,262.4L573.4,262.5L573.9,262.5L574.4,262.5L574.9,262.5L575.4,262.5L576,262.6L576.5,262.6L577,262.6L577.5,262.6L578,262.6L578.6,262.6L579.1,262.7L579.6,262.7L580.1,262.7L580.6,262.7L581.1,262.7L581.7,262.7L582.2,262.7L582.7,262.8L583.2,262.8L583.7,262.8L584.3,262.8L584.8,262.8L585.3,262.8L585.8,262.8L586.3,262.8L586.8,262.8L587.4,262.8L587.9,262.8L588.4,262.9L588.9,262.9L589.4,262.9L590,262.9L590.5,262.9L591,262.9L591.5,262.9L592,262.9L592.5,262.9L593.1,262.9L593.6,262.9L594.1,262.9L594.6,262.9L595.1,262.9L595.6,262.9L596.2,262.9L596.7,263L597.2,263L597.7,263L598.2,263L598.8,263L599.3,263L599.8,263L600.3,263L600.8,263L601.3,263L601.9,263L602.4,263L602.9,263L602.9,263.2Z" fill="url(#gE)"/><path d="M539.2,263.2L539.2,263L539.7,262.9L540.2,262.8L540.7,262.7L541.2,262.5L541.8,262.3L542.3,261.9L542.8,261.5L543.3,261L543.8,260.4L544.4,259.7L544.9,258.8L545.4,257.8L545.9,256.6L546.4,255.3L546.9,253.8L547.5,252.2L548,250.5L548.5,248.7L549,246.9L549.5,245.1L550.1,243.3L550.6,241.7L551.1,240.3L551.6,239.1L552.1,238.2L552.6,237.6L553.2,237.3L553.7,237.3L554.2,237.7L554.7,238.4L555.2,239.5L555.8,240.8L556.3,242.2L556.8,243.9L557.3,245.7L557.8,247.5L558.3,249.3L558.9,251L559.4,252.7L559.9,254.3L560.4,255.7L560.9,257L561.5,258.1L562,259.1L562.5,260L563,260.6L563.5,261.2L564,261.7L564.6,262.1L565.1,262.4L565.6,262.6L566.1,262.7L566.6,262.9L567.2,263L567.7,263L567.7,263.2Z" fill="url(#gP)"/><path d="M540.7,263.2L540.7,263L541.2,263L541.8,262.9L542.3,262.9L542.8,262.8L543.3,262.7L543.8,262.6L544.4,262.5L544.9,262.3L545.4,262.2L545.9,262L546.4,261.8L546.9,261.6L547.5,261.4L548,261.2L548.5,260.9L549,260.7L549.5,260.5L550.1,260.2L550.6,259.9L551.1,259.7L551.6,259.4L552.1,259.2L552.6,258.9L553.2,258.6L553.7,258.4L554.2,258.1L554.7,257.9L555.2,257.6L555.8,257.4L556.3,257.2L556.8,256.9L557.3,256.7L557.8,256.5L558.3,256.3L558.9,256.1L559.4,255.9L559.9,255.8L560.4,255.6L560.9,255.5L561.5,255.4L562,255.3L562.5,255.2L563,255.1L563.5,255L564,255L564.6,254.9L565.1,254.9L565.6,254.9L566.1,254.9L566.6,254.9L567.2,255L567.7,255L568.2,255.1L568.7,255.2L569.2,255.3L569.7,255.4L570.3,255.5L570.8,255.6L571.3,255.8L571.8,255.9L572.3,256.1L572.9,256.2L573.4,256.4L573.9,256.6L574.4,256.8L574.9,257L575.4,257.2L576,257.3L576.5,257.5L577,257.7L577.5,258L578,258.2L578.6,258.4L579.1,258.6L579.6,258.8L580.1,259L580.6,259.2L581.1,259.4L581.7,259.5L582.2,259.7L582.7,259.9L583.2,260.1L583.7,260.3L584.3,260.4L584.8,260.6L585.3,260.7L585.8,260.9L586.3,261L586.8,261.2L587.4,261.3L587.9,261.4L588.4,261.6L588.9,261.7L589.4,261.8L590,261.9L590.5,262L591,262.1L591.5,262.2L592,262.3L592.5,262.3L593.1,262.4L593.6,262.5L594.1,262.5L594.6,262.6L595.1,262.6L595.6,262.7L596.2,262.7L596.7,262.8L597.2,262.8L597.7,262.9L598.2,262.9L598.8,262.9L599.3,263L599.8,263L600.3,263L600.8,263L601.3,263L601.3,263.2Z" fill="url(#gM)"/><path d="M524.7,261 L525.2,260.8 L525.7,260.7 L526.2,260.5 L526.7,260.2 L527.3,260 L527.8,259.6 L528.3,259.1 L528.8,258.4 L529.3,257.4 L529.9,256.2 L530.4,254.4 L530.9,252 L531.4,248.7 L531.9,244.3 L532.4,238.5 L533,231 L533.5,221.4 L534,209.4 L534.5,194.6 L535,176.8 L535.6,171 L536.1,171 L536.6,171 L537.1,171 L537.6,171 L538.1,171 L538.7,171 L539.2,171 L539.7,171 L540.2,171 L540.7,171 L541.2,171 L541.8,171 L542.3,171 L542.8,171 L543.3,171 L543.8,171 L544.4,171 L544.9,171 L545.4,171 L545.9,171 L546.4,171 L546.9,171 L547.5,171 L548,171 L548.5,171 L549,171 L549.5,171 L550.1,171 L550.6,182.9 L551.1,193 L551.6,200.8 L552.1,206.7 L552.6,211.3 L553.2,214.7 L553.7,217.4 L554.2,219.5 L554.7,221.3 L555.2,223 L555.8,224.6 L556.3,226.2 L556.8,227.8 L557.3,229.5 L557.8,231.1 L558.3,232.8 L558.9,234.5 L559.4,236.2 L559.9,237.8 L560.4,239.3 L560.9,240.8 L561.5,242.1 L562,243.4 L562.5,244.5 L563,245.6 L563.5,246.6 L564,247.5 L564.6,248.3 L565.1,249.1 L565.6,249.7 L566.1,250.4 L566.6,250.9 L567.2,251.5 L567.7,251.9 L568.2,252.4 L568.7,252.8 L569.2,253.2 L569.7,253.5 L570.3,253.8 L570.8,254.2 L571.3,254.4 L571.8,254.7 L572.3,255 L572.9,255.2 L573.4,255.5 L573.9,255.7 L574.4,256 L574.9,256.2 L575.4,256.4 L576,256.7 L576.5,256.9 L577,257.1 L577.5,257.4 L578,257.6 L578.6,257.8 L579.1,258 L579.6,258.2 L580.1,258.4 L580.6,258.7 L581.1,258.9 L581.7,259.1 L582.2,259.3 L582.7,259.5 L583.2,259.7 L583.7,259.8 L584.3,260 L584.8,260.2 L585.3,260.4 L585.8,260.5 L586.3,260.7 L586.8,260.8 L587.4,261 L587.9,261.1 L588.4,261.2 L588.9,261.3 L589.4,261.5 L590,261.6 L590.5,261.7 L591,261.8 L591.5,261.9 L592,262 L592.5,262 L593.1,262.1 L593.6,262.2 L594.1,262.3 L594.6,262.3 L595.1,262.4 L595.6,262.4 L596.2,262.5 L596.7,262.5 L597.2,262.6 L597.7,262.6 L598.2,262.7 L598.8,262.7 L599.3,262.7 L599.8,262.8 L600.3,262.8 L600.8,262.8 L601.3,262.8 L601.9,262.9 L602.4,262.9 L602.9,262.9" fill="none" stroke="#ea1a20" stroke-width="1.2" stroke-linejoin="round"/><path d="M525.2,261h0M527.1,259.7h0M529,258h0M530.9,251.3h0M532.8,234.4h0M534.7,188.4h0M551.8,202.4h0M553.7,217.5h0M555.6,224.3h0M557.5,229.7h0M559.4,235.6h0M561.3,240.5h0M563.2,245.8h0M565.1,248.7h0M567,250.7h0M568.9,253h0M570.8,254.6h0M572.7,255.3h0M574.6,256h0M576.5,257.4h0M578.4,257.9h0M580.3,258.6h0M582.2,258.9h0M584.1,259.7h0M586,260.8h0M587.9,260.9h0M589.8,261.8h0M591.7,261.7h0M593.6,262.2h0M595.5,262.5h0M597.4,262.5h0M599.3,262.8h0M601.2,263.6h0M603.1,262.4h0" stroke="#1a0000" stroke-width="1.85" stroke-linecap="round" fill="none"/></g>
<rect x="524.9" y="189" width="77.7" height="74.2" fill="none" stroke="#000" stroke-width="1.25"/>
<path d="M524.9,245.9h3M524.9,228.6h3M524.9,211.3h3M524.9,194h3M541.9,263.2v-2.3M559.2,263.2v-2.3M576.5,263.2v-2.3M593.7,263.2v-2.3" stroke="#000" stroke-width="1"/>
<text x="598.3" y="198.7" font-size="8.5" class="t" text-anchor="end">(0.2, 0)</text>
<g clip-path="url(#c27)"><path d="M605.9,263.2L605.9,261L606.4,260.8L606.9,260.6L607.5,260.4L608,260.1L608.5,259.8L609,259.3L609.5,258.6L610.1,257.7L610.6,256.5L611.1,254.9L611.6,252.6L612.1,249.6L612.6,245.7L613.2,240.5L613.7,233.9L614.2,225.4L614.7,214.8L615.2,201.8L615.8,188.3L616.3,188.3L616.8,188.3L617.3,188.3L617.8,188.3L618.3,188.3L618.9,188.3L619.4,188.3L619.9,188.3L620.4,188.3L620.9,188.3L621.5,188.3L622,188.3L622.5,188.3L623,188.3L623.5,188.3L624,188.3L624.6,188.3L625.1,188.3L625.6,188.3L626.1,188.3L626.6,188.3L627.2,188.3L627.7,188.3L628.2,188.3L628.7,188.3L629.2,188.3L629.7,188.3L630.3,188.3L630.8,188.3L631.3,188.3L631.8,196.9L632.3,210.8L632.9,222.1L633.4,231.2L633.9,238.5L634.4,244.1L634.9,248.4L635.4,251.7L636,254.2L636.5,256L637,257.4L637.5,258.3L638,259.1L638.6,259.6L639.1,260L639.6,260.3L640.1,260.6L640.6,260.8L641.1,260.9L641.7,261.1L642.2,261.2L642.7,261.3L643.2,261.4L643.7,261.5L644.2,261.6L644.8,261.6L645.3,261.7L645.8,261.8L646.3,261.8L646.8,261.9L647.4,261.9L647.9,262L648.4,262L648.9,262.1L649.4,262.1L649.9,262.2L650.5,262.2L651,262.2L651.5,262.3L652,262.3L652.5,262.3L653.1,262.4L653.6,262.4L654.1,262.4L654.6,262.4L655.1,262.5L655.6,262.5L656.2,262.5L656.7,262.5L657.2,262.6L657.7,262.6L658.2,262.6L658.8,262.6L659.3,262.6L659.8,262.6L660.3,262.7L660.8,262.7L661.3,262.7L661.9,262.7L662.4,262.7L662.9,262.7L663.4,262.7L663.9,262.8L664.5,262.8L665,262.8L665.5,262.8L666,262.8L666.5,262.8L667,262.8L667.6,262.8L668.1,262.8L668.6,262.8L669.1,262.8L669.6,262.9L670.2,262.9L670.7,262.9L671.2,262.9L671.7,262.9L672.2,262.9L672.7,262.9L673.3,262.9L673.8,262.9L674.3,262.9L674.8,262.9L675.3,262.9L675.9,262.9L676.4,262.9L676.9,262.9L677.4,262.9L677.9,263L678.4,263L679,263L679.5,263L680,263L680.5,263L681,263L681.6,263L682.1,263L682.6,263L683.1,263L683.6,263L684.1,263L684.1,263.2Z" fill="url(#gE)"/><path d="M621.5,263.2L621.5,263L622,263L622.5,262.9L623,262.7L623.5,262.5L624,262.3L624.6,262L625.1,261.6L625.6,261.2L626.1,260.6L626.6,259.9L627.2,259L627.7,258.1L628.2,256.9L628.7,255.7L629.2,254.3L629.7,252.8L630.3,251.1L630.8,249.4L631.3,247.7L631.8,246L632.3,244.4L632.9,242.9L633.4,241.5L633.9,240.4L634.4,239.5L634.9,238.9L635.4,238.7L636,238.7L636.5,239.1L637,239.8L637.5,240.7L638,241.9L638.6,243.4L639.1,244.9L639.6,246.6L640.1,248.3L640.6,250L641.1,251.7L641.7,253.3L642.2,254.8L642.7,256.1L643.2,257.3L643.7,258.4L644.2,259.3L644.8,260.1L645.3,260.8L645.8,261.3L646.3,261.8L646.8,262.1L647.4,262.4L647.9,262.6L648.4,262.8L648.9,262.9L649.4,263L649.9,263L649.9,263.2Z" fill="url(#gP)"/><path d="M621.5,263.2L621.5,263L622,263L622.5,262.9L623,262.8L623.5,262.7L624,262.6L624.6,262.5L625.1,262.4L625.6,262.2L626.1,262L626.6,261.8L627.2,261.6L627.7,261.3L628.2,261.1L628.7,260.8L629.2,260.5L629.7,260.2L630.3,259.9L630.8,259.6L631.3,259.3L631.8,259L632.3,258.7L632.9,258.3L633.4,258L633.9,257.7L634.4,257.4L634.9,257.1L635.4,256.8L636,256.6L636.5,256.3L637,256L637.5,255.8L638,255.6L638.6,255.3L639.1,255.1L639.6,254.9L640.1,254.7L640.6,254.6L641.1,254.4L641.7,254.3L642.2,254.2L642.7,254.1L643.2,254L643.7,253.9L644.2,253.9L644.8,253.9L645.3,253.9L645.8,253.9L646.3,253.9L646.8,253.9L647.4,254L647.9,254.1L648.4,254.1L648.9,254.2L649.4,254.4L649.9,254.5L650.5,254.6L651,254.8L651.5,254.9L652,255.1L652.5,255.3L653.1,255.5L653.6,255.7L654.1,255.9L654.6,256.1L655.1,256.3L655.6,256.5L656.2,256.8L656.7,257L657.2,257.2L657.7,257.4L658.2,257.7L658.8,257.9L659.3,258.1L659.8,258.4L660.3,258.6L660.8,258.8L661.3,259L661.9,259.2L662.4,259.4L662.9,259.6L663.4,259.8L663.9,260L664.5,260.2L665,260.4L665.5,260.6L666,260.7L666.5,260.9L667,261L667.6,261.2L668.1,261.3L668.6,261.5L669.1,261.6L669.6,261.7L670.2,261.8L670.7,261.9L671.2,262L671.7,262.1L672.2,262.2L672.7,262.3L673.3,262.4L673.8,262.4L674.3,262.5L674.8,262.6L675.3,262.6L675.9,262.7L676.4,262.7L676.9,262.8L677.4,262.8L677.9,262.8L678.4,262.9L679,262.9L679.5,262.9L680,263L680.5,263L681,263L681.6,263L682.1,263.1L682.1,263.2Z" fill="url(#gM)"/><path d="M605.9,261 L606.4,260.8 L606.9,260.6 L607.5,260.4 L608,260.1 L608.5,259.8 L609,259.3 L609.5,258.6 L610.1,257.7 L610.6,256.5 L611.1,254.9 L611.6,252.6 L612.1,249.6 L612.6,245.7 L613.2,240.5 L613.7,233.9 L614.2,225.4 L614.7,214.8 L615.2,201.8 L615.8,186.2 L616.3,171 L616.8,171 L617.3,171 L617.8,171 L618.3,171 L618.9,171 L619.4,171 L619.9,171 L620.4,171 L620.9,171 L621.5,171 L622,171 L622.5,171 L623,171 L623.5,171 L624,171 L624.6,171 L625.1,171 L625.6,171 L626.1,171 L626.6,171 L627.2,171 L627.7,171 L628.2,171 L628.7,171 L629.2,171 L629.7,171 L630.3,171 L630.8,171 L631.3,171 L631.8,173.8 L632.3,185.4 L632.9,194.6 L633.4,201.7 L633.9,207.1 L634.4,211.1 L634.9,214.2 L635.4,216.5 L636,218.3 L636.5,219.8 L637,221.2 L637.5,222.6 L638,224 L638.6,225.4 L639.1,227 L639.6,228.6 L640.1,230.3 L640.6,232 L641.1,233.8 L641.7,235.5 L642.2,237.2 L642.7,238.8 L643.2,240.3 L643.7,241.8 L644.2,243.1 L644.8,244.3 L645.3,245.5 L645.8,246.5 L646.3,247.4 L646.8,248.3 L647.4,249.1 L647.9,249.8 L648.4,250.4 L648.9,251 L649.4,251.5 L649.9,252 L650.5,252.5 L651,252.9 L651.5,253.3 L652,253.6 L652.5,254 L653.1,254.3 L653.6,254.6 L654.1,254.9 L654.6,255.2 L655.1,255.5 L655.6,255.7 L656.2,256 L656.7,256.3 L657.2,256.5 L657.7,256.8 L658.2,257 L658.8,257.3 L659.3,257.5 L659.8,257.8 L660.3,258 L660.8,258.3 L661.3,258.5 L661.9,258.7 L662.4,258.9 L662.9,259.2 L663.4,259.4 L663.9,259.6 L664.5,259.8 L665,260 L665.5,260.1 L666,260.3 L666.5,260.5 L667,260.6 L667.6,260.8 L668.1,260.9 L668.6,261.1 L669.1,261.2 L669.6,261.3 L670.2,261.5 L670.7,261.6 L671.2,261.7 L671.7,261.8 L672.2,261.9 L672.7,262 L673.3,262.1 L673.8,262.1 L674.3,262.2 L674.8,262.3 L675.3,262.3 L675.9,262.4 L676.4,262.5 L676.9,262.5 L677.4,262.5 L677.9,262.6 L678.4,262.6 L679,262.7 L679.5,262.7 L680,262.7 L680.5,262.8 L681,262.8 L681.6,262.8 L682.1,262.8 L682.6,262.9 L683.1,262.9 L683.6,262.9 L684.1,262.9" fill="none" stroke="#ea1a20" stroke-width="1.2" stroke-linejoin="round"/><path d="M606.4,260.4h0M608.3,260.3h0M610.2,257.5h0M612.1,249h0M614,228.2h0M633,197.8h0M634.9,213.2h0M636.8,220.6h0M638.7,226.4h0M640.6,231.7h0M642.5,238h0M644.4,243.5h0M646.3,248h0M648.2,250h0M650.1,252h0M652,253.5h0M653.9,255.7h0M655.8,256.7h0M657.7,257.2h0M659.6,257.9h0M661.5,258.9h0M663.4,260h0M665.3,259.7h0M667.2,261.2h0M669.1,260.7h0M671,261.4h0M672.9,262.4h0M674.8,261.7h0M676.7,262.4h0M678.6,262.3h0M680.5,262.7h0M682.4,261.7h0M684.3,262.2h0" stroke="#1a0000" stroke-width="1.85" stroke-linecap="round" fill="none"/></g>
<rect x="606.2" y="189" width="77.7" height="74.2" fill="none" stroke="#000" stroke-width="1.25"/>
<path d="M606.2,245.9h3M606.2,228.6h3M606.2,211.3h3M606.2,194h3M623.2,263.2v-2.3M640.4,263.2v-2.3M657.7,263.2v-2.3M675,263.2v-2.3" stroke="#000" stroke-width="1"/>
<text x="679.6" y="198.7" font-size="8.5" class="t" text-anchor="end">(0.14, 0)</text>
<g clip-path="url(#c30)"><path d="M37.2,340.2L37.2,338L37.7,337.9L38.3,337.7L38.8,337.6L39.3,337.4L39.8,337.3L40.3,337.1L40.9,336.9L41.4,336.6L41.9,336.3L42.4,336L42.9,335.6L43.4,335.2L44,334.5L44.5,333.6L45,332.3L45.5,330.4L46,327.5L46.6,323.3L47.1,317.2L47.6,308.6L48.1,296.6L48.6,280.4L49.1,266.3L49.7,266.3L50.2,266.3L50.7,266.3L51.2,266.3L51.7,266.3L52.3,266.3L52.8,266.3L53.3,266.3L53.8,266.3L54.3,266.3L54.8,266.3L55.4,266.3L55.9,266.3L56.4,266.3L56.9,266.3L57.4,266.3L58,266.3L58.5,266.3L59,266.3L59.5,266.3L60,266.3L60.5,266.3L61.1,280.4L61.6,296.6L62.1,308.6L62.6,317.2L63.1,323.3L63.7,327.5L64.2,330.4L64.7,332.3L65.2,333.6L65.7,334.5L66.2,335.2L66.8,335.6L67.3,336L67.8,336.3L68.3,336.6L68.8,336.9L69.4,337.1L69.9,337.3L70.4,337.4L70.9,337.6L71.4,337.7L71.9,337.9L72.5,338L73,338.1L73.5,338.2L74,338.3L74.5,338.4L75.1,338.5L75.6,338.6L76.1,338.6L76.6,338.7L77.1,338.8L77.6,338.8L78.2,338.9L78.7,339L79.2,339L79.7,339L80.2,339.1L80.8,339.1L81.3,339.2L81.8,339.2L82.3,339.2L82.8,339.3L83.3,339.3L83.9,339.3L84.4,339.4L84.9,339.4L85.4,339.4L85.9,339.5L86.4,339.5L87,339.5L87.5,339.5L88,339.5L88.5,339.6L89,339.6L89.6,339.6L90.1,339.6L90.6,339.6L91.1,339.6L91.6,339.7L92.1,339.7L92.7,339.7L93.2,339.7L93.7,339.7L94.2,339.7L94.7,339.7L95.3,339.8L95.8,339.8L96.3,339.8L96.8,339.8L97.3,339.8L97.8,339.8L98.4,339.8L98.9,339.8L99.4,339.8L99.9,339.8L100.4,339.8L101,339.9L101.5,339.9L102,339.9L102.5,339.9L103,339.9L103.5,339.9L104.1,339.9L104.6,339.9L105.1,339.9L105.6,339.9L106.1,339.9L106.7,339.9L107.2,339.9L107.7,339.9L108.2,339.9L108.7,339.9L109.2,340L109.8,340L110.3,340L110.8,340L111.3,340L111.8,340L112.4,340L112.9,340L113.4,340L113.9,340L114.4,340L114.9,340L115.5,340L115.5,340.2Z" fill="url(#gE)"/><path d="M51.7,340.2L51.7,340L52.3,339.9L52.8,339.8L53.3,339.7L53.8,339.5L54.3,339.3L54.8,339L55.4,338.6L55.9,338.2L56.4,337.6L56.9,336.9L57.4,336.1L58,335.2L58.5,334.2L59,333.1L59.5,331.8L60,330.5L60.5,329.1L61.1,327.6L61.6,326.2L62.1,324.8L62.6,323.4L63.1,322.2L63.7,321.2L64.2,320.4L64.7,319.8L65.2,319.5L65.7,319.5L66.2,319.7L66.8,320.2L67.3,320.9L67.8,321.9L68.3,323L68.8,324.3L69.4,325.7L69.9,327.1L70.4,328.6L70.9,330L71.4,331.4L71.9,332.7L72.5,333.8L73,334.9L73.5,335.9L74,336.7L74.5,337.4L75.1,338L75.6,338.5L76.1,338.9L76.6,339.2L77.1,339.4L77.6,339.6L78.2,339.8L78.7,339.9L79.2,340L79.7,340.1L79.7,340.2Z" fill="url(#gP)"/><path d="M52.8,340.2L52.8,340L53.3,340L53.8,339.9L54.3,339.8L54.8,339.7L55.4,339.6L55.9,339.5L56.4,339.4L56.9,339.2L57.4,339L58,338.8L58.5,338.6L59,338.4L59.5,338.1L60,337.9L60.5,337.6L61.1,337.3L61.6,337L62.1,336.7L62.6,336.4L63.1,336.2L63.7,335.9L64.2,335.6L64.7,335.3L65.2,335.1L65.7,334.8L66.2,334.5L66.8,334.3L67.3,334.1L67.8,333.9L68.3,333.7L68.8,333.5L69.4,333.3L69.9,333.1L70.4,333L70.9,332.8L71.4,332.7L71.9,332.6L72.5,332.5L73,332.4L73.5,332.3L74,332.3L74.5,332.3L75.1,332.2L75.6,332.2L76.1,332.3L76.6,332.3L77.1,332.3L77.6,332.4L78.2,332.4L78.7,332.5L79.2,332.6L79.7,332.7L80.2,332.8L80.8,332.9L81.3,333.1L81.8,333.2L82.3,333.4L82.8,333.5L83.3,333.7L83.9,333.9L84.4,334L84.9,334.2L85.4,334.4L85.9,334.6L86.4,334.8L87,335L87.5,335.2L88,335.4L88.5,335.6L89,335.8L89.6,335.9L90.1,336.1L90.6,336.3L91.1,336.5L91.6,336.7L92.1,336.9L92.7,337L93.2,337.2L93.7,337.4L94.2,337.5L94.7,337.7L95.3,337.9L95.8,338L96.3,338.1L96.8,338.3L97.3,338.4L97.8,338.5L98.4,338.6L98.9,338.7L99.4,338.9L99.9,339L100.4,339L101,339.1L101.5,339.2L102,339.3L102.5,339.4L103,339.4L103.5,339.5L104.1,339.6L104.6,339.6L105.1,339.7L105.6,339.7L106.1,339.8L106.7,339.8L107.2,339.8L107.7,339.9L108.2,339.9L108.7,339.9L109.2,340L109.8,340L110.3,340L110.8,340L111.3,340L111.3,340.2Z" fill="url(#gM)"/><path d="M37.2,338 L37.7,337.9 L38.3,337.7 L38.8,337.6 L39.3,337.4 L39.8,337.3 L40.3,337.1 L40.9,336.9 L41.4,336.6 L41.9,336.3 L42.4,336 L42.9,335.6 L43.4,335.2 L44,334.5 L44.5,333.6 L45,332.3 L45.5,330.4 L46,327.5 L46.6,323.3 L47.1,317.2 L47.6,308.5 L48.1,296.5 L48.6,280.4 L49.1,259.4 L49.7,249 L50.2,249 L50.7,249 L51.2,249 L51.7,249 L52.3,249 L52.8,249 L53.3,249 L53.8,249 L54.3,249 L54.8,249 L55.4,249 L55.9,249 L56.4,249 L56.9,249 L57.4,249 L58,249 L58.5,249 L59,249 L59.5,249 L60,249 L60.5,249 L61.1,264.1 L61.6,278.3 L62.1,288.4 L62.6,295.2 L63.1,299.6 L63.7,302.2 L64.2,303.6 L64.7,304.3 L65.2,304.7 L65.7,304.9 L66.2,305.1 L66.8,305.4 L67.3,305.9 L67.8,306.5 L68.3,307.4 L68.8,308.3 L69.4,309.4 L69.9,310.6 L70.4,311.9 L70.9,313.2 L71.4,314.5 L71.9,315.8 L72.5,317.1 L73,318.3 L73.5,319.5 L74,320.6 L74.5,321.7 L75.1,322.7 L75.6,323.6 L76.1,324.5 L76.6,325.3 L77.1,326.1 L77.6,326.8 L78.2,327.5 L78.7,328.1 L79.2,328.7 L79.7,329.3 L80.2,329.8 L80.8,330.3 L81.3,330.7 L81.8,331.1 L82.3,331.5 L82.8,331.9 L83.3,332.2 L83.9,332.5 L84.4,332.8 L84.9,333.1 L85.4,333.4 L85.9,333.7 L86.4,333.9 L87,334.2 L87.5,334.4 L88,334.7 L88.5,334.9 L89,335.1 L89.6,335.3 L90.1,335.5 L90.6,335.7 L91.1,336 L91.6,336.2 L92.1,336.3 L92.7,336.5 L93.2,336.7 L93.7,336.9 L94.2,337.1 L94.7,337.2 L95.3,337.4 L95.8,337.6 L96.3,337.7 L96.8,337.9 L97.3,338 L97.8,338.1 L98.4,338.2 L98.9,338.4 L99.4,338.5 L99.9,338.6 L100.4,338.7 L101,338.8 L101.5,338.9 L102,339 L102.5,339 L103,339.1 L103.5,339.2 L104.1,339.3 L104.6,339.3 L105.1,339.4 L105.6,339.4 L106.1,339.5 L106.7,339.5 L107.2,339.6 L107.7,339.6 L108.2,339.6 L108.7,339.7 L109.2,339.7 L109.8,339.7 L110.3,339.8 L110.8,339.8 L111.3,339.8 L111.8,339.8 L112.4,339.9 L112.9,339.9 L113.4,339.9 L113.9,339.9 L114.4,339.9 L114.9,339.9 L115.5,339.9" fill="none" stroke="#ea1a20" stroke-width="1.2" stroke-linejoin="round"/><path d="M37.7,338h0M39.6,337.1h0M41.5,336h0M43.4,336.1h0M45.3,330.5h0M47.2,314.3h0M62.4,292.9h0M64.3,304.6h0M66.2,305.4h0M68.1,306.8h0M70,310.7h0M71.9,315.9h0M73.8,320.4h0M75.7,323.9h0M77.6,326.4h0M79.5,329.1h0M81.4,331.2h0M83.3,332.3h0M85.2,332.8h0M87.1,334.5h0M89,334.3h0M90.9,336.4h0M92.8,336.7h0M94.7,336.8h0M96.6,338.1h0M98.5,338.3h0M100.4,338.6h0M102.3,338.9h0M104.2,339.6h0M106.1,339h0M108,339.8h0M109.9,339.6h0M111.8,339.9h0M113.7,339h0M115.6,340.2h0" stroke="#1a0000" stroke-width="1.85" stroke-linecap="round" fill="none"/></g>
<rect x="37.5" y="267" width="77.7" height="73.2" fill="none" stroke="#000" stroke-width="1.25"/>
<path d="M37.5,322.9h3M37.5,305.6h3M37.5,288.3h3M37.5,271h3M54.5,340.2v-2.3M71.8,340.2v-2.3M89,340.2v-2.3M106.3,340.2v-2.3" stroke="#000" stroke-width="1"/>
<text x="110.9" y="276.7" font-size="8.5" class="t" text-anchor="end">(0.33, 0.33)</text>
<text x="39.5" y="276.7" font-size="8.5" class="t">(<tspan font-style="italic">h</tspan>, <tspan font-style="italic">h</tspan>)</text>
<text x="112.9" y="292.5" font-size="8.7" class="t" text-anchor="end">PrNiO<tspan font-size="5.9" dy="2.3">2</tspan><tspan dy="-2.3">/LSAT</tspan></text>
<text x="35.9" y="343.1" font-size="8.2" class="t" text-anchor="end">0</text>
<text x="35.9" y="325.8" font-size="8.2" class="t" text-anchor="end">0.5</text>
<text x="35.9" y="308.5" font-size="8.2" class="t" text-anchor="end">1</text>
<text x="35.9" y="291.2" font-size="8.2" class="t" text-anchor="end">1.5</text>
<text x="35.9" y="273.9" font-size="8.2" class="t" text-anchor="end">2</text>
<text x="54.5" y="349.5" font-size="8.2" class="t" text-anchor="middle">0</text>
<text x="71.8" y="349.5" font-size="8.2" class="t" text-anchor="middle">100</text>
<text x="89" y="349.5" font-size="8.2" class="t" text-anchor="middle">200</text>
<text x="106.3" y="349.5" font-size="8.2" class="t" text-anchor="middle">300</text>
<g clip-path="url(#c31)"><path d="M118.5,340.2L118.5,338.1L119,338L119.5,337.8L120,337.7L120.5,337.5L121.1,337.4L121.6,337.2L122.1,337L122.6,336.7L123.1,336.4L123.7,336L124.2,335.4L124.7,334.7L125.2,333.7L125.7,332.3L126.2,330.2L126.8,327.2L127.3,323L127.8,317.2L128.3,309.2L128.8,298.6L129.4,284.7L129.9,267L130.4,266.3L130.9,266.3L131.4,266.3L131.9,266.3L132.5,266.3L133,266.3L133.5,266.3L134,266.3L134.5,266.3L135,266.3L135.6,266.3L136.1,266.3L136.6,266.3L137.1,266.3L137.6,266.3L138.2,266.3L138.7,266.3L139.2,266.3L139.7,266.3L140.2,266.3L140.7,266.3L141.3,266.3L141.8,266.3L142.3,266.3L142.8,266.3L143.3,279.2L143.9,294.3L144.4,306L144.9,314.8L145.4,321.3L145.9,326L146.4,329.3L147,331.6L147.5,333.3L148,334.4L148.5,335.2L149,335.8L149.6,336.3L150.1,336.6L150.6,336.9L151.1,337.1L151.6,337.3L152.1,337.5L152.7,337.6L153.2,337.8L153.7,337.9L154.2,338L154.7,338.1L155.3,338.3L155.8,338.3L156.3,338.4L156.8,338.5L157.3,338.6L157.8,338.7L158.4,338.7L158.9,338.8L159.4,338.9L159.9,338.9L160.4,339L161,339L161.5,339.1L162,339.1L162.5,339.1L163,339.2L163.5,339.2L164.1,339.3L164.6,339.3L165.1,339.3L165.6,339.4L166.1,339.4L166.7,339.4L167.2,339.4L167.7,339.5L168.2,339.5L168.7,339.5L169.2,339.5L169.8,339.5L170.3,339.6L170.8,339.6L171.3,339.6L171.8,339.6L172.4,339.6L172.9,339.7L173.4,339.7L173.9,339.7L174.4,339.7L174.9,339.7L175.5,339.7L176,339.7L176.5,339.7L177,339.8L177.5,339.8L178.1,339.8L178.6,339.8L179.1,339.8L179.6,339.8L180.1,339.8L180.6,339.8L181.2,339.8L181.7,339.8L182.2,339.8L182.7,339.9L183.2,339.9L183.8,339.9L184.3,339.9L184.8,339.9L185.3,339.9L185.8,339.9L186.3,339.9L186.9,339.9L187.4,339.9L187.9,339.9L188.4,339.9L188.9,339.9L189.4,339.9L190,339.9L190.5,339.9L191,340L191.5,340L192,340L192.6,340L193.1,340L193.6,340L194.1,340L194.6,340L195.1,340L195.7,340L196.2,340L196.7,340L196.7,340.2Z" fill="url(#gE)"/><path d="M131.9,340.2L131.9,340.1L132.5,340L133,339.9L133.5,339.8L134,339.6L134.5,339.4L135,339.2L135.6,338.8L136.1,338.4L136.6,337.8L137.1,337.2L137.6,336.4L138.2,335.4L138.7,334.3L139.2,333.1L139.7,331.7L140.2,330.1L140.7,328.4L141.3,326.7L141.8,324.9L142.3,323L142.8,321.2L143.3,319.5L143.9,317.9L144.4,316.6L144.9,315.4L145.4,314.6L145.9,314.1L146.4,313.9L147,314.1L147.5,314.6L148,315.4L148.5,316.6L149,317.9L149.6,319.5L150.1,321.2L150.6,323L151.1,324.9L151.6,326.7L152.1,328.4L152.7,330.1L153.2,331.7L153.7,333.1L154.2,334.3L154.7,335.4L155.3,336.4L155.8,337.2L156.3,337.8L156.8,338.4L157.3,338.8L157.8,339.2L158.4,339.4L158.9,339.6L159.4,339.8L159.9,339.9L160.4,340L161,340.1L161,340.2Z" fill="url(#gP)"/><path d="M134,340.2L134,340L134.5,340L135,339.9L135.6,339.9L136.1,339.8L136.6,339.7L137.1,339.5L137.6,339.4L138.2,339.2L138.7,339.1L139.2,338.9L139.7,338.7L140.2,338.4L140.7,338.2L141.3,337.9L141.8,337.7L142.3,337.4L142.8,337.1L143.3,336.8L143.9,336.5L144.4,336.2L144.9,335.9L145.4,335.6L145.9,335.3L146.4,335.1L147,334.8L147.5,334.5L148,334.2L148.5,334L149,333.7L149.6,333.5L150.1,333.3L150.6,333.1L151.1,332.9L151.6,332.7L152.1,332.5L152.7,332.3L153.2,332.2L153.7,332L154.2,331.9L154.7,331.8L155.3,331.7L155.8,331.7L156.3,331.6L156.8,331.6L157.3,331.6L157.8,331.6L158.4,331.6L158.9,331.6L159.4,331.6L159.9,331.7L160.4,331.8L161,331.8L161.5,331.9L162,332.1L162.5,332.2L163,332.3L163.5,332.5L164.1,332.6L164.6,332.8L165.1,332.9L165.6,333.1L166.1,333.3L166.7,333.5L167.2,333.7L167.7,333.9L168.2,334.1L168.7,334.3L169.2,334.5L169.8,334.7L170.3,334.9L170.8,335.2L171.3,335.4L171.8,335.6L172.4,335.8L172.9,336L173.4,336.2L173.9,336.4L174.4,336.6L174.9,336.8L175.5,337L176,337.1L176.5,337.3L177,337.5L177.5,337.6L178.1,337.8L178.6,338L179.1,338.1L179.6,338.2L180.1,338.4L180.6,338.5L181.2,338.6L181.7,338.7L182.2,338.8L182.7,338.9L183.2,339L183.8,339.1L184.3,339.2L184.8,339.3L185.3,339.4L185.8,339.4L186.3,339.5L186.9,339.6L187.4,339.6L187.9,339.7L188.4,339.7L188.9,339.8L189.4,339.8L190,339.8L190.5,339.9L191,339.9L191.5,339.9L192,340L192.6,340L193.1,340L193.6,340L194.1,340.1L194.1,340.2Z" fill="url(#gM)"/><path d="M118.5,338.1 L119,338 L119.5,337.8 L120,337.7 L120.5,337.5 L121.1,337.4 L121.6,337.2 L122.1,337 L122.6,336.7 L123.1,336.4 L123.7,336 L124.2,335.4 L124.7,334.7 L125.2,333.7 L125.7,332.3 L126.2,330.2 L126.8,327.2 L127.3,323 L127.8,317.2 L128.3,309.2 L128.8,298.6 L129.4,284.7 L129.9,267 L130.4,249 L130.9,249 L131.4,249 L131.9,249 L132.5,249 L133,249 L133.5,249 L134,249 L134.5,249 L135,249 L135.6,249 L136.1,249 L136.6,249 L137.1,249 L137.6,249 L138.2,249 L138.7,249 L139.2,249 L139.7,249 L140.2,249 L140.7,249 L141.3,249 L141.8,249 L142.3,249 L142.8,249 L143.3,253.9 L143.9,266.9 L144.4,276.7 L144.9,283.7 L145.4,288.7 L145.9,292.3 L146.4,294.8 L147,296.6 L147.5,298.1 L148,299.4 L148.5,300.6 L149,301.9 L149.6,303.3 L150.1,304.8 L150.6,306.3 L151.1,307.9 L151.6,309.6 L152.1,311.2 L152.7,312.8 L153.2,314.3 L153.7,315.8 L154.2,317.1 L154.7,318.4 L155.3,319.6 L155.8,320.8 L156.3,321.8 L156.8,322.8 L157.3,323.7 L157.8,324.5 L158.4,325.3 L158.9,326 L159.4,326.6 L159.9,327.3 L160.4,327.8 L161,328.4 L161.5,328.9 L162,329.4 L162.5,329.8 L163,330.2 L163.5,330.6 L164.1,330.9 L164.6,331.3 L165.1,331.6 L165.6,331.9 L166.1,332.2 L166.7,332.5 L167.2,332.8 L167.7,333 L168.2,333.3 L168.7,333.5 L169.2,333.8 L169.8,334 L170.3,334.3 L170.8,334.5 L171.3,334.8 L171.8,335 L172.4,335.2 L172.9,335.4 L173.4,335.7 L173.9,335.9 L174.4,336.1 L174.9,336.3 L175.5,336.5 L176,336.7 L176.5,336.9 L177,337 L177.5,337.2 L178.1,337.4 L178.6,337.5 L179.1,337.7 L179.6,337.8 L180.1,338 L180.6,338.1 L181.2,338.3 L181.7,338.4 L182.2,338.5 L182.7,338.6 L183.2,338.7 L183.8,338.8 L184.3,338.9 L184.8,339 L185.3,339.1 L185.8,339.1 L186.3,339.2 L186.9,339.3 L187.4,339.3 L187.9,339.4 L188.4,339.4 L188.9,339.5 L189.4,339.5 L190,339.6 L190.5,339.6 L191,339.7 L191.5,339.7 L192,339.7 L192.6,339.8 L193.1,339.8 L193.6,339.8 L194.1,339.8 L194.6,339.9 L195.1,339.9 L195.7,339.9 L196.2,339.9 L196.7,339.9" fill="none" stroke="#ea1a20" stroke-width="1.2" stroke-linejoin="round"/><path d="M119,337.7h0M120.9,337.4h0M122.8,336.2h0M124.7,334.9h0M126.6,328.4h0M128.5,305.8h0M145.6,289h0M147.5,298.1h0M149.4,302.7h0M151.3,309.6h0M153.2,313.9h0M155.1,319.1h0M157,323.1h0M158.9,326.5h0M160.8,328.7h0M162.7,330h0M164.6,331.1h0M166.5,332.1h0M168.4,333.3h0M170.3,334.5h0M172.2,334.2h0M174.1,335.8h0M176,336.5h0M177.9,337.7h0M179.8,337.7h0M181.7,338.3h0M183.6,338.9h0M185.5,339h0M187.4,339.1h0M189.3,340.6h0M191.2,339.7h0M193.1,339.4h0M195,340.2h0M196.9,339.4h0" stroke="#1a0000" stroke-width="1.85" stroke-linecap="round" fill="none"/></g>
<rect x="118.7" y="267" width="77.7" height="73.2" fill="none" stroke="#000" stroke-width="1.25"/>
<path d="M118.7,322.9h3M118.7,305.6h3M118.7,288.3h3M118.7,271h3M135.7,340.2v-2.3M153,340.2v-2.3M170.3,340.2v-2.3M187.6,340.2v-2.3" stroke="#000" stroke-width="1"/>
<text x="192.1" y="276.7" font-size="8.5" class="t" text-anchor="end">(0.31, 0.31)</text>
<text x="135.7" y="349.5" font-size="8.2" class="t" text-anchor="middle">0</text>
<text x="153" y="349.5" font-size="8.2" class="t" text-anchor="middle">100</text>
<text x="170.3" y="349.5" font-size="8.2" class="t" text-anchor="middle">200</text>
<text x="187.6" y="349.5" font-size="8.2" class="t" text-anchor="middle">300</text>
<g clip-path="url(#c32)"><path d="M199.7,340.2L199.7,338L200.2,337.9L200.7,337.7L201.3,337.6L201.8,337.4L202.3,337.2L202.8,337L203.3,336.8L203.9,336.5L204.4,336.1L204.9,335.6L205.4,334.9L205.9,334L206.4,332.6L207,330.7L207.5,328L208,324.1L208.5,318.7L209,311.3L209.6,301.3L210.1,288.2L210.6,271.5L211.1,266.3L211.6,266.3L212.1,266.3L212.7,266.3L213.2,266.3L213.7,266.3L214.2,266.3L214.7,266.3L215.3,266.3L215.8,266.3L216.3,266.3L216.8,266.3L217.3,266.3L217.8,266.3L218.4,266.3L218.9,266.3L219.4,266.3L219.9,266.3L220.4,266.3L221,266.3L221.5,266.3L222,266.3L222.5,266.3L223,266.3L223.5,266.3L224.1,275.2L224.6,291.1L225.1,303.6L225.6,313L226.1,320L226.7,325L227.2,328.6L227.7,331.2L228.2,332.9L228.7,334.2L229.2,335.1L229.8,335.7L230.3,336.2L230.8,336.5L231.3,336.8L231.8,337.1L232.4,337.3L232.9,337.4L233.4,337.6L233.9,337.7L234.4,337.9L234.9,338L235.5,338.1L236,338.2L236.5,338.3L237,338.4L237.5,338.5L238,338.6L238.6,338.7L239.1,338.7L239.6,338.8L240.1,338.8L240.6,338.9L241.2,339L241.7,339L242.2,339.1L242.7,339.1L243.2,339.1L243.7,339.2L244.3,339.2L244.8,339.3L245.3,339.3L245.8,339.3L246.3,339.3L246.9,339.4L247.4,339.4L247.9,339.4L248.4,339.5L248.9,339.5L249.4,339.5L250,339.5L250.5,339.5L251,339.6L251.5,339.6L252,339.6L252.6,339.6L253.1,339.6L253.6,339.6L254.1,339.7L254.6,339.7L255.1,339.7L255.7,339.7L256.2,339.7L256.7,339.7L257.2,339.7L257.7,339.8L258.3,339.8L258.8,339.8L259.3,339.8L259.8,339.8L260.3,339.8L260.8,339.8L261.4,339.8L261.9,339.8L262.4,339.8L262.9,339.8L263.4,339.9L264,339.9L264.5,339.9L265,339.9L265.5,339.9L266,339.9L266.5,339.9L267.1,339.9L267.6,339.9L268.1,339.9L268.6,339.9L269.1,339.9L269.7,339.9L270.2,339.9L270.7,339.9L271.2,339.9L271.7,340L272.2,340L272.8,340L273.3,340L273.8,340L274.3,340L274.8,340L275.4,340L275.9,340L276.4,340L276.9,340L277.4,340L277.9,340L277.9,340.2Z" fill="url(#gE)"/><path d="M214.2,340.2L214.2,340L214.7,340L215.3,339.9L215.8,339.7L216.3,339.6L216.8,339.3L217.3,339L217.8,338.6L218.4,338.1L218.9,337.5L219.4,336.8L219.9,336L220.4,334.9L221,333.8L221.5,332.4L222,330.9L222.5,329.3L223,327.5L223.5,325.7L224.1,323.8L224.6,322L225.1,320.1L225.6,318.4L226.1,316.9L226.7,315.5L227.2,314.5L227.7,313.7L228.2,313.3L228.7,313.2L229.2,313.5L229.8,314.2L230.3,315.1L230.8,316.4L231.3,317.9L231.8,319.5L232.4,321.3L232.9,323.2L233.4,325.1L233.9,326.9L234.4,328.7L234.9,330.4L235.5,331.9L236,333.3L236.5,334.6L237,335.6L237.5,336.5L238,337.3L238.6,338L239.1,338.5L239.6,338.9L240.1,339.2L240.6,339.5L241.2,339.7L241.7,339.8L242.2,339.9L242.7,340L242.7,340.2Z" fill="url(#gP)"/><path d="M215.8,340.2L215.8,340L216.3,340L216.8,339.9L217.3,339.8L217.8,339.8L218.4,339.7L218.9,339.5L219.4,339.4L219.9,339.3L220.4,339.1L221,338.9L221.5,338.7L222,338.5L222.5,338.3L223,338L223.5,337.8L224.1,337.6L224.6,337.3L225.1,337L225.6,336.8L226.1,336.5L226.7,336.3L227.2,336L227.7,335.7L228.2,335.5L228.7,335.2L229.2,335L229.8,334.8L230.3,334.5L230.8,334.3L231.3,334.1L231.8,333.9L232.4,333.7L232.9,333.5L233.4,333.3L233.9,333.1L234.4,333L234.9,332.9L235.5,332.7L236,332.6L236.5,332.5L237,332.4L237.5,332.4L238,332.3L238.6,332.3L239.1,332.3L239.6,332.2L240.1,332.2L240.6,332.3L241.2,332.3L241.7,332.4L242.2,332.4L242.7,332.5L243.2,332.6L243.7,332.7L244.3,332.8L244.8,332.9L245.3,333L245.8,333.2L246.3,333.3L246.9,333.5L247.4,333.6L247.9,333.8L248.4,334L248.9,334.2L249.4,334.3L250,334.5L250.5,334.7L251,334.9L251.5,335.1L252,335.3L252.6,335.5L253.1,335.7L253.6,335.9L254.1,336.1L254.6,336.3L255.1,336.4L255.7,336.6L256.2,336.8L256.7,337L257.2,337.2L257.7,337.3L258.3,337.5L258.8,337.6L259.3,337.8L259.8,337.9L260.3,338.1L260.8,338.2L261.4,338.4L261.9,338.5L262.4,338.6L262.9,338.7L263.4,338.8L264,338.9L264.5,339L265,339.1L265.5,339.2L266,339.3L266.5,339.3L267.1,339.4L267.6,339.5L268.1,339.5L268.6,339.6L269.1,339.7L269.7,339.7L270.2,339.7L270.7,339.8L271.2,339.8L271.7,339.9L272.2,339.9L272.8,339.9L273.3,340L273.8,340L274.3,340L274.8,340L275.4,340L275.4,340.2Z" fill="url(#gM)"/><path d="M199.7,338 L200.2,337.9 L200.7,337.7 L201.3,337.6 L201.8,337.4 L202.3,337.2 L202.8,337 L203.3,336.8 L203.9,336.5 L204.4,336.1 L204.9,335.6 L205.4,334.9 L205.9,334 L206.4,332.6 L207,330.7 L207.5,328 L208,324.1 L208.5,318.7 L209,311.3 L209.6,301.3 L210.1,288.2 L210.6,271.5 L211.1,250.6 L211.6,249 L212.1,249 L212.7,249 L213.2,249 L213.7,249 L214.2,249 L214.7,249 L215.3,249 L215.8,249 L216.3,249 L216.8,249 L217.3,249 L217.8,249 L218.4,249 L218.9,249 L219.4,249 L219.9,249 L220.4,249 L221,249 L221.5,249 L222,249 L222.5,249 L223,249 L223.5,249 L224.1,255.1 L224.6,268.8 L225.1,278.9 L225.6,286 L226.1,290.9 L226.7,294 L227.2,296 L227.7,297.1 L228.2,297.8 L228.7,298.3 L229.2,298.8 L229.8,299.5 L230.3,300.3 L230.8,301.3 L231.3,302.5 L231.8,303.9 L232.4,305.4 L232.9,307.1 L233.4,308.8 L233.9,310.5 L234.4,312.3 L234.9,314 L235.5,315.7 L236,317.2 L236.5,318.7 L237,320.1 L237.5,321.4 L238,322.5 L238.6,323.6 L239.1,324.6 L239.6,325.5 L240.1,326.3 L240.6,327 L241.2,327.7 L241.7,328.3 L242.2,328.9 L242.7,329.4 L243.2,329.8 L243.7,330.3 L244.3,330.7 L244.8,331 L245.3,331.4 L245.8,331.7 L246.3,332 L246.9,332.3 L247.4,332.6 L247.9,332.8 L248.4,333.1 L248.9,333.3 L249.4,333.5 L250,333.8 L250.5,334 L251,334.2 L251.5,334.5 L252,334.7 L252.6,334.9 L253.1,335.1 L253.6,335.3 L254.1,335.5 L254.6,335.7 L255.1,335.9 L255.7,336.1 L256.2,336.3 L256.7,336.5 L257.2,336.7 L257.7,336.9 L258.3,337.1 L258.8,337.2 L259.3,337.4 L259.8,337.5 L260.3,337.7 L260.8,337.8 L261.4,338 L261.9,338.1 L262.4,338.2 L262.9,338.4 L263.4,338.5 L264,338.6 L264.5,338.7 L265,338.8 L265.5,338.9 L266,339 L266.5,339 L267.1,339.1 L267.6,339.2 L268.1,339.3 L268.6,339.3 L269.1,339.4 L269.7,339.4 L270.2,339.5 L270.7,339.5 L271.2,339.6 L271.7,339.6 L272.2,339.7 L272.8,339.7 L273.3,339.7 L273.8,339.7 L274.3,339.8 L274.8,339.8 L275.4,339.8 L275.9,339.8 L276.4,339.9 L276.9,339.9 L277.4,339.9 L277.9,339.9" fill="none" stroke="#ea1a20" stroke-width="1.2" stroke-linejoin="round"/><path d="M200.2,337.6h0M202.1,337.8h0M204,336.1h0M205.9,334h0M207.8,325.6h0M209.7,296.2h0M224.9,276.1h0M226.8,295h0M228.7,298.4h0M230.6,300.9h0M232.5,306.5h0M234.4,311.5h0M236.3,318.8h0M238.2,322.9h0M240.1,326h0M242,329.3h0M243.9,330.9h0M245.8,332h0M247.7,332.3h0M249.6,333.7h0M251.5,335h0M253.4,335.5h0M255.3,335.4h0M257.2,336.7h0M259.1,337.2h0M261,338.2h0M262.9,338.1h0M264.8,339h0M266.7,338.7h0M268.6,339.1h0M270.5,339.8h0M272.4,339.4h0M274.3,340.5h0M276.2,339.1h0M278.1,339.9h0" stroke="#1a0000" stroke-width="1.85" stroke-linecap="round" fill="none"/></g>
<rect x="200" y="267" width="77.7" height="73.2" fill="none" stroke="#000" stroke-width="1.25"/>
<path d="M200,322.9h3M200,305.6h3M200,288.3h3M200,271h3M217,340.2v-2.3M234.2,340.2v-2.3M251.5,340.2v-2.3M268.8,340.2v-2.3" stroke="#000" stroke-width="1"/>
<text x="273.4" y="276.7" font-size="8.5" class="t" text-anchor="end">(0.28, 0.28)</text>
<text x="217" y="349.5" font-size="8.2" class="t" text-anchor="middle">0</text>
<text x="234.2" y="349.5" font-size="8.2" class="t" text-anchor="middle">100</text>
<text x="251.5" y="349.5" font-size="8.2" class="t" text-anchor="middle">200</text>
<text x="268.8" y="349.5" font-size="8.2" class="t" text-anchor="middle">300</text>
<g clip-path="url(#c33)"><path d="M280.9,340.2L280.9,337.9L281.5,337.8L282,337.6L282.5,337.5L283,337.3L283.5,337.1L284.1,336.9L284.6,336.6L285.1,336.3L285.6,335.8L286.1,335.2L286.6,334.4L287.2,333.3L287.7,331.6L288.2,329.3L288.7,326L289.2,321.3L289.8,314.8L290.3,306L290.8,294.3L291.3,279.2L291.8,266.3L292.3,266.3L292.9,266.3L293.4,266.3L293.9,266.3L294.4,266.3L294.9,266.3L295.5,266.3L296,266.3L296.5,266.3L297,266.3L297.5,266.3L298,266.3L298.6,266.3L299.1,266.3L299.6,266.3L300.1,266.3L300.6,266.3L301.2,266.3L301.7,266.3L302.2,266.3L302.7,266.3L303.2,266.3L303.7,266.3L304.3,266.3L304.8,267L305.3,284.7L305.8,298.6L306.3,309.2L306.9,317.2L307.4,323L307.9,327.2L308.4,330.2L308.9,332.3L309.4,333.7L310,334.7L310.5,335.4L311,336L311.5,336.4L312,336.7L312.6,337L313.1,337.2L313.6,337.4L314.1,337.5L314.6,337.7L315.1,337.8L315.7,338L316.2,338.1L316.7,338.2L317.2,338.3L317.7,338.4L318.3,338.5L318.8,338.5L319.3,338.6L319.8,338.7L320.3,338.8L320.8,338.8L321.4,338.9L321.9,338.9L322.4,339L322.9,339L323.4,339.1L324,339.1L324.5,339.2L325,339.2L325.5,339.2L326,339.3L326.5,339.3L327.1,339.3L327.6,339.4L328.1,339.4L328.6,339.4L329.1,339.4L329.7,339.5L330.2,339.5L330.7,339.5L331.2,339.5L331.7,339.6L332.2,339.6L332.8,339.6L333.3,339.6L333.8,339.6L334.3,339.6L334.8,339.7L335.4,339.7L335.9,339.7L336.4,339.7L336.9,339.7L337.4,339.7L337.9,339.7L338.5,339.7L339,339.8L339.5,339.8L340,339.8L340.5,339.8L341,339.8L341.6,339.8L342.1,339.8L342.6,339.8L343.1,339.8L343.6,339.8L344.2,339.9L344.7,339.9L345.2,339.9L345.7,339.9L346.2,339.9L346.7,339.9L347.3,339.9L347.8,339.9L348.3,339.9L348.8,339.9L349.3,339.9L349.9,339.9L350.4,339.9L350.9,339.9L351.4,339.9L351.9,339.9L352.4,339.9L353,340L353.5,340L354,340L354.5,340L355,340L355.6,340L356.1,340L356.6,340L357.1,340L357.6,340L358.1,340L358.7,340L359.2,340L359.2,340.2Z" fill="url(#gE)"/><path d="M294.9,340.2L294.9,340.1L295.5,340L296,339.9L296.5,339.8L297,339.6L297.5,339.4L298,339.1L298.6,338.7L299.1,338.3L299.6,337.7L300.1,337L300.6,336.2L301.2,335.2L301.7,334L302.2,332.7L302.7,331.2L303.2,329.6L303.7,327.8L304.3,326L304.8,324.1L305.3,322.1L305.8,320.2L306.3,318.4L306.9,316.8L307.4,315.3L307.9,314.1L308.4,313.2L308.9,312.7L309.4,312.5L310,312.7L310.5,313.2L311,314.1L311.5,315.3L312,316.8L312.6,318.4L313.1,320.2L313.6,322.1L314.1,324.1L314.6,326L315.1,327.8L315.7,329.6L316.2,331.2L316.7,332.7L317.2,334L317.7,335.2L318.3,336.2L318.8,337L319.3,337.7L319.8,338.3L320.3,338.7L320.8,339.1L321.4,339.4L321.9,339.6L322.4,339.8L322.9,339.9L323.4,340L324,340.1L324,340.2Z" fill="url(#gP)"/><path d="M297.5,340.2L297.5,340L298,340L298.6,339.9L299.1,339.8L299.6,339.8L300.1,339.7L300.6,339.6L301.2,339.4L301.7,339.3L302.2,339.1L302.7,339L303.2,338.8L303.7,338.6L304.3,338.4L304.8,338.2L305.3,338L305.8,337.8L306.3,337.6L306.9,337.4L307.4,337.1L307.9,336.9L308.4,336.7L308.9,336.4L309.4,336.2L310,336L310.5,335.8L311,335.5L311.5,335.3L312,335.1L312.6,334.9L313.1,334.7L313.6,334.5L314.1,334.4L314.6,334.2L315.1,334L315.7,333.9L316.2,333.7L316.7,333.6L317.2,333.5L317.7,333.3L318.3,333.2L318.8,333.2L319.3,333.1L319.8,333L320.3,333L320.8,333L321.4,332.9L321.9,332.9L322.4,332.9L322.9,333L323.4,333L324,333.1L324.5,333.1L325,333.2L325.5,333.3L326,333.4L326.5,333.5L327.1,333.6L327.6,333.7L328.1,333.8L328.6,334L329.1,334.1L329.7,334.3L330.2,334.4L330.7,334.6L331.2,334.7L331.7,334.9L332.2,335.1L332.8,335.3L333.3,335.4L333.8,335.6L334.3,335.8L334.8,336L335.4,336.1L335.9,336.3L336.4,336.5L336.9,336.7L337.4,336.8L337.9,337L338.5,337.2L339,337.3L339.5,337.5L340,337.6L340.5,337.8L341,337.9L341.6,338.1L342.1,338.2L342.6,338.3L343.1,338.4L343.6,338.6L344.2,338.7L344.7,338.8L345.2,338.9L345.7,339L346.2,339.1L346.7,339.1L347.3,339.2L347.8,339.3L348.3,339.4L348.8,339.4L349.3,339.5L349.9,339.6L350.4,339.6L350.9,339.7L351.4,339.7L351.9,339.8L352.4,339.8L353,339.8L353.5,339.9L354,339.9L354.5,339.9L355,340L355.6,340L356.1,340L356.6,340L357.1,340L357.1,340.2Z" fill="url(#gM)"/><path d="M280.9,337.9 L281.5,337.8 L282,337.6 L282.5,337.5 L283,337.3 L283.5,337.1 L284.1,336.9 L284.6,336.6 L285.1,336.3 L285.6,335.8 L286.1,335.2 L286.6,334.4 L287.2,333.3 L287.7,331.6 L288.2,329.3 L288.7,326 L289.2,321.3 L289.8,314.8 L290.3,306 L290.8,294.3 L291.3,279.2 L291.8,260.2 L292.3,249 L292.9,249 L293.4,249 L293.9,249 L294.4,249 L294.9,249 L295.5,249 L296,249 L296.5,249 L297,249 L297.5,249 L298,249 L298.6,249 L299.1,249 L299.6,249 L300.1,249 L300.6,249 L301.2,249 L301.7,249 L302.2,249 L302.7,249 L303.2,249 L303.7,249 L304.3,249 L304.8,249 L305.3,263.4 L305.8,275 L306.3,283.4 L306.9,289.2 L307.4,293 L307.9,295.5 L308.4,297 L308.9,297.9 L309.4,298.5 L310,299.1 L310.5,299.7 L311,300.5 L311.5,301.5 L312,302.6 L312.6,304 L313.1,305.5 L313.6,307.1 L314.1,308.9 L314.6,310.6 L315.1,312.4 L315.7,314.1 L316.2,315.7 L316.7,317.3 L317.2,318.8 L317.7,320.2 L318.3,321.5 L318.8,322.6 L319.3,323.7 L319.8,324.7 L320.3,325.6 L320.8,326.4 L321.4,327.2 L321.9,327.8 L322.4,328.5 L322.9,329 L323.4,329.5 L324,330 L324.5,330.4 L325,330.8 L325.5,331.2 L326,331.5 L326.5,331.8 L327.1,332.1 L327.6,332.4 L328.1,332.7 L328.6,332.9 L329.1,333.1 L329.7,333.4 L330.2,333.6 L330.7,333.8 L331.2,334 L331.7,334.2 L332.2,334.4 L332.8,334.6 L333.3,334.8 L333.8,335 L334.3,335.2 L334.8,335.4 L335.4,335.6 L335.9,335.8 L336.4,336 L336.9,336.2 L337.4,336.4 L337.9,336.5 L338.5,336.7 L339,336.9 L339.5,337 L340,337.2 L340.5,337.4 L341,337.5 L341.6,337.7 L342.1,337.8 L342.6,337.9 L343.1,338.1 L343.6,338.2 L344.2,338.3 L344.7,338.4 L345.2,338.5 L345.7,338.6 L346.2,338.7 L346.7,338.8 L347.3,338.9 L347.8,339 L348.3,339.1 L348.8,339.2 L349.3,339.2 L349.9,339.3 L350.4,339.3 L350.9,339.4 L351.4,339.5 L351.9,339.5 L352.4,339.5 L353,339.6 L353.5,339.6 L354,339.7 L354.5,339.7 L355,339.7 L355.6,339.8 L356.1,339.8 L356.6,339.8 L357.1,339.8 L357.6,339.9 L358.1,339.9 L358.7,339.9 L359.2,339.9" fill="none" stroke="#ea1a20" stroke-width="1.2" stroke-linejoin="round"/><path d="M281.5,337.6h0M283.4,337.2h0M285.3,336.3h0M287.2,333h0M289.1,322.7h0M291,289.7h0M306.2,281.6h0M308.1,295.9h0M310,299h0M311.9,303h0M313.8,307.5h0M315.7,314.2h0M317.6,320.1h0M319.5,324h0M321.4,327.3h0M323.3,329.1h0M325.2,331.1h0M327.1,332h0M329,332.6h0M330.9,334.1h0M332.8,334h0M334.7,335.3h0M336.6,335.8h0M338.5,337.2h0M340.4,337.4h0M342.3,338.1h0M344.2,339h0M346.1,338.2h0M348,338.9h0M349.9,339.4h0M351.8,338.9h0M353.7,340.4h0M355.6,339.6h0M357.5,339.7h0M359.4,339.7h0" stroke="#1a0000" stroke-width="1.85" stroke-linecap="round" fill="none"/></g>
<rect x="281.2" y="267" width="77.7" height="73.2" fill="none" stroke="#000" stroke-width="1.25"/>
<path d="M281.2,322.9h3M281.2,305.6h3M281.2,288.3h3M281.2,271h3M298.2,340.2v-2.3M315.5,340.2v-2.3M332.8,340.2v-2.3M350,340.2v-2.3" stroke="#000" stroke-width="1"/>
<text x="354.6" y="276.7" font-size="8.5" class="t" text-anchor="end">(0.25, 0.25)</text>
<text x="298.2" y="349.5" font-size="8.2" class="t" text-anchor="middle">0</text>
<text x="315.5" y="349.5" font-size="8.2" class="t" text-anchor="middle">100</text>
<text x="332.8" y="349.5" font-size="8.2" class="t" text-anchor="middle">200</text>
<text x="350" y="349.5" font-size="8.2" class="t" text-anchor="middle">300</text>
<g clip-path="url(#c34)"><path d="M362.2,340.2L362.2,338.1L362.7,338L363.2,337.8L363.7,337.7L364.3,337.5L364.8,337.4L365.3,337.2L365.8,336.9L366.3,336.6L366.9,336.3L367.4,335.8L367.9,335.2L368.4,334.4L368.9,333.1L369.4,331.4L370,329L370.5,325.5L371,320.8L371.5,314.2L372,305.4L372.6,293.8L373.1,279L373.6,266.3L374.1,266.3L374.6,266.3L375.1,266.3L375.7,266.3L376.2,266.3L376.7,266.3L377.2,266.3L377.7,266.3L378.3,266.3L378.8,266.3L379.3,266.3L379.8,266.3L380.3,266.3L380.8,266.3L381.4,266.3L381.9,266.3L382.4,266.3L382.9,266.3L383.4,266.3L384,266.3L384.5,266.3L385,266.3L385.5,266.3L386,266.3L386.5,266.3L387.1,273.2L387.6,289.3L388.1,301.9L388.6,311.5L389.1,318.8L389.6,324.1L390.2,328L390.7,330.7L391.2,332.6L391.7,334L392.2,335L392.8,335.6L393.3,336.1L393.8,336.5L394.3,336.8L394.8,337.1L395.3,337.3L395.9,337.5L396.4,337.6L396.9,337.8L397.4,337.9L397.9,338L398.5,338.1L399,338.3L399.5,338.3L400,338.4L400.5,338.5L401,338.6L401.6,338.7L402.1,338.7L402.6,338.8L403.1,338.9L403.6,338.9L404.2,339L404.7,339L405.2,339.1L405.7,339.1L406.2,339.1L406.7,339.2L407.3,339.2L407.8,339.3L408.3,339.3L408.8,339.3L409.3,339.4L409.9,339.4L410.4,339.4L410.9,339.4L411.4,339.5L411.9,339.5L412.4,339.5L413,339.5L413.5,339.5L414,339.6L414.5,339.6L415,339.6L415.6,339.6L416.1,339.6L416.6,339.7L417.1,339.7L417.6,339.7L418.1,339.7L418.7,339.7L419.2,339.7L419.7,339.7L420.2,339.7L420.7,339.8L421.3,339.8L421.8,339.8L422.3,339.8L422.8,339.8L423.3,339.8L423.8,339.8L424.4,339.8L424.9,339.8L425.4,339.8L425.9,339.8L426.4,339.9L427,339.9L427.5,339.9L428,339.9L428.5,339.9L429,339.9L429.5,339.9L430.1,339.9L430.6,339.9L431.1,339.9L431.6,339.9L432.1,339.9L432.7,339.9L433.2,339.9L433.7,339.9L434.2,339.9L434.7,340L435.2,340L435.8,340L436.3,340L436.8,340L437.3,340L437.8,340L438.4,340L438.9,340L439.4,340L439.9,340L440.4,340L440.4,340.2Z" fill="url(#gE)"/><path d="M376.2,340.2L376.2,340L376.7,340L377.2,339.9L377.7,339.7L378.3,339.6L378.8,339.3L379.3,339L379.8,338.7L380.3,338.2L380.8,337.6L381.4,336.9L381.9,336.1L382.4,335.1L382.9,333.9L383.4,332.6L384,331.2L384.5,329.6L385,327.9L385.5,326.1L386,324.3L386.5,322.4L387.1,320.6L387.6,319L388.1,317.5L388.6,316.2L389.1,315.1L389.6,314.4L390.2,314L390.7,313.9L391.2,314.2L391.7,314.8L392.2,315.8L392.8,317L393.3,318.4L393.8,320.1L394.3,321.8L394.8,323.6L395.3,325.5L395.9,327.3L396.4,329L396.9,330.6L397.4,332.1L397.9,333.5L398.5,334.7L399,335.7L399.5,336.6L400,337.4L400.5,338L401,338.5L401.6,338.9L402.1,339.2L402.6,339.5L403.1,339.7L403.6,339.8L404.2,339.9L404.7,340L404.7,340.2Z" fill="url(#gP)"/><path d="M378.3,340.2L378.3,340L378.8,340L379.3,339.9L379.8,339.8L380.3,339.8L380.8,339.7L381.4,339.5L381.9,339.4L382.4,339.3L382.9,339.1L383.4,338.9L384,338.7L384.5,338.5L385,338.3L385.5,338.1L386,337.9L386.5,337.6L387.1,337.4L387.6,337.2L388.1,336.9L388.6,336.7L389.1,336.4L389.6,336.2L390.2,335.9L390.7,335.7L391.2,335.5L391.7,335.3L392.2,335L392.8,334.8L393.3,334.6L393.8,334.4L394.3,334.3L394.8,334.1L395.3,333.9L395.9,333.8L396.4,333.6L396.9,333.5L397.4,333.4L397.9,333.3L398.5,333.2L399,333.1L399.5,333L400,333L400.5,333L401,332.9L401.6,332.9L402.1,332.9L402.6,333L403.1,333L403.6,333L404.2,333.1L404.7,333.2L405.2,333.2L405.7,333.3L406.2,333.4L406.7,333.5L407.3,333.7L407.8,333.8L408.3,333.9L408.8,334.1L409.3,334.2L409.9,334.4L410.4,334.5L410.9,334.7L411.4,334.8L411.9,335L412.4,335.2L413,335.4L413.5,335.5L414,335.7L414.5,335.9L415,336.1L415.6,336.3L416.1,336.4L416.6,336.6L417.1,336.8L417.6,336.9L418.1,337.1L418.7,337.3L419.2,337.4L419.7,337.6L420.2,337.7L420.7,337.9L421.3,338L421.8,338.1L422.3,338.3L422.8,338.4L423.3,338.5L423.8,338.6L424.4,338.7L424.9,338.8L425.4,338.9L425.9,339L426.4,339.1L427,339.2L427.5,339.3L428,339.3L428.5,339.4L429,339.5L429.5,339.5L430.1,339.6L430.6,339.7L431.1,339.7L431.6,339.7L432.1,339.8L432.7,339.8L433.2,339.9L433.7,339.9L434.2,339.9L434.7,339.9L435.2,340L435.8,340L436.3,340L436.8,340L437.3,340.1L437.3,340.2Z" fill="url(#gM)"/><path d="M362.2,338.1 L362.7,338 L363.2,337.8 L363.7,337.7 L364.3,337.5 L364.8,337.4 L365.3,337.2 L365.8,336.9 L366.3,336.6 L366.9,336.3 L367.4,335.8 L367.9,335.2 L368.4,334.4 L368.9,333.1 L369.4,331.4 L370,329 L370.5,325.5 L371,320.8 L371.5,314.2 L372,305.4 L372.6,293.8 L373.1,278.9 L373.6,260.3 L374.1,249 L374.6,249 L375.1,249 L375.7,249 L376.2,249 L376.7,249 L377.2,249 L377.7,249 L378.3,249 L378.8,249 L379.3,249 L379.8,249 L380.3,249 L380.8,249 L381.4,249 L381.9,249 L382.4,249 L382.9,249 L383.4,249 L384,249 L384.5,249 L385,249 L385.5,249 L386,249 L386.5,249 L387.1,249.6 L387.6,263.5 L388.1,274.1 L388.6,281.9 L389.1,287.6 L389.6,291.6 L390.2,294.4 L390.7,296.4 L391.2,298 L391.7,299.3 L392.2,300.6 L392.8,301.9 L393.3,303.3 L393.8,304.7 L394.3,306.3 L394.8,307.9 L395.3,309.6 L395.9,311.3 L396.4,313 L396.9,314.6 L397.4,316.2 L397.9,317.7 L398.5,319.1 L399,320.4 L399.5,321.6 L400,322.8 L400.5,323.8 L401,324.8 L401.6,325.7 L402.1,326.5 L402.6,327.2 L403.1,327.9 L403.6,328.5 L404.2,329.1 L404.7,329.7 L405.2,330.2 L405.7,330.6 L406.2,331 L406.7,331.4 L407.3,331.8 L407.8,332.1 L408.3,332.4 L408.8,332.7 L409.3,333 L409.9,333.3 L410.4,333.5 L410.9,333.8 L411.4,334 L411.9,334.2 L412.4,334.4 L413,334.6 L413.5,334.9 L414,335.1 L414.5,335.3 L415,335.5 L415.6,335.7 L416.1,335.9 L416.6,336.1 L417.1,336.2 L417.6,336.4 L418.1,336.6 L418.7,336.8 L419.2,336.9 L419.7,337.1 L420.2,337.3 L420.7,337.4 L421.3,337.6 L421.8,337.7 L422.3,337.9 L422.8,338 L423.3,338.1 L423.8,338.2 L424.4,338.4 L424.9,338.5 L425.4,338.6 L425.9,338.7 L426.4,338.8 L427,338.9 L427.5,338.9 L428,339 L428.5,339.1 L429,339.2 L429.5,339.2 L430.1,339.3 L430.6,339.4 L431.1,339.4 L431.6,339.5 L432.1,339.5 L432.7,339.6 L433.2,339.6 L433.7,339.6 L434.2,339.7 L434.7,339.7 L435.2,339.7 L435.8,339.8 L436.3,339.8 L436.8,339.8 L437.3,339.8 L437.8,339.9 L438.4,339.9 L438.9,339.9 L439.4,339.9 L439.9,339.9 L440.4,339.9" fill="none" stroke="#ea1a20" stroke-width="1.2" stroke-linejoin="round"/><path d="M362.7,337.8h0M364.6,337.7h0M366.5,336.8h0M368.4,333.8h0M370.3,327h0M372.2,302.4h0M389.3,288.7h0M391.2,297.9h0M393.1,302.5h0M395,308.4h0M396.9,314h0M398.8,320.2h0M400.7,324.2h0M402.6,326.5h0M404.5,329.6h0M406.4,331.2h0M408.3,332.5h0M410.2,333.2h0M412.1,334.3h0M414,335.2h0M415.9,336.4h0M417.8,336.7h0M419.7,337h0M421.6,337.7h0M423.5,338.2h0M425.4,338.9h0M427.3,338.6h0M429.2,339.6h0M431.1,339.6h0M433,339.2h0M434.9,339.8h0M436.8,339.8h0M438.7,339.3h0M440.6,339.7h0" stroke="#1a0000" stroke-width="1.85" stroke-linecap="round" fill="none"/></g>
<rect x="362.5" y="267" width="77.7" height="73.2" fill="none" stroke="#000" stroke-width="1.25"/>
<path d="M362.5,322.9h3M362.5,305.6h3M362.5,288.3h3M362.5,271h3M379.5,340.2v-2.3M396.7,340.2v-2.3M414,340.2v-2.3M431.3,340.2v-2.3" stroke="#000" stroke-width="1"/>
<text x="435.9" y="276.7" font-size="8.5" class="t" text-anchor="end">(0.22, 0.22)</text>
<text x="379.5" y="349.5" font-size="8.2" class="t" text-anchor="middle">0</text>
<text x="396.7" y="349.5" font-size="8.2" class="t" text-anchor="middle">100</text>
<text x="414" y="349.5" font-size="8.2" class="t" text-anchor="middle">200</text>
<text x="431.3" y="349.5" font-size="8.2" class="t" text-anchor="middle">300</text>
<g clip-path="url(#c35)"><path d="M443.4,340.2L443.4,337.9L443.9,337.8L444.5,337.7L445,337.5L445.5,337.3L446,337.1L446.5,336.8L447.1,336.4L447.6,335.9L448.1,335.3L448.6,334.4L449.1,333.2L449.6,331.4L450.2,329L450.7,325.6L451.2,321L451.7,314.7L452.2,306.5L452.8,295.7L453.3,282.1L453.8,266.3L454.3,266.3L454.8,266.3L455.3,266.3L455.9,266.3L456.4,266.3L456.9,266.3L457.4,266.3L457.9,266.3L458.5,266.3L459,266.3L459.5,266.3L460,266.3L460.5,266.3L461,266.3L461.6,266.3L462.1,266.3L462.6,266.3L463.1,266.3L463.6,266.3L464.2,266.3L464.7,266.3L465.2,266.3L465.7,266.3L466.2,266.3L466.7,266.3L467.3,266.3L467.8,266.3L468.3,280L468.8,294.1L469.3,305.2L469.9,313.8L470.4,320.3L470.9,325.1L471.4,328.6L471.9,331.1L472.4,333L473,334.3L473.5,335.2L474,335.9L474.5,336.4L475,336.7L475.6,337L476.1,337.3L476.6,337.5L477.1,337.6L477.6,337.8L478.1,337.9L478.7,338L479.2,338.2L479.7,338.3L480.2,338.4L480.7,338.4L481.3,338.5L481.8,338.6L482.3,338.7L482.8,338.7L483.3,338.8L483.8,338.9L484.4,338.9L484.9,339L485.4,339L485.9,339.1L486.4,339.1L487,339.2L487.5,339.2L488,339.2L488.5,339.3L489,339.3L489.5,339.3L490.1,339.4L490.6,339.4L491.1,339.4L491.6,339.4L492.1,339.5L492.6,339.5L493.2,339.5L493.7,339.5L494.2,339.5L494.7,339.6L495.2,339.6L495.8,339.6L496.3,339.6L496.8,339.6L497.3,339.7L497.8,339.7L498.3,339.7L498.9,339.7L499.4,339.7L499.9,339.7L500.4,339.7L500.9,339.7L501.5,339.8L502,339.8L502.5,339.8L503,339.8L503.5,339.8L504,339.8L504.6,339.8L505.1,339.8L505.6,339.8L506.1,339.8L506.6,339.9L507.2,339.9L507.7,339.9L508.2,339.9L508.7,339.9L509.2,339.9L509.7,339.9L510.3,339.9L510.8,339.9L511.3,339.9L511.8,339.9L512.3,339.9L512.9,339.9L513.4,339.9L513.9,339.9L514.4,339.9L514.9,339.9L515.4,340L516,340L516.5,340L517,340L517.5,340L518,340L518.6,340L519.1,340L519.6,340L520.1,340L520.6,340L521.1,340L521.7,340L521.7,340.2Z" fill="url(#gE)"/><path d="M457.4,340.2L457.4,340.1L457.9,340L458.5,339.9L459,339.8L459.5,339.6L460,339.4L460.5,339.2L461,338.8L461.6,338.4L462.1,337.9L462.6,337.2L463.1,336.4L463.6,335.5L464.2,334.4L464.7,333.2L465.2,331.8L465.7,330.2L466.2,328.6L466.7,326.9L467.3,325.1L467.8,323.3L468.3,321.5L468.8,319.8L469.3,318.2L469.9,316.9L470.4,315.8L470.9,314.9L471.4,314.4L471.9,314.2L472.4,314.4L473,314.9L473.5,315.8L474,316.9L474.5,318.2L475,319.8L475.6,321.5L476.1,323.3L476.6,325.1L477.1,326.9L477.6,328.6L478.1,330.2L478.7,331.8L479.2,333.2L479.7,334.4L480.2,335.5L480.7,336.4L481.3,337.2L481.8,337.9L482.3,338.4L482.8,338.8L483.3,339.2L483.8,339.4L484.4,339.6L484.9,339.8L485.4,339.9L485.9,340L486.4,340.1L486.4,340.2Z" fill="url(#gP)"/><path d="M459,340.2L459,340.1L459.5,340L460,340L460.5,339.9L461,339.8L461.6,339.7L462.1,339.6L462.6,339.5L463.1,339.3L463.6,339.2L464.2,339L464.7,338.8L465.2,338.6L465.7,338.4L466.2,338.1L466.7,337.9L467.3,337.6L467.8,337.3L468.3,337.1L468.8,336.8L469.3,336.5L469.9,336.3L470.4,336L470.9,335.7L471.4,335.5L471.9,335.2L472.4,335L473,334.7L473.5,334.5L474,334.2L474.5,334L475,333.8L475.6,333.6L476.1,333.4L476.6,333.3L477.1,333.1L477.6,333L478.1,332.8L478.7,332.7L479.2,332.6L479.7,332.5L480.2,332.4L480.7,332.3L481.3,332.3L481.8,332.3L482.3,332.2L482.8,332.2L483.3,332.3L483.8,332.3L484.4,332.3L484.9,332.4L485.4,332.4L485.9,332.5L486.4,332.6L487,332.7L487.5,332.8L488,332.9L488.5,333.1L489,333.2L489.5,333.4L490.1,333.5L490.6,333.7L491.1,333.9L491.6,334L492.1,334.2L492.6,334.4L493.2,334.6L493.7,334.8L494.2,335L494.7,335.2L495.2,335.4L495.8,335.6L496.3,335.8L496.8,335.9L497.3,336.1L497.8,336.3L498.3,336.5L498.9,336.7L499.4,336.9L499.9,337L500.4,337.2L500.9,337.4L501.5,337.5L502,337.7L502.5,337.9L503,338L503.5,338.1L504,338.3L504.6,338.4L505.1,338.5L505.6,338.6L506.1,338.7L506.6,338.9L507.2,339L507.7,339L508.2,339.1L508.7,339.2L509.2,339.3L509.7,339.4L510.3,339.4L510.8,339.5L511.3,339.6L511.8,339.6L512.3,339.7L512.9,339.7L513.4,339.8L513.9,339.8L514.4,339.8L514.9,339.9L515.4,339.9L516,339.9L516.5,340L517,340L517.5,340L518,340L518.6,340L518.6,340.2Z" fill="url(#gM)"/><path d="M443.4,337.9 L443.9,337.8 L444.5,337.7 L445,337.5 L445.5,337.3 L446,337.1 L446.5,336.8 L447.1,336.4 L447.6,335.9 L448.1,335.3 L448.6,334.4 L449.1,333.2 L449.6,331.4 L450.2,329 L450.7,325.6 L451.2,321 L451.7,314.7 L452.2,306.5 L452.8,295.7 L453.3,282.1 L453.8,265.1 L454.3,249 L454.8,249 L455.3,249 L455.9,249 L456.4,249 L456.9,249 L457.4,249 L457.9,249 L458.5,249 L459,249 L459.5,249 L460,249 L460.5,249 L461,249 L461.6,249 L462.1,249 L462.6,249 L463.1,249 L463.6,249 L464.2,249 L464.7,249 L465.2,249 L465.7,249 L466.2,249 L466.7,249 L467.3,249 L467.8,249 L468.3,257 L468.8,268.8 L469.3,277.8 L469.9,284.5 L470.4,289.2 L470.9,292.6 L471.4,295 L471.9,296.7 L472.4,298 L473,299.2 L473.5,300.3 L474,301.4 L474.5,302.7 L475,304 L475.6,305.5 L476.1,307.1 L476.6,308.7 L477.1,310.4 L477.6,312 L478.1,313.7 L478.7,315.3 L479.2,316.8 L479.7,318.2 L480.2,319.5 L480.7,320.8 L481.3,322 L481.8,323 L482.3,324 L482.8,324.9 L483.3,325.8 L483.8,326.5 L484.4,327.2 L484.9,327.9 L485.4,328.5 L485.9,329 L486.4,329.6 L487,330 L487.5,330.5 L488,330.9 L488.5,331.2 L489,331.6 L489.5,331.9 L490.1,332.2 L490.6,332.5 L491.1,332.8 L491.6,333.1 L492.1,333.3 L492.6,333.6 L493.2,333.8 L493.7,334 L494.2,334.3 L494.7,334.5 L495.2,334.7 L495.8,334.9 L496.3,335.2 L496.8,335.4 L497.3,335.6 L497.8,335.8 L498.3,336 L498.9,336.2 L499.4,336.4 L499.9,336.6 L500.4,336.8 L500.9,336.9 L501.5,337.1 L502,337.3 L502.5,337.4 L503,337.6 L503.5,337.7 L504,337.9 L504.6,338 L505.1,338.1 L505.6,338.3 L506.1,338.4 L506.6,338.5 L507.2,338.6 L507.7,338.7 L508.2,338.8 L508.7,338.9 L509.2,339 L509.7,339.1 L510.3,339.1 L510.8,339.2 L511.3,339.3 L511.8,339.3 L512.3,339.4 L512.9,339.4 L513.4,339.5 L513.9,339.5 L514.4,339.6 L514.9,339.6 L515.4,339.7 L516,339.7 L516.5,339.7 L517,339.8 L517.5,339.8 L518,339.8 L518.6,339.8 L519.1,339.8 L519.6,339.9 L520.1,339.9 L520.6,339.9 L521.1,339.9 L521.7,339.9" fill="none" stroke="#ea1a20" stroke-width="1.2" stroke-linejoin="round"/><path d="M443.9,337.2h0M445.8,337.3h0M447.7,335.4h0M449.6,331.5h0M451.5,317h0M453.4,277h0M468.6,265.1h0M470.5,290h0M472.4,297.8h0M474.3,302h0M476.2,307.5h0M478.1,314h0M480,319h0M481.9,323.9h0M483.8,327.1h0M485.7,328.4h0M487.6,330.1h0M489.5,331.8h0M491.4,333.6h0M493.3,333.9h0M495.2,334.6h0M497.1,335.3h0M499,336.7h0M500.9,336.8h0M502.8,337.4h0M504.7,337.6h0M506.6,338.6h0M508.5,339.1h0M510.4,338.8h0M512.3,339.7h0M514.2,339.3h0M516.1,339.6h0M518,339.6h0M519.9,339.6h0M521.8,339.6h0" stroke="#1a0000" stroke-width="1.85" stroke-linecap="round" fill="none"/></g>
<rect x="443.7" y="267" width="77.7" height="73.2" fill="none" stroke="#000" stroke-width="1.25"/>
<path d="M443.7,322.9h3M443.7,305.6h3M443.7,288.3h3M443.7,271h3M460.7,340.2v-2.3M478,340.2v-2.3M495.2,340.2v-2.3M512.5,340.2v-2.3" stroke="#000" stroke-width="1"/>
<text x="517.1" y="276.7" font-size="8.5" class="t" text-anchor="end">(0.18, 0.18)</text>
<text x="460.7" y="349.5" font-size="8.2" class="t" text-anchor="middle">0</text>
<text x="478" y="349.5" font-size="8.2" class="t" text-anchor="middle">100</text>
<text x="495.2" y="349.5" font-size="8.2" class="t" text-anchor="middle">200</text>
<text x="512.5" y="349.5" font-size="8.2" class="t" text-anchor="middle">300</text>
<g clip-path="url(#c36)"><path d="M524.7,340.2L524.7,337.9L525.2,337.8L525.7,337.6L526.2,337.4L526.7,337.2L527.3,336.9L527.8,336.6L528.3,336.1L528.8,335.4L529.3,334.5L529.9,333.3L530.4,331.6L530.9,329.3L531.4,326L531.9,321.7L532.4,315.9L533,308.3L533.5,298.6L534,286.2L534.5,271L535,266.3L535.6,266.3L536.1,266.3L536.6,266.3L537.1,266.3L537.6,266.3L538.1,266.3L538.7,266.3L539.2,266.3L539.7,266.3L540.2,266.3L540.7,266.3L541.2,266.3L541.8,266.3L542.3,266.3L542.8,266.3L543.3,266.3L543.8,266.3L544.4,266.3L544.9,266.3L545.4,266.3L545.9,266.3L546.4,266.3L546.9,266.3L547.5,266.3L548,266.3L548.5,266.3L549,266.3L549.5,268.7L550.1,284.4L550.6,297.1L551.1,307.1L551.6,315L552.1,321L552.6,325.5L553.2,328.9L553.7,331.3L554.2,333.1L554.7,334.4L555.2,335.3L555.8,336L556.3,336.5L556.8,336.9L557.3,337.2L557.8,337.4L558.3,337.6L558.9,337.8L559.4,337.9L559.9,338L560.4,338.2L560.9,338.3L561.5,338.4L562,338.4L562.5,338.5L563,338.6L563.5,338.7L564,338.7L564.6,338.8L565.1,338.9L565.6,338.9L566.1,339L566.6,339L567.2,339.1L567.7,339.1L568.2,339.2L568.7,339.2L569.2,339.2L569.7,339.3L570.3,339.3L570.8,339.3L571.3,339.4L571.8,339.4L572.3,339.4L572.9,339.4L573.4,339.5L573.9,339.5L574.4,339.5L574.9,339.5L575.4,339.5L576,339.6L576.5,339.6L577,339.6L577.5,339.6L578,339.6L578.6,339.7L579.1,339.7L579.6,339.7L580.1,339.7L580.6,339.7L581.1,339.7L581.7,339.7L582.2,339.7L582.7,339.8L583.2,339.8L583.7,339.8L584.3,339.8L584.8,339.8L585.3,339.8L585.8,339.8L586.3,339.8L586.8,339.8L587.4,339.8L587.9,339.9L588.4,339.9L588.9,339.9L589.4,339.9L590,339.9L590.5,339.9L591,339.9L591.5,339.9L592,339.9L592.5,339.9L593.1,339.9L593.6,339.9L594.1,339.9L594.6,339.9L595.1,339.9L595.6,339.9L596.2,339.9L596.7,340L597.2,340L597.7,340L598.2,340L598.8,340L599.3,340L599.8,340L600.3,340L600.8,340L601.3,340L601.9,340L602.4,340L602.9,340L602.9,340.2Z" fill="url(#gE)"/><path d="M539.7,340.2L539.7,340L540.2,340L540.7,339.9L541.2,339.8L541.8,339.6L542.3,339.4L542.8,339.1L543.3,338.8L543.8,338.3L544.4,337.8L544.9,337.1L545.4,336.3L545.9,335.4L546.4,334.3L546.9,333.1L547.5,331.8L548,330.3L548.5,328.7L549,327L549.5,325.3L550.1,323.6L550.6,321.9L551.1,320.4L551.6,318.9L552.1,317.7L552.6,316.8L553.2,316.1L553.7,315.7L554.2,315.7L554.7,315.9L555.2,316.5L555.8,317.4L556.3,318.5L556.8,319.9L557.3,321.4L557.8,323L558.3,324.7L558.9,326.4L559.4,328.1L559.9,329.8L560.4,331.3L560.9,332.7L561.5,333.9L562,335.1L562.5,336L563,336.9L563.5,337.6L564,338.2L564.6,338.6L565.1,339L565.6,339.3L566.1,339.5L566.6,339.7L567.2,339.9L567.7,340L568.2,340L568.2,340.2Z" fill="url(#gP)"/><path d="M540.7,340.2L540.7,340L541.2,340L541.8,339.9L542.3,339.9L542.8,339.8L543.3,339.7L543.8,339.5L544.4,339.4L544.9,339.3L545.4,339.1L545.9,338.9L546.4,338.7L546.9,338.5L547.5,338.3L548,338.1L548.5,337.9L549,337.6L549.5,337.4L550.1,337.1L550.6,336.9L551.1,336.6L551.6,336.4L552.1,336.1L552.6,335.9L553.2,335.6L553.7,335.4L554.2,335.1L554.7,334.9L555.2,334.7L555.8,334.5L556.3,334.3L556.8,334.1L557.3,333.9L557.8,333.7L558.3,333.6L558.9,333.4L559.4,333.3L559.9,333.1L560.4,333L560.9,332.9L561.5,332.8L562,332.8L562.5,332.7L563,332.6L563.5,332.6L564,332.6L564.6,332.6L565.1,332.6L565.6,332.6L566.1,332.7L566.6,332.7L567.2,332.8L567.7,332.8L568.2,332.9L568.7,333L569.2,333.1L569.7,333.3L570.3,333.4L570.8,333.5L571.3,333.7L571.8,333.8L572.3,334L572.9,334.1L573.4,334.3L573.9,334.5L574.4,334.7L574.9,334.8L575.4,335L576,335.2L576.5,335.4L577,335.6L577.5,335.8L578,335.9L578.6,336.1L579.1,336.3L579.6,336.5L580.1,336.7L580.6,336.8L581.1,337L581.7,337.2L582.2,337.3L582.7,337.5L583.2,337.7L583.7,337.8L584.3,338L584.8,338.1L585.3,338.2L585.8,338.4L586.3,338.5L586.8,338.6L587.4,338.7L587.9,338.8L588.4,338.9L588.9,339L589.4,339.1L590,339.2L590.5,339.3L591,339.3L591.5,339.4L592,339.5L592.5,339.5L593.1,339.6L593.6,339.6L594.1,339.7L594.6,339.7L595.1,339.8L595.6,339.8L596.2,339.9L596.7,339.9L597.2,339.9L597.7,339.9L598.2,340L598.8,340L599.3,340L599.8,340L600.3,340.1L600.3,340.2Z" fill="url(#gM)"/><path d="M524.7,337.9 L525.2,337.8 L525.7,337.6 L526.2,337.4 L526.7,337.2 L527.3,336.9 L527.8,336.6 L528.3,336.1 L528.8,335.4 L529.3,334.5 L529.9,333.3 L530.4,331.6 L530.9,329.3 L531.4,326 L531.9,321.7 L532.4,315.9 L533,308.3 L533.5,298.6 L534,286.2 L534.5,271 L535,252.5 L535.6,249 L536.1,249 L536.6,249 L537.1,249 L537.6,249 L538.1,249 L538.7,249 L539.2,249 L539.7,249 L540.2,249 L540.7,249 L541.2,249 L541.8,249 L542.3,249 L542.8,249 L543.3,249 L543.8,249 L544.4,249 L544.9,249 L545.4,249 L545.9,249 L546.4,249 L546.9,249 L547.5,249 L548,249 L548.5,249 L549,249 L549.5,249.8 L550.1,263.2 L550.6,273.7 L551.1,281.7 L551.6,287.5 L552.1,291.7 L552.6,294.7 L553.2,296.7 L553.7,298.1 L554.2,299.2 L554.7,300.1 L555.2,301 L555.8,301.9 L556.3,303 L556.8,304.2 L557.3,305.6 L557.8,307.1 L558.3,308.7 L558.9,310.3 L559.4,312 L559.9,313.7 L560.4,315.3 L560.9,316.9 L561.5,318.4 L562,319.9 L562.5,321.2 L563,322.4 L563.5,323.6 L564,324.6 L564.6,325.6 L565.1,326.4 L565.6,327.2 L566.1,327.9 L566.6,328.6 L567.2,329.2 L567.7,329.7 L568.2,330.2 L568.7,330.6 L569.2,331 L569.7,331.4 L570.3,331.7 L570.8,332.1 L571.3,332.4 L571.8,332.6 L572.3,332.9 L572.9,333.2 L573.4,333.4 L573.9,333.6 L574.4,333.9 L574.9,334.1 L575.4,334.3 L576,334.5 L576.5,334.7 L577,335 L577.5,335.2 L578,335.4 L578.6,335.6 L579.1,335.8 L579.6,336 L580.1,336.2 L580.6,336.4 L581.1,336.5 L581.7,336.7 L582.2,336.9 L582.7,337.1 L583.2,337.2 L583.7,337.4 L584.3,337.5 L584.8,337.7 L585.3,337.8 L585.8,338 L586.3,338.1 L586.8,338.2 L587.4,338.3 L587.9,338.5 L588.4,338.6 L588.9,338.7 L589.4,338.8 L590,338.9 L590.5,338.9 L591,339 L591.5,339.1 L592,339.2 L592.5,339.2 L593.1,339.3 L593.6,339.4 L594.1,339.4 L594.6,339.5 L595.1,339.5 L595.6,339.6 L596.2,339.6 L596.7,339.6 L597.2,339.7 L597.7,339.7 L598.2,339.7 L598.8,339.8 L599.3,339.8 L599.8,339.8 L600.3,339.8 L600.8,339.9 L601.3,339.9 L601.9,339.9 L602.4,339.9 L602.9,339.9" fill="none" stroke="#ea1a20" stroke-width="1.2" stroke-linejoin="round"/><path d="M525.2,337.6h0M527.1,336.7h0M529,334.8h0M530.9,329.3h0M532.8,311.4h0M534.7,265.2h0M551.8,288.7h0M553.7,298h0M555.6,300.9h0M557.5,306.4h0M559.4,312.3h0M561.3,317.6h0M563.2,322.9h0M565.1,326.5h0M567,328.9h0M568.9,331h0M570.8,332.6h0M572.7,333.5h0M574.6,334.4h0M576.5,334.7h0M578.4,335.8h0M580.3,336.5h0M582.2,336.9h0M584.1,337.8h0M586,337.5h0M587.9,338.5h0M589.8,338.8h0M591.7,339.1h0M593.6,339.5h0M595.5,339.7h0M597.4,339.3h0M599.3,339.7h0M601.2,339.7h0M603.1,340.2h0" stroke="#1a0000" stroke-width="1.85" stroke-linecap="round" fill="none"/></g>
<rect x="524.9" y="267" width="77.7" height="73.2" fill="none" stroke="#000" stroke-width="1.25"/>
<path d="M524.9,322.9h3M524.9,305.6h3M524.9,288.3h3M524.9,271h3M541.9,340.2v-2.3M559.2,340.2v-2.3M576.5,340.2v-2.3M593.7,340.2v-2.3" stroke="#000" stroke-width="1"/>
<text x="598.3" y="276.7" font-size="8.5" class="t" text-anchor="end">(0.14, 0.14)</text>
<text x="541.9" y="349.5" font-size="8.2" class="t" text-anchor="middle">0</text>
<text x="559.2" y="349.5" font-size="8.2" class="t" text-anchor="middle">100</text>
<text x="576.5" y="349.5" font-size="8.2" class="t" text-anchor="middle">200</text>
<text x="593.7" y="349.5" font-size="8.2" class="t" text-anchor="middle">300</text>
<g clip-path="url(#c37)"><path d="M605.9,340.2L605.9,338.1L606.4,338L606.9,337.8L607.5,337.6L608,337.4L608.5,337.1L609,336.7L609.5,336.2L610.1,335.5L610.6,334.6L611.1,333.4L611.6,331.7L612.1,329.4L612.6,326.3L613.2,322.3L613.7,317L614.2,310.1L614.7,301.5L615.2,290.6L615.8,277.4L616.3,266.3L616.8,266.3L617.3,266.3L617.8,266.3L618.3,266.3L618.9,266.3L619.4,266.3L619.9,266.3L620.4,266.3L620.9,266.3L621.5,266.3L622,266.3L622.5,266.3L623,266.3L623.5,266.3L624,266.3L624.6,266.3L625.1,266.3L625.6,266.3L626.1,266.3L626.6,266.3L627.2,266.3L627.7,266.3L628.2,266.3L628.7,266.3L629.2,266.3L629.7,266.3L630.3,266.3L630.8,266.3L631.3,266.3L631.8,266.3L632.3,277.4L632.9,290.6L633.4,301.5L633.9,310.1L634.4,317L634.9,322.3L635.4,326.3L636,329.4L636.5,331.7L637,333.4L637.5,334.6L638,335.5L638.6,336.2L639.1,336.7L639.6,337.1L640.1,337.4L640.6,337.6L641.1,337.8L641.7,338L642.2,338.1L642.7,338.2L643.2,338.3L643.7,338.4L644.2,338.5L644.8,338.6L645.3,338.6L645.8,338.7L646.3,338.8L646.8,338.8L647.4,338.9L647.9,339L648.4,339L648.9,339L649.4,339.1L649.9,339.1L650.5,339.2L651,339.2L651.5,339.2L652,339.3L652.5,339.3L653.1,339.3L653.6,339.4L654.1,339.4L654.6,339.4L655.1,339.5L655.6,339.5L656.2,339.5L656.7,339.5L657.2,339.5L657.7,339.6L658.2,339.6L658.8,339.6L659.3,339.6L659.8,339.6L660.3,339.6L660.8,339.7L661.3,339.7L661.9,339.7L662.4,339.7L662.9,339.7L663.4,339.7L663.9,339.7L664.5,339.8L665,339.8L665.5,339.8L666,339.8L666.5,339.8L667,339.8L667.6,339.8L668.1,339.8L668.6,339.8L669.1,339.8L669.6,339.8L670.2,339.9L670.7,339.9L671.2,339.9L671.7,339.9L672.2,339.9L672.7,339.9L673.3,339.9L673.8,339.9L674.3,339.9L674.8,339.9L675.3,339.9L675.9,339.9L676.4,339.9L676.9,339.9L677.4,339.9L677.9,339.9L678.4,340L679,340L679.5,340L680,340L680.5,340L681,340L681.6,340L682.1,340L682.6,340L683.1,340L683.6,340L684.1,340L684.1,340.2Z" fill="url(#gE)"/><path d="M620.4,340.2L620.4,340L620.9,340L621.5,339.9L622,339.7L622.5,339.6L623,339.3L623.5,339.1L624,338.7L624.6,338.3L625.1,337.7L625.6,337.1L626.1,336.3L626.6,335.4L627.2,334.4L627.7,333.2L628.2,332L628.7,330.6L629.2,329.2L629.7,327.7L630.3,326.2L630.8,324.7L631.3,323.3L631.8,322L632.3,320.9L632.9,320L633.4,319.3L633.9,318.9L634.4,318.7L634.9,318.9L635.4,319.3L636,320L636.5,320.9L637,322L637.5,323.3L638,324.7L638.6,326.2L639.1,327.7L639.6,329.2L640.1,330.6L640.6,332L641.1,333.2L641.7,334.4L642.2,335.4L642.7,336.3L643.2,337.1L643.7,337.7L644.2,338.3L644.8,338.7L645.3,339.1L645.8,339.3L646.3,339.6L646.8,339.7L647.4,339.9L647.9,340L648.4,340L648.4,340.2Z" fill="url(#gP)"/><path d="M620.9,340.2L620.9,340.1L621.5,340L622,339.9L622.5,339.9L623,339.8L623.5,339.7L624,339.6L624.6,339.4L625.1,339.3L625.6,339.1L626.1,338.9L626.6,338.7L627.2,338.4L627.7,338.2L628.2,337.9L628.7,337.7L629.2,337.4L629.7,337.1L630.3,336.8L630.8,336.5L631.3,336.3L631.8,336L632.3,335.7L632.9,335.5L633.4,335.2L633.9,335L634.4,334.8L634.9,334.6L635.4,334.4L636,334.2L636.5,334.1L637,333.9L637.5,333.8L638,333.7L638.6,333.6L639.1,333.5L639.6,333.4L640.1,333.4L640.6,333.3L641.1,333.3L641.7,333.3L642.2,333.3L642.7,333.3L643.2,333.3L643.7,333.4L644.2,333.4L644.8,333.5L645.3,333.5L645.8,333.6L646.3,333.7L646.8,333.8L647.4,333.9L647.9,334L648.4,334.2L648.9,334.3L649.4,334.4L649.9,334.6L650.5,334.7L651,334.9L651.5,335L652,335.2L652.5,335.4L653.1,335.5L653.6,335.7L654.1,335.9L654.6,336L655.1,336.2L655.6,336.4L656.2,336.6L656.7,336.7L657.2,336.9L657.7,337L658.2,337.2L658.8,337.4L659.3,337.5L659.8,337.7L660.3,337.8L660.8,337.9L661.3,338.1L661.9,338.2L662.4,338.3L662.9,338.4L663.4,338.6L663.9,338.7L664.5,338.8L665,338.9L665.5,339L666,339.1L666.5,339.1L667,339.2L667.6,339.3L668.1,339.4L668.6,339.4L669.1,339.5L669.6,339.6L670.2,339.6L670.7,339.7L671.2,339.7L671.7,339.8L672.2,339.8L672.7,339.8L673.3,339.9L673.8,339.9L674.3,339.9L674.8,340L675.3,340L675.9,340L676.4,340L676.9,340L677.4,340.1L677.4,340.2Z" fill="url(#gM)"/><path d="M605.9,338.1 L606.4,338 L606.9,337.8 L607.5,337.6 L608,337.4 L608.5,337.1 L609,336.7 L609.5,336.2 L610.1,335.5 L610.6,334.6 L611.1,333.4 L611.6,331.7 L612.1,329.4 L612.6,326.3 L613.2,322.3 L613.7,317 L614.2,310.1 L614.7,301.5 L615.2,290.6 L615.8,277.3 L616.3,261.3 L616.8,249 L617.3,249 L617.8,249 L618.3,249 L618.9,249 L619.4,249 L619.9,249 L620.4,249 L620.9,249 L621.5,249 L622,249 L622.5,249 L623,249 L623.5,249 L624,249 L624.6,249 L625.1,249 L625.6,249 L626.1,249 L626.6,249 L627.2,249 L627.7,249 L628.2,249 L628.7,249 L629.2,249 L629.7,249 L630.3,249 L630.8,249 L631.3,249 L631.8,249 L632.3,251.6 L632.9,263.3 L633.4,272.9 L633.9,280.5 L634.4,286.6 L634.9,291.4 L635.4,295.3 L636,298.5 L636.5,301.1 L637,303.4 L637.5,305.4 L638,307.3 L638.6,309.1 L639.1,310.8 L639.6,312.5 L640.1,314.1 L640.6,315.6 L641.1,317.1 L641.7,318.5 L642.2,319.8 L642.7,321.1 L643.2,322.3 L643.7,323.4 L644.2,324.5 L644.8,325.5 L645.3,326.4 L645.8,327.2 L646.3,328 L646.8,328.8 L647.4,329.4 L647.9,330.1 L648.4,330.7 L648.9,331.2 L649.4,331.7 L649.9,332.2 L650.5,332.6 L651,333 L651.5,333.4 L652,333.7 L652.5,334 L653.1,334.3 L653.6,334.6 L654.1,334.9 L654.6,335.1 L655.1,335.3 L655.6,335.6 L656.2,335.8 L656.7,336 L657.2,336.2 L657.7,336.4 L658.2,336.6 L658.8,336.7 L659.3,336.9 L659.8,337.1 L660.3,337.2 L660.8,337.4 L661.3,337.5 L661.9,337.7 L662.4,337.8 L662.9,338 L663.4,338.1 L663.9,338.2 L664.5,338.3 L665,338.4 L665.5,338.5 L666,338.6 L666.5,338.7 L667,338.8 L667.6,338.9 L668.1,339 L668.6,339.1 L669.1,339.1 L669.6,339.2 L670.2,339.3 L670.7,339.3 L671.2,339.4 L671.7,339.4 L672.2,339.5 L672.7,339.5 L673.3,339.6 L673.8,339.6 L674.3,339.6 L674.8,339.7 L675.3,339.7 L675.9,339.7 L676.4,339.8 L676.9,339.8 L677.4,339.8 L677.9,339.8 L678.4,339.8 L679,339.9 L679.5,339.9 L680,339.9 L680.5,339.9 L681,339.9 L681.6,339.9 L682.1,339.9 L682.6,339.9 L683.1,340 L683.6,340 L684.1,340" fill="none" stroke="#ea1a20" stroke-width="1.2" stroke-linejoin="round"/><path d="M606.4,338.1h0M608.3,337.3h0M610.2,335.9h0M612.1,328.9h0M614,312.3h0M615.9,272.5h0M633,266.4h0M634.9,291.1h0M636.8,303.1h0M638.7,309.6h0M640.6,315.3h0M642.5,321.2h0M644.4,324.2h0M646.3,327.9h0M648.2,330.1h0M650.1,332.4h0M652,333.9h0M653.9,334.2h0M655.8,335.7h0M657.7,337.2h0M659.6,336.7h0M661.5,337.4h0M663.4,337.5h0M665.3,338.6h0M667.2,338.4h0M669.1,339.3h0M671,339.4h0M672.9,339.9h0M674.8,339.3h0M676.7,340.1h0M678.6,339.7h0M680.5,340h0M682.4,340.6h0M684.3,339.5h0" stroke="#1a0000" stroke-width="1.85" stroke-linecap="round" fill="none"/></g>
<rect x="606.2" y="267" width="77.7" height="73.2" fill="none" stroke="#000" stroke-width="1.25"/>
<path d="M606.2,322.9h3M606.2,305.6h3M606.2,288.3h3M606.2,271h3M623.2,340.2v-2.3M640.4,340.2v-2.3M657.7,340.2v-2.3M675,340.2v-2.3" stroke="#000" stroke-width="1"/>
<text x="679.6" y="276.7" font-size="8.5" class="t" text-anchor="end">(0.1, 0.1)</text>
<text x="623.2" y="349.5" font-size="8.2" class="t" text-anchor="middle">0</text>
<text x="640.4" y="349.5" font-size="8.2" class="t" text-anchor="middle">100</text>
<text x="657.7" y="349.5" font-size="8.2" class="t" text-anchor="middle">200</text>
<text x="675" y="349.5" font-size="8.2" class="t" text-anchor="middle">300</text>
</svg></body></html>
